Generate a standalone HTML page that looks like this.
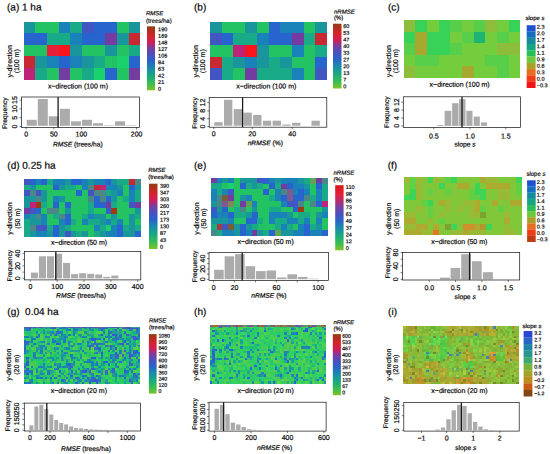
<!DOCTYPE html><html><head><meta charset="utf-8"><title>fig</title><style>html,body{margin:0;padding:0;background:#fff}svg{display:block}text{font-family:"Liberation Sans", sans-serif;fill:#000;text-rendering:geometricPrecision;stroke:#000;stroke-width:0.18px}</style></head><body>
<svg width="550" height="454" viewBox="0 0 550 454">
<rect width="550" height="454" fill="#fff"/>
<!-- panel a -->
<text x="7" y="10.4" font-size="10" text-anchor="start" transform="rotate(0.03 7 10.4)">(a) 1 ha</text>
<g shape-rendering="crispEdges">
<path fill="#19969b" d="M23.6 21.6h11.72v11.65h-11.72zM128.63 21.6h11.72v11.65h-11.72zM116.96 33.2h11.72v11.65h-11.72zM70.28 44.8h11.72v11.65h-11.72zM105.29 44.8h11.72v11.65h-11.72zM35.27 56.4h11.72v11.65h-11.72zM81.95 56.4h11.72v11.65h-11.72z"/>
<path fill="#23c364" d="M35.27 21.6h11.72v11.65h-11.72zM46.94 21.6h11.72v11.65h-11.72zM116.96 21.6h11.72v11.65h-11.72zM23.6 44.8h11.72v11.65h-11.72zM35.27 44.8h11.72v11.65h-11.72zM81.95 44.8h11.72v11.65h-11.72zM93.62 44.8h11.72v11.65h-11.72zM116.96 44.8h11.72v11.65h-11.72zM105.29 56.4h11.72v11.65h-11.72zM46.94 68h11.72v11.65h-11.72zM70.28 68h11.72v11.65h-11.72zM116.96 68h11.72v11.65h-11.72z"/>
<path fill="#1982b9" d="M58.61 21.6h11.72v11.65h-11.72zM70.28 33.2h11.72v11.65h-11.72zM46.94 56.4h11.72v11.65h-11.72zM70.28 56.4h11.72v11.65h-11.72z"/>
<path fill="#19aa87" d="M70.28 21.6h11.72v11.65h-11.72zM46.94 33.2h11.72v11.65h-11.72zM58.61 33.2h11.72v11.65h-11.72zM128.63 44.8h11.72v11.65h-11.72zM93.62 56.4h11.72v11.65h-11.72zM35.27 68h11.72v11.65h-11.72zM81.95 68h11.72v11.65h-11.72z"/>
<path fill="#4155c3" d="M81.95 21.6h11.72v11.65h-11.72z"/>
<path fill="#2864cd" d="M93.62 21.6h11.72v11.65h-11.72zM105.29 21.6h11.72v11.65h-11.72zM23.6 33.2h11.72v11.65h-11.72zM35.27 33.2h11.72v11.65h-11.72zM81.95 33.2h11.72v11.65h-11.72zM93.62 33.2h11.72v11.65h-11.72zM58.61 56.4h11.72v11.65h-11.72zM128.63 56.4h11.72v11.65h-11.72zM105.29 68h11.72v11.65h-11.72z"/>
<path fill="#733ca0" d="M105.29 33.2h11.72v11.65h-11.72zM58.61 68h11.72v11.65h-11.72zM128.63 68h11.72v11.65h-11.72z"/>
<path fill="#c82832" d="M128.63 33.2h11.72v11.65h-11.72zM23.6 56.4h11.72v11.65h-11.72z"/>
<path fill="#e61e37" d="M46.94 44.8h11.72v11.65h-11.72z"/>
<path fill="#fa141e" d="M58.61 44.8h11.72v11.65h-11.72z"/>
<path fill="#19d26e" d="M116.96 56.4h11.72v11.65h-11.72zM93.62 68h11.72v11.65h-11.72z"/>
<path fill="#be2378" d="M23.6 68h11.72v11.65h-11.72z"/>
</g>
<text x="77.95" y="88.52" font-size="7" text-anchor="middle" transform="rotate(0.03 77.95 88.52)">x−direction (100 m)</text>
<text x="11.9" y="61.3" font-size="7" text-anchor="middle" transform="rotate(-90 11.9 61.3)">y-direction</text>
<text x="19" y="61.3" font-size="7" text-anchor="middle" transform="rotate(-90 19 61.3)">(100 m)</text>
<defs><linearGradient id="ga" x1="0" y1="0" x2="0" y2="1"><stop offset="0" stop-color="#8c4114"/><stop offset="0.07" stop-color="#b42d1e"/><stop offset="0.16" stop-color="#d7232d"/><stop offset="0.26" stop-color="#cd1e5f"/><stop offset="0.34" stop-color="#7d3c9b"/><stop offset="0.44" stop-color="#4b50be"/><stop offset="0.55" stop-color="#2864c8"/><stop offset="0.66" stop-color="#198caa"/><stop offset="0.78" stop-color="#19aa7d"/><stop offset="0.9" stop-color="#3cbe50"/><stop offset="1" stop-color="#7dc328"/></linearGradient></defs>
<rect x="147" y="26.3" width="8" height="64" fill="url(#ga)"/>
<text x="158.1" y="31.18" font-size="5.5" text-anchor="start" transform="rotate(0.03 158.1 31.18)" stroke-width="0.08">190</text>
<text x="158.1" y="37.79" font-size="5.5" text-anchor="start" transform="rotate(0.03 158.1 37.79)" stroke-width="0.08">169</text>
<text x="158.1" y="44.4" font-size="5.5" text-anchor="start" transform="rotate(0.03 158.1 44.4)" stroke-width="0.08">148</text>
<text x="158.1" y="51.01" font-size="5.5" text-anchor="start" transform="rotate(0.03 158.1 51.01)" stroke-width="0.08">127</text>
<text x="158.1" y="57.62" font-size="5.5" text-anchor="start" transform="rotate(0.03 158.1 57.62)" stroke-width="0.08">106</text>
<text x="158.1" y="64.24" font-size="5.5" text-anchor="start" transform="rotate(0.03 158.1 64.24)" stroke-width="0.08">84</text>
<text x="158.1" y="70.85" font-size="5.5" text-anchor="start" transform="rotate(0.03 158.1 70.85)" stroke-width="0.08">63</text>
<text x="158.1" y="77.46" font-size="5.5" text-anchor="start" transform="rotate(0.03 158.1 77.46)" stroke-width="0.08">42</text>
<text x="158.1" y="84.07" font-size="5.5" text-anchor="start" transform="rotate(0.03 158.1 84.07)" stroke-width="0.08">21</text>
<text x="158.1" y="90.68" font-size="5.5" text-anchor="start" transform="rotate(0.03 158.1 90.68)" stroke-width="0.08">0</text>
<text x="146" y="15.36" font-size="6" text-anchor="start" transform="rotate(0.03 146 15.36)" stroke-width="0.08"><tspan font-style="italic">RMSE</tspan></text>
<text x="146" y="22.76" font-size="6" text-anchor="start" transform="rotate(0.03 146 22.76)" stroke-width="0.08">(trees/ha)</text>
<rect x="26.7" y="119.8" width="10.05" height="6" fill="#ababab"/>
<rect x="37.75" y="99" width="10.05" height="26.8" fill="#ababab"/>
<rect x="48.8" y="116.3" width="10.05" height="9.5" fill="#ababab"/>
<rect x="59.85" y="108.8" width="10.05" height="17" fill="#ababab"/>
<rect x="70.9" y="121.3" width="10.05" height="4.5" fill="#ababab"/>
<rect x="81.95" y="119.8" width="10.05" height="6" fill="#ababab"/>
<rect x="93" y="123.2" width="10.05" height="2.6" fill="#ababab"/>
<rect x="104.05" y="125.3" width="10.05" height="0.5" fill="#ababab"/>
<rect x="115.1" y="121.3" width="10.05" height="4.5" fill="#ababab"/>
<rect x="126.15" y="125.3" width="10.05" height="0.5" fill="#ababab"/>
<rect x="21.5" y="97" width="118.1" height="30.4" fill="none" stroke="#111" stroke-width="0.7"/>
<line x1="58.1" y1="97" x2="58.1" y2="127.4" stroke="#1a1a1a" stroke-width="1.3"/>
<line x1="26.2" y1="127.4" x2="26.2" y2="129.4" stroke="#222" stroke-width="0.6"/>
<text x="26.2" y="136.42" font-size="7" text-anchor="middle" transform="rotate(0.03 26.2 136.42)">0</text>
<line x1="53.8" y1="127.4" x2="53.8" y2="129.4" stroke="#222" stroke-width="0.6"/>
<text x="53.8" y="136.42" font-size="7" text-anchor="middle" transform="rotate(0.03 53.8 136.42)">50</text>
<line x1="81.4" y1="127.4" x2="81.4" y2="129.4" stroke="#222" stroke-width="0.6"/>
<text x="81.4" y="136.42" font-size="7" text-anchor="middle" transform="rotate(0.03 81.4 136.42)">100</text>
<line x1="136.6" y1="127.4" x2="136.6" y2="129.4" stroke="#222" stroke-width="0.6"/>
<text x="136.6" y="136.42" font-size="7" text-anchor="middle" transform="rotate(0.03 136.6 136.42)">200</text>
<line x1="19.5" y1="126.5" x2="21.5" y2="126.5" stroke="#222" stroke-width="0.6"/>
<text x="16.7" y="126.5" font-size="7" text-anchor="middle" transform="rotate(-90 16.7 126.5)">0</text>
<line x1="19.5" y1="117.7" x2="21.5" y2="117.7" stroke="#222" stroke-width="0.6"/>
<text x="16.7" y="117.7" font-size="7" text-anchor="middle" transform="rotate(-90 16.7 117.7)">5</text>
<line x1="19.5" y1="108.9" x2="21.5" y2="108.9" stroke="#222" stroke-width="0.6"/>
<text x="16.7" y="108.9" font-size="7" text-anchor="middle" transform="rotate(-90 16.7 108.9)">10</text>
<line x1="19.5" y1="100.1" x2="21.5" y2="100.1" stroke="#222" stroke-width="0.6"/>
<text x="16.7" y="100.1" font-size="7" text-anchor="middle" transform="rotate(-90 16.7 100.1)">15</text>
<text x="77.8" y="146.51" font-size="6.7" text-anchor="middle" transform="rotate(0.03 77.8 146.51)"><tspan font-style="italic">RMSE</tspan> (trees/ha)</text>
<text x="7.4" y="113.2" font-size="6.7" text-anchor="middle" transform="rotate(-90 7.4 113.2)">Frequency</text>
<!-- panel b -->
<text x="194" y="10.4" font-size="10" text-anchor="start" transform="rotate(0.03 194 10.4)">(b)</text>
<g shape-rendering="crispEdges">
<path fill="#19969b" d="M210 21.7h11.75v11.65h-11.75zM245.1 21.7h11.75v11.65h-11.75zM315.3 21.7h11.75v11.65h-11.75zM256.8 44.9h11.75v11.65h-11.75zM233.4 56.5h11.75v11.65h-11.75zM256.8 56.5h11.75v11.65h-11.75zM280.2 56.5h11.75v11.65h-11.75z"/>
<path fill="#23c364" d="M221.7 21.7h11.75v11.65h-11.75zM233.4 21.7h11.75v11.65h-11.75zM256.8 21.7h11.75v11.65h-11.75zM303.6 21.7h11.75v11.65h-11.75zM210 44.9h11.75v11.65h-11.75zM221.7 44.9h11.75v11.65h-11.75zM268.5 44.9h11.75v11.65h-11.75zM280.2 44.9h11.75v11.65h-11.75zM303.6 44.9h11.75v11.65h-11.75zM291.9 56.5h11.75v11.65h-11.75zM303.6 56.5h11.75v11.65h-11.75zM233.4 68.1h11.75v11.65h-11.75zM303.6 68.1h11.75v11.65h-11.75z"/>
<path fill="#2864cd" d="M268.5 21.7h11.75v11.65h-11.75zM221.7 33.3h11.75v11.65h-11.75zM268.5 33.3h11.75v11.65h-11.75zM280.2 33.3h11.75v11.65h-11.75zM315.3 56.5h11.75v11.65h-11.75z"/>
<path fill="#1982b9" d="M280.2 21.7h11.75v11.65h-11.75zM291.9 21.7h11.75v11.65h-11.75zM256.8 33.3h11.75v11.65h-11.75zM291.9 44.9h11.75v11.65h-11.75zM245.1 56.5h11.75v11.65h-11.75zM291.9 68.1h11.75v11.65h-11.75z"/>
<path fill="#4155c3" d="M210 33.3h11.75v11.65h-11.75zM210 68.1h11.75v11.65h-11.75zM315.3 68.1h11.75v11.65h-11.75z"/>
<path fill="#19aa87" d="M233.4 33.3h11.75v11.65h-11.75zM245.1 33.3h11.75v11.65h-11.75zM303.6 33.3h11.75v11.65h-11.75zM315.3 44.9h11.75v11.65h-11.75zM221.7 56.5h11.75v11.65h-11.75zM268.5 56.5h11.75v11.65h-11.75zM221.7 68.1h11.75v11.65h-11.75zM256.8 68.1h11.75v11.65h-11.75zM268.5 68.1h11.75v11.65h-11.75zM280.2 68.1h11.75v11.65h-11.75z"/>
<path fill="#733ca0" d="M291.9 33.3h11.75v11.65h-11.75zM245.1 68.1h11.75v11.65h-11.75z"/>
<path fill="#c82832" d="M315.3 33.3h11.75v11.65h-11.75zM210 56.5h11.75v11.65h-11.75z"/>
<path fill="#be2378" d="M233.4 44.9h11.75v11.65h-11.75z"/>
<path fill="#fa141e" d="M245.1 44.9h11.75v11.65h-11.75z"/>
</g>
<text x="266.3" y="88.52" font-size="7" text-anchor="middle" transform="rotate(0.03 266.3 88.52)">x−direction (100 m)</text>
<text x="198.3" y="61.3" font-size="7" text-anchor="middle" transform="rotate(-90 198.3 61.3)">y-direction</text>
<text x="205.4" y="61.3" font-size="7" text-anchor="middle" transform="rotate(-90 205.4 61.3)">(100 m)</text>
<defs><linearGradient id="gb" x1="0" y1="0" x2="0" y2="1"><stop offset="0" stop-color="#8c4114"/><stop offset="0.07" stop-color="#b42d1e"/><stop offset="0.16" stop-color="#d7232d"/><stop offset="0.26" stop-color="#cd1e5f"/><stop offset="0.34" stop-color="#7d3c9b"/><stop offset="0.44" stop-color="#4b50be"/><stop offset="0.55" stop-color="#2864c8"/><stop offset="0.66" stop-color="#198caa"/><stop offset="0.78" stop-color="#19aa7d"/><stop offset="0.9" stop-color="#3cbe50"/><stop offset="1" stop-color="#7dc328"/></linearGradient></defs>
<rect x="333" y="23.7" width="8.5" height="64.8" fill="url(#gb)"/>
<text x="343.3" y="27.98" font-size="5.5" text-anchor="start" transform="rotate(0.03 343.3 27.98)" stroke-width="0.08">60</text>
<text x="343.3" y="34.68" font-size="5.5" text-anchor="start" transform="rotate(0.03 343.3 34.68)" stroke-width="0.08">53</text>
<text x="343.3" y="41.38" font-size="5.5" text-anchor="start" transform="rotate(0.03 343.3 41.38)" stroke-width="0.08">47</text>
<text x="343.3" y="48.08" font-size="5.5" text-anchor="start" transform="rotate(0.03 343.3 48.08)" stroke-width="0.08">40</text>
<text x="343.3" y="54.78" font-size="5.5" text-anchor="start" transform="rotate(0.03 343.3 54.78)" stroke-width="0.08">33</text>
<text x="343.3" y="61.48" font-size="5.5" text-anchor="start" transform="rotate(0.03 343.3 61.48)" stroke-width="0.08">27</text>
<text x="343.3" y="68.18" font-size="5.5" text-anchor="start" transform="rotate(0.03 343.3 68.18)" stroke-width="0.08">20</text>
<text x="343.3" y="74.88" font-size="5.5" text-anchor="start" transform="rotate(0.03 343.3 74.88)" stroke-width="0.08">13</text>
<text x="343.3" y="81.58" font-size="5.5" text-anchor="start" transform="rotate(0.03 343.3 81.58)" stroke-width="0.08">7</text>
<text x="343.3" y="88.28" font-size="5.5" text-anchor="start" transform="rotate(0.03 343.3 88.28)" stroke-width="0.08">0</text>
<text x="334" y="13.66" font-size="6" text-anchor="start" transform="rotate(0.03 334 13.66)" stroke-width="0.08"><tspan font-style="italic">nRMSE</tspan></text>
<text x="334" y="19.66" font-size="6" text-anchor="start" transform="rotate(0.03 334 19.66)" stroke-width="0.08">(%)</text>
<rect x="214.3" y="122.2" width="8.32" height="3.5" fill="#ababab"/>
<rect x="224.02" y="99.8" width="8.32" height="25.9" fill="#ababab"/>
<rect x="233.74" y="109.1" width="8.32" height="16.6" fill="#ababab"/>
<rect x="243.46" y="112.6" width="8.32" height="13.1" fill="#ababab"/>
<rect x="253.18" y="114.9" width="8.32" height="10.8" fill="#ababab"/>
<rect x="262.9" y="120.7" width="8.32" height="5" fill="#ababab"/>
<rect x="272.62" y="120.7" width="8.32" height="5" fill="#ababab"/>
<rect x="282.34" y="124.5" width="8.32" height="1.2" fill="#ababab"/>
<rect x="292.06" y="122.8" width="8.32" height="2.9" fill="#ababab"/>
<rect x="311.5" y="120.7" width="8.32" height="5" fill="#ababab"/>
<rect x="209.2" y="97.4" width="117.6" height="29.8" fill="none" stroke="#111" stroke-width="0.7"/>
<line x1="242.6" y1="97.4" x2="242.6" y2="127.2" stroke="#1a1a1a" stroke-width="1.3"/>
<line x1="213.7" y1="127.2" x2="213.7" y2="129.2" stroke="#222" stroke-width="0.6"/>
<text x="213.7" y="136.32" font-size="7" text-anchor="middle" transform="rotate(0.03 213.7 136.32)">0</text>
<line x1="252.3" y1="127.2" x2="252.3" y2="129.2" stroke="#222" stroke-width="0.6"/>
<text x="252.3" y="136.32" font-size="7" text-anchor="middle" transform="rotate(0.03 252.3 136.32)">20</text>
<line x1="292.2" y1="127.2" x2="292.2" y2="129.2" stroke="#222" stroke-width="0.6"/>
<text x="292.2" y="136.32" font-size="7" text-anchor="middle" transform="rotate(0.03 292.2 136.32)">40</text>
<line x1="207.2" y1="126.6" x2="209.2" y2="126.6" stroke="#222" stroke-width="0.6"/>
<text x="204.9" y="126.6" font-size="7" text-anchor="middle" transform="rotate(-90 204.9 126.6)">0</text>
<line x1="207.2" y1="118.8" x2="209.2" y2="118.8" stroke="#222" stroke-width="0.6"/>
<text x="204.9" y="118.8" font-size="7" text-anchor="middle" transform="rotate(-90 204.9 118.8)">4</text>
<line x1="207.2" y1="110.9" x2="209.2" y2="110.9" stroke="#222" stroke-width="0.6"/>
<text x="204.9" y="110.9" font-size="7" text-anchor="middle" transform="rotate(-90 204.9 110.9)">8</text>
<line x1="207.2" y1="102.6" x2="209.2" y2="102.6" stroke="#222" stroke-width="0.6"/>
<text x="204.9" y="102.6" font-size="7" text-anchor="middle" transform="rotate(-90 204.9 102.6)">12</text>
<text x="265.3" y="145.21" font-size="6.7" text-anchor="middle" transform="rotate(0.03 265.3 145.21)"><tspan font-style="italic">nRMSE</tspan> (%)</text>
<text x="196.8" y="113" font-size="6.7" text-anchor="middle" transform="rotate(-90 196.8 113)">Frequency</text>
<!-- panel c -->
<text x="388" y="10.4" font-size="10" text-anchor="start" transform="rotate(0.03 388 10.4)">(c)</text>
<g shape-rendering="crispEdges">
<path fill="#8cbe3c" d="M403.6 20h11.72v11.65h-11.72zM485.29 20h11.72v11.65h-11.72zM496.96 43.2h11.72v11.65h-11.72zM508.63 43.2h11.72v11.65h-11.72zM403.6 66.4h11.72v11.65h-11.72z"/>
<path fill="#38d258" d="M415.27 20h11.72v11.65h-11.72zM438.61 20h11.72v11.65h-11.72zM508.63 20h11.72v11.65h-11.72zM403.6 31.6h11.72v11.65h-11.72zM426.94 31.6h11.72v11.65h-11.72zM438.61 31.6h11.72v11.65h-11.72zM426.94 43.2h11.72v11.65h-11.72zM438.61 43.2h11.72v11.65h-11.72z"/>
<path fill="#73cd3c" d="M426.94 20h11.72v11.65h-11.72zM461.95 20h11.72v11.65h-11.72zM496.96 20h11.72v11.65h-11.72zM450.28 31.6h11.72v11.65h-11.72zM485.29 31.6h11.72v11.65h-11.72zM508.63 31.6h11.72v11.65h-11.72zM461.95 43.2h11.72v11.65h-11.72zM473.62 43.2h11.72v11.65h-11.72zM485.29 43.2h11.72v11.65h-11.72zM403.6 54.8h11.72v11.65h-11.72zM438.61 54.8h11.72v11.65h-11.72zM450.28 54.8h11.72v11.65h-11.72zM461.95 54.8h11.72v11.65h-11.72zM473.62 54.8h11.72v11.65h-11.72zM508.63 54.8h11.72v11.65h-11.72zM415.27 66.4h11.72v11.65h-11.72zM426.94 66.4h11.72v11.65h-11.72zM438.61 66.4h11.72v11.65h-11.72zM450.28 66.4h11.72v11.65h-11.72zM473.62 66.4h11.72v11.65h-11.72zM485.29 66.4h11.72v11.65h-11.72zM508.63 66.4h11.72v11.65h-11.72z"/>
<path fill="#58cf4a" d="M450.28 20h11.72v11.65h-11.72zM473.62 20h11.72v11.65h-11.72zM461.95 31.6h11.72v11.65h-11.72zM496.96 31.6h11.72v11.65h-11.72zM403.6 43.2h11.72v11.65h-11.72zM450.28 43.2h11.72v11.65h-11.72zM415.27 54.8h11.72v11.65h-11.72zM426.94 54.8h11.72v11.65h-11.72zM485.29 54.8h11.72v11.65h-11.72zM496.96 54.8h11.72v11.65h-11.72zM496.96 66.4h11.72v11.65h-11.72z"/>
<path fill="#a6a830" d="M415.27 31.6h11.72v11.65h-11.72zM415.27 43.2h11.72v11.65h-11.72zM461.95 66.4h11.72v11.65h-11.72z"/>
<path fill="#1eb473" d="M473.62 31.6h11.72v11.65h-11.72z"/>
</g>
<text x="459.65" y="86.82" font-size="7" text-anchor="middle" transform="rotate(0.03 459.65 86.82)">x−direction (100 m)</text>
<text x="390.8" y="61.2" font-size="7" text-anchor="middle" transform="rotate(-90 390.8 61.2)">y-direction</text>
<text x="398.5" y="61.2" font-size="7" text-anchor="middle" transform="rotate(-90 398.5 61.2)">(100 m)</text>
<rect x="526.7" y="25.2" width="8.9" height="6.37" fill="#1e50d2"/>
<rect x="526.7" y="31.47" width="8.9" height="6.37" fill="#146ebe"/>
<rect x="526.7" y="37.74" width="8.9" height="6.37" fill="#148ca0"/>
<rect x="526.7" y="44.01" width="8.9" height="6.37" fill="#14a582"/>
<rect x="526.7" y="50.28" width="8.9" height="6.37" fill="#28be5a"/>
<rect x="526.7" y="56.55" width="8.9" height="6.37" fill="#6ec83c"/>
<rect x="526.7" y="62.82" width="8.9" height="6.37" fill="#aaa028"/>
<rect x="526.7" y="69.09" width="8.9" height="6.37" fill="#e66e1e"/>
<rect x="526.7" y="75.36" width="8.9" height="6.37" fill="#f03c14"/>
<rect x="526.7" y="81.63" width="8.9" height="6.37" fill="#f01414"/>
<text x="536.8" y="28.78" font-size="5.5" text-anchor="start" transform="rotate(0.03 536.8 28.78)" stroke-width="0.08">2.3</text>
<text x="536.8" y="35.28" font-size="5.5" text-anchor="start" transform="rotate(0.03 536.8 35.28)" stroke-width="0.08">2.0</text>
<text x="536.8" y="41.78" font-size="5.5" text-anchor="start" transform="rotate(0.03 536.8 41.78)" stroke-width="0.08">1.7</text>
<text x="536.8" y="48.28" font-size="5.5" text-anchor="start" transform="rotate(0.03 536.8 48.28)" stroke-width="0.08">1.4</text>
<text x="536.8" y="54.78" font-size="5.5" text-anchor="start" transform="rotate(0.03 536.8 54.78)" stroke-width="0.08">1.1</text>
<text x="536.8" y="61.28" font-size="5.5" text-anchor="start" transform="rotate(0.03 536.8 61.28)" stroke-width="0.08">0.9</text>
<text x="536.8" y="67.78" font-size="5.5" text-anchor="start" transform="rotate(0.03 536.8 67.78)" stroke-width="0.08">0.6</text>
<text x="536.8" y="74.28" font-size="5.5" text-anchor="start" transform="rotate(0.03 536.8 74.28)" stroke-width="0.08">0.3</text>
<text x="536.8" y="80.78" font-size="5.5" text-anchor="start" transform="rotate(0.03 536.8 80.78)" stroke-width="0.08">0.0</text>
<text x="536.8" y="87.28" font-size="5.5" text-anchor="start" transform="rotate(0.03 536.8 87.28)" stroke-width="0.08">−0.3</text>
<text x="525.5" y="20.06" font-size="6" text-anchor="start" transform="rotate(0.03 525.5 20.06)" stroke-width="0.08">slope <tspan font-style="italic">s</tspan></text>
<rect x="437.3" y="125" width="6.1" height="0.9" fill="#ababab"/>
<rect x="444.6" y="110.8" width="6.7" height="15.1" fill="#ababab"/>
<rect x="452.1" y="103.2" width="6.4" height="22.7" fill="#ababab"/>
<rect x="459.1" y="99.1" width="6.4" height="26.8" fill="#ababab"/>
<rect x="466.4" y="110.8" width="6.1" height="15.1" fill="#ababab"/>
<rect x="473.7" y="116.6" width="6.1" height="9.3" fill="#ababab"/>
<rect x="480.9" y="122.4" width="6.1" height="3.5" fill="#ababab"/>
<rect x="403.3" y="96.8" width="117.2" height="30.6" fill="none" stroke="#111" stroke-width="0.7"/>
<line x1="462" y1="96.8" x2="462" y2="127.4" stroke="#1a1a1a" stroke-width="1.3"/>
<line x1="433.8" y1="127.4" x2="433.8" y2="129.4" stroke="#222" stroke-width="0.6"/>
<text x="433.8" y="138.62" font-size="7" text-anchor="middle" transform="rotate(0.03 433.8 138.62)">0.5</text>
<line x1="470" y1="127.4" x2="470" y2="129.4" stroke="#222" stroke-width="0.6"/>
<text x="470" y="138.62" font-size="7" text-anchor="middle" transform="rotate(0.03 470 138.62)">1.0</text>
<line x1="505.8" y1="127.4" x2="505.8" y2="129.4" stroke="#222" stroke-width="0.6"/>
<text x="505.8" y="138.62" font-size="7" text-anchor="middle" transform="rotate(0.03 505.8 138.62)">1.5</text>
<line x1="401.3" y1="125.9" x2="403.3" y2="125.9" stroke="#222" stroke-width="0.6"/>
<text x="398.9" y="125.9" font-size="7" text-anchor="middle" transform="rotate(-90 398.9 125.9)">0</text>
<line x1="401.3" y1="118" x2="403.3" y2="118" stroke="#222" stroke-width="0.6"/>
<text x="398.9" y="118" font-size="7" text-anchor="middle" transform="rotate(-90 398.9 118)">4</text>
<line x1="401.3" y1="110.1" x2="403.3" y2="110.1" stroke="#222" stroke-width="0.6"/>
<text x="398.9" y="110.1" font-size="7" text-anchor="middle" transform="rotate(-90 398.9 110.1)">8</text>
<line x1="401.3" y1="102.2" x2="403.3" y2="102.2" stroke="#222" stroke-width="0.6"/>
<text x="398.9" y="102.2" font-size="7" text-anchor="middle" transform="rotate(-90 398.9 102.2)">12</text>
<text x="465" y="146.61" font-size="6.7" text-anchor="middle" transform="rotate(0.03 465 146.61)">slope <tspan font-style="italic">s</tspan></text>
<text x="388.6" y="112.1" font-size="6.7" text-anchor="middle" transform="rotate(-90 388.6 112.1)">Frequency</text>
<!-- panel d -->
<text x="7.3" y="168.7" font-size="10" text-anchor="start" transform="rotate(0.03 7.3 168.7)">(d) 0.25 ha</text>
<g shape-rendering="crispEdges">
<path fill="#4155c3" d="M23.9 178.9h5.88v5.82h-5.88zM23.9 190.44h5.88v5.82h-5.88zM35.56 190.44h5.88v5.82h-5.88zM88.03 190.44h5.88v5.82h-5.88zM128.84 201.98h5.88v5.82h-5.88zM29.73 207.75h5.88v5.82h-5.88zM35.56 225.06h5.88v5.82h-5.88zM41.39 225.06h5.88v5.82h-5.88zM64.71 230.83h5.88v5.82h-5.88z"/>
<path fill="#2864cd" d="M29.73 178.9h5.88v5.82h-5.88zM41.39 178.9h5.88v5.82h-5.88zM70.54 178.9h5.88v5.82h-5.88zM76.37 178.9h5.88v5.82h-5.88zM105.52 178.9h5.88v5.82h-5.88zM53.05 184.67h5.88v5.82h-5.88zM128.84 184.67h5.88v5.82h-5.88zM76.37 190.44h5.88v5.82h-5.88zM93.86 196.21h5.88v5.82h-5.88zM105.52 196.21h5.88v5.82h-5.88zM53.05 201.98h5.88v5.82h-5.88zM64.71 201.98h5.88v5.82h-5.88zM93.86 201.98h5.88v5.82h-5.88zM99.69 201.98h5.88v5.82h-5.88zM35.56 207.75h5.88v5.82h-5.88zM105.52 207.75h5.88v5.82h-5.88zM64.71 213.52h5.88v5.82h-5.88zM64.71 219.29h5.88v5.82h-5.88zM53.05 225.06h5.88v5.82h-5.88zM117.18 225.06h5.88v5.82h-5.88zM53.05 230.83h5.88v5.82h-5.88zM117.18 230.83h5.88v5.82h-5.88zM134.67 230.83h5.88v5.82h-5.88z"/>
<path fill="#1982b9" d="M35.56 178.9h5.88v5.82h-5.88zM53.05 178.9h5.88v5.82h-5.88zM58.88 178.9h5.88v5.82h-5.88zM82.2 178.9h5.88v5.82h-5.88zM93.86 178.9h5.88v5.82h-5.88zM99.69 178.9h5.88v5.82h-5.88zM82.2 184.67h5.88v5.82h-5.88zM105.52 184.67h5.88v5.82h-5.88zM111.35 184.67h5.88v5.82h-5.88zM117.18 190.44h5.88v5.82h-5.88zM128.84 190.44h5.88v5.82h-5.88zM53.05 196.21h5.88v5.82h-5.88zM128.84 196.21h5.88v5.82h-5.88zM23.9 213.52h5.88v5.82h-5.88zM41.39 213.52h5.88v5.82h-5.88zM88.03 213.52h5.88v5.82h-5.88zM41.39 219.29h5.88v5.82h-5.88zM58.88 219.29h5.88v5.82h-5.88zM82.2 219.29h5.88v5.82h-5.88zM105.52 219.29h5.88v5.82h-5.88zM117.18 219.29h5.88v5.82h-5.88zM93.86 225.06h5.88v5.82h-5.88zM111.35 225.06h5.88v5.82h-5.88zM35.56 230.83h5.88v5.82h-5.88zM41.39 230.83h5.88v5.82h-5.88zM105.52 230.83h5.88v5.82h-5.88zM111.35 230.83h5.88v5.82h-5.88z"/>
<path fill="#19aa87" d="M47.22 178.9h5.88v5.82h-5.88zM117.18 178.9h5.88v5.82h-5.88zM123.01 178.9h5.88v5.82h-5.88zM23.9 184.67h5.88v5.82h-5.88zM64.71 184.67h5.88v5.82h-5.88zM70.54 184.67h5.88v5.82h-5.88zM105.52 190.44h5.88v5.82h-5.88zM134.67 190.44h5.88v5.82h-5.88zM123.01 196.21h5.88v5.82h-5.88zM134.67 196.21h5.88v5.82h-5.88zM41.39 201.98h5.88v5.82h-5.88zM88.03 201.98h5.88v5.82h-5.88zM111.35 201.98h5.88v5.82h-5.88zM88.03 207.75h5.88v5.82h-5.88zM53.05 213.52h5.88v5.82h-5.88zM82.2 213.52h5.88v5.82h-5.88zM134.67 213.52h5.88v5.82h-5.88zM23.9 219.29h5.88v5.82h-5.88zM70.54 219.29h5.88v5.82h-5.88zM88.03 219.29h5.88v5.82h-5.88zM93.86 219.29h5.88v5.82h-5.88zM111.35 219.29h5.88v5.82h-5.88zM23.9 225.06h5.88v5.82h-5.88zM47.22 225.06h5.88v5.82h-5.88zM64.71 225.06h5.88v5.82h-5.88zM99.69 225.06h5.88v5.82h-5.88zM123.01 225.06h5.88v5.82h-5.88zM134.67 225.06h5.88v5.82h-5.88zM23.9 230.83h5.88v5.82h-5.88zM76.37 230.83h5.88v5.82h-5.88zM93.86 230.83h5.88v5.82h-5.88z"/>
<path fill="#19969b" d="M64.71 178.9h5.88v5.82h-5.88zM88.03 178.9h5.88v5.82h-5.88zM111.35 178.9h5.88v5.82h-5.88zM29.73 184.67h5.88v5.82h-5.88zM58.88 184.67h5.88v5.82h-5.88zM117.18 184.67h5.88v5.82h-5.88zM134.67 184.67h5.88v5.82h-5.88zM41.39 190.44h5.88v5.82h-5.88zM111.35 190.44h5.88v5.82h-5.88zM23.9 196.21h5.88v5.82h-5.88zM29.73 196.21h5.88v5.82h-5.88zM41.39 196.21h5.88v5.82h-5.88zM58.88 196.21h5.88v5.82h-5.88zM111.35 196.21h5.88v5.82h-5.88zM23.9 201.98h5.88v5.82h-5.88zM64.71 207.75h5.88v5.82h-5.88zM134.67 207.75h5.88v5.82h-5.88zM29.73 213.52h5.88v5.82h-5.88zM93.86 213.52h5.88v5.82h-5.88zM99.69 213.52h5.88v5.82h-5.88zM111.35 213.52h5.88v5.82h-5.88zM128.84 213.52h5.88v5.82h-5.88zM29.73 219.29h5.88v5.82h-5.88zM35.56 219.29h5.88v5.82h-5.88zM99.69 219.29h5.88v5.82h-5.88zM128.84 219.29h5.88v5.82h-5.88zM58.88 225.06h5.88v5.82h-5.88zM128.84 225.06h5.88v5.82h-5.88zM29.73 230.83h5.88v5.82h-5.88zM47.22 230.83h5.88v5.82h-5.88zM58.88 230.83h5.88v5.82h-5.88zM70.54 230.83h5.88v5.82h-5.88zM82.2 230.83h5.88v5.82h-5.88zM99.69 230.83h5.88v5.82h-5.88zM123.01 230.83h5.88v5.82h-5.88zM128.84 230.83h5.88v5.82h-5.88z"/>
<path fill="#c82832" d="M128.84 178.9h5.88v5.82h-5.88zM93.86 184.67h5.88v5.82h-5.88z"/>
<path fill="#4b8787" d="M134.67 178.9h5.88v5.82h-5.88zM88.03 184.67h5.88v5.82h-5.88zM29.73 190.44h5.88v5.82h-5.88zM93.86 190.44h5.88v5.82h-5.88zM99.69 190.44h5.88v5.82h-5.88zM35.56 196.21h5.88v5.82h-5.88zM88.03 196.21h5.88v5.82h-5.88zM99.69 196.21h5.88v5.82h-5.88zM47.22 207.75h5.88v5.82h-5.88zM53.05 207.75h5.88v5.82h-5.88zM35.56 213.52h5.88v5.82h-5.88zM58.88 213.52h5.88v5.82h-5.88zM29.73 225.06h5.88v5.82h-5.88z"/>
<path fill="#23c364" d="M35.56 184.67h5.88v5.82h-5.88zM41.39 184.67h5.88v5.82h-5.88zM47.22 184.67h5.88v5.82h-5.88zM76.37 184.67h5.88v5.82h-5.88zM123.01 184.67h5.88v5.82h-5.88zM47.22 190.44h5.88v5.82h-5.88zM53.05 190.44h5.88v5.82h-5.88zM58.88 190.44h5.88v5.82h-5.88zM64.71 190.44h5.88v5.82h-5.88zM70.54 190.44h5.88v5.82h-5.88zM82.2 190.44h5.88v5.82h-5.88zM123.01 190.44h5.88v5.82h-5.88zM47.22 196.21h5.88v5.82h-5.88zM64.71 196.21h5.88v5.82h-5.88zM70.54 196.21h5.88v5.82h-5.88zM76.37 196.21h5.88v5.82h-5.88zM82.2 196.21h5.88v5.82h-5.88zM117.18 196.21h5.88v5.82h-5.88zM47.22 201.98h5.88v5.82h-5.88zM58.88 201.98h5.88v5.82h-5.88zM70.54 201.98h5.88v5.82h-5.88zM76.37 201.98h5.88v5.82h-5.88zM82.2 201.98h5.88v5.82h-5.88zM117.18 201.98h5.88v5.82h-5.88zM123.01 201.98h5.88v5.82h-5.88zM41.39 207.75h5.88v5.82h-5.88zM58.88 207.75h5.88v5.82h-5.88zM70.54 207.75h5.88v5.82h-5.88zM76.37 207.75h5.88v5.82h-5.88zM82.2 207.75h5.88v5.82h-5.88zM93.86 207.75h5.88v5.82h-5.88zM99.69 207.75h5.88v5.82h-5.88zM117.18 207.75h5.88v5.82h-5.88zM123.01 207.75h5.88v5.82h-5.88zM128.84 207.75h5.88v5.82h-5.88zM47.22 213.52h5.88v5.82h-5.88zM70.54 213.52h5.88v5.82h-5.88zM76.37 213.52h5.88v5.82h-5.88zM105.52 213.52h5.88v5.82h-5.88zM117.18 213.52h5.88v5.82h-5.88zM123.01 213.52h5.88v5.82h-5.88zM47.22 219.29h5.88v5.82h-5.88zM53.05 219.29h5.88v5.82h-5.88zM76.37 219.29h5.88v5.82h-5.88zM123.01 219.29h5.88v5.82h-5.88zM134.67 219.29h5.88v5.82h-5.88zM70.54 225.06h5.88v5.82h-5.88zM76.37 225.06h5.88v5.82h-5.88zM82.2 225.06h5.88v5.82h-5.88zM88.03 225.06h5.88v5.82h-5.88zM88.03 230.83h5.88v5.82h-5.88z"/>
<path fill="#be2378" d="M99.69 184.67h5.88v5.82h-5.88zM29.73 201.98h5.88v5.82h-5.88z"/>
<path fill="#a03814" d="M35.56 201.98h5.88v5.82h-5.88zM111.35 207.75h5.88v5.82h-5.88z"/>
<path fill="#733ca0" d="M105.52 201.98h5.88v5.82h-5.88zM134.67 201.98h5.88v5.82h-5.88zM23.9 207.75h5.88v5.82h-5.88z"/>
<path fill="#19d26e" d="M105.52 225.06h5.88v5.82h-5.88z"/>
</g>
<text x="79" y="244.82" font-size="7" text-anchor="middle" transform="rotate(0.03 79 244.82)">x−direction (50 m)</text>
<text x="12.4" y="218.5" font-size="7" text-anchor="middle" transform="rotate(-90 12.4 218.5)">y-direction</text>
<text x="19.8" y="218.5" font-size="7" text-anchor="middle" transform="rotate(-90 19.8 218.5)">(50 m)</text>
<defs><linearGradient id="gd" x1="0" y1="0" x2="0" y2="1"><stop offset="0" stop-color="#8c4114"/><stop offset="0.07" stop-color="#b42d1e"/><stop offset="0.16" stop-color="#d7232d"/><stop offset="0.26" stop-color="#cd1e5f"/><stop offset="0.34" stop-color="#7d3c9b"/><stop offset="0.44" stop-color="#4b50be"/><stop offset="0.55" stop-color="#2864c8"/><stop offset="0.66" stop-color="#198caa"/><stop offset="0.78" stop-color="#19aa7d"/><stop offset="0.9" stop-color="#3cbe50"/><stop offset="1" stop-color="#7dc328"/></linearGradient></defs>
<rect x="149" y="183.7" width="8.5" height="65.3" fill="url(#gd)"/>
<text x="159.9" y="187.68" font-size="5.5" text-anchor="start" transform="rotate(0.03 159.9 187.68)" stroke-width="0.08">390</text>
<text x="159.9" y="194.46" font-size="5.5" text-anchor="start" transform="rotate(0.03 159.9 194.46)" stroke-width="0.08">347</text>
<text x="159.9" y="201.24" font-size="5.5" text-anchor="start" transform="rotate(0.03 159.9 201.24)" stroke-width="0.08">303</text>
<text x="159.9" y="208.01" font-size="5.5" text-anchor="start" transform="rotate(0.03 159.9 208.01)" stroke-width="0.08">260</text>
<text x="159.9" y="214.79" font-size="5.5" text-anchor="start" transform="rotate(0.03 159.9 214.79)" stroke-width="0.08">217</text>
<text x="159.9" y="221.57" font-size="5.5" text-anchor="start" transform="rotate(0.03 159.9 221.57)" stroke-width="0.08">173</text>
<text x="159.9" y="228.35" font-size="5.5" text-anchor="start" transform="rotate(0.03 159.9 228.35)" stroke-width="0.08">130</text>
<text x="159.9" y="235.12" font-size="5.5" text-anchor="start" transform="rotate(0.03 159.9 235.12)" stroke-width="0.08">87</text>
<text x="159.9" y="241.9" font-size="5.5" text-anchor="start" transform="rotate(0.03 159.9 241.9)" stroke-width="0.08">43</text>
<text x="159.9" y="248.68" font-size="5.5" text-anchor="start" transform="rotate(0.03 159.9 248.68)" stroke-width="0.08">0</text>
<text x="148.2" y="171.96" font-size="6" text-anchor="start" transform="rotate(0.03 148.2 171.96)" stroke-width="0.08"><tspan font-style="italic">RMSE</tspan></text>
<text x="148.2" y="178.96" font-size="6" text-anchor="start" transform="rotate(0.03 148.2 178.96)" stroke-width="0.08">(trees/ha)</text>
<rect x="30.9" y="272.6" width="7.04" height="5.8" fill="#ababab"/>
<rect x="38.94" y="256.3" width="7.04" height="22.1" fill="#ababab"/>
<rect x="46.98" y="256.3" width="7.04" height="22.1" fill="#ababab"/>
<rect x="55.02" y="253.7" width="7.04" height="24.7" fill="#ababab"/>
<rect x="63.06" y="262.9" width="7.04" height="15.5" fill="#ababab"/>
<rect x="71.1" y="274.1" width="7.04" height="4.3" fill="#ababab"/>
<rect x="79.14" y="273.2" width="7.04" height="5.2" fill="#ababab"/>
<rect x="87.18" y="273.8" width="7.04" height="4.6" fill="#ababab"/>
<rect x="95.22" y="274.5" width="7.04" height="3.9" fill="#ababab"/>
<rect x="103.26" y="276.9" width="7.04" height="1.5" fill="#ababab"/>
<rect x="111.3" y="275.6" width="7.04" height="2.8" fill="#ababab"/>
<rect x="24.5" y="251.4" width="116.3" height="28.5" fill="none" stroke="#111" stroke-width="0.7"/>
<line x1="55.8" y1="251.4" x2="55.8" y2="279.9" stroke="#1a1a1a" stroke-width="1.3"/>
<line x1="30.4" y1="279.9" x2="30.4" y2="281.9" stroke="#222" stroke-width="0.6"/>
<text x="30.4" y="289.12" font-size="7" text-anchor="middle" transform="rotate(0.03 30.4 289.12)">0</text>
<line x1="57.2" y1="279.9" x2="57.2" y2="281.9" stroke="#222" stroke-width="0.6"/>
<text x="57.2" y="289.12" font-size="7" text-anchor="middle" transform="rotate(0.03 57.2 289.12)">100</text>
<line x1="84" y1="279.9" x2="84" y2="281.9" stroke="#222" stroke-width="0.6"/>
<text x="84" y="289.12" font-size="7" text-anchor="middle" transform="rotate(0.03 84 289.12)">200</text>
<line x1="110.9" y1="279.9" x2="110.9" y2="281.9" stroke="#222" stroke-width="0.6"/>
<text x="110.9" y="289.12" font-size="7" text-anchor="middle" transform="rotate(0.03 110.9 289.12)">300</text>
<line x1="137.7" y1="279.9" x2="137.7" y2="281.9" stroke="#222" stroke-width="0.6"/>
<text x="137.7" y="289.12" font-size="7" text-anchor="middle" transform="rotate(0.03 137.7 289.12)">400</text>
<line x1="22.5" y1="278.3" x2="24.5" y2="278.3" stroke="#222" stroke-width="0.6"/>
<text x="20.4" y="278.3" font-size="7" text-anchor="middle" transform="rotate(-90 20.4 278.3)">0</text>
<line x1="22.5" y1="272.1" x2="24.5" y2="272.1" stroke="#222" stroke-width="0.6"/>
<line x1="22.5" y1="265.9" x2="24.5" y2="265.9" stroke="#222" stroke-width="0.6"/>
<text x="20.4" y="265.9" font-size="7" text-anchor="middle" transform="rotate(-90 20.4 265.9)">20</text>
<line x1="22.5" y1="259.7" x2="24.5" y2="259.7" stroke="#222" stroke-width="0.6"/>
<line x1="22.5" y1="253.5" x2="24.5" y2="253.5" stroke="#222" stroke-width="0.6"/>
<text x="20.4" y="253.5" font-size="7" text-anchor="middle" transform="rotate(-90 20.4 253.5)">40</text>
<text x="81" y="297.71" font-size="6.7" text-anchor="middle" transform="rotate(0.03 81 297.71)"><tspan font-style="italic">RMSE</tspan> (trees/ha)</text>
<text x="11.8" y="265.65" font-size="6.7" text-anchor="middle" transform="rotate(-90 11.8 265.65)">Frequency</text>
<!-- panel e -->
<text x="194" y="168.7" font-size="10" text-anchor="start" transform="rotate(0.03 194 168.7)">(e)</text>
<g shape-rendering="crispEdges">
<path fill="#733ca0" d="M210.7 177.7h5.9v5.84h-5.9zM315.91 177.7h5.9v5.84h-5.9zM280.84 183.49h5.9v5.84h-5.9zM228.23 195.07h5.9v5.84h-5.9zM239.93 200.86h5.9v5.84h-5.9zM251.62 229.81h5.9v5.84h-5.9z"/>
<path fill="#1982b9" d="M216.54 177.7h5.9v5.84h-5.9zM228.23 177.7h5.9v5.84h-5.9zM269.15 177.7h5.9v5.84h-5.9zM280.84 177.7h5.9v5.84h-5.9zM286.69 177.7h5.9v5.84h-5.9zM292.53 177.7h5.9v5.84h-5.9zM292.53 183.49h5.9v5.84h-5.9zM298.38 183.49h5.9v5.84h-5.9zM210.7 189.28h5.9v5.84h-5.9zM222.39 189.28h5.9v5.84h-5.9zM275 189.28h5.9v5.84h-5.9zM292.53 189.28h5.9v5.84h-5.9zM304.22 189.28h5.9v5.84h-5.9zM315.91 189.28h5.9v5.84h-5.9zM210.7 195.07h5.9v5.84h-5.9zM245.77 195.07h5.9v5.84h-5.9zM275 195.07h5.9v5.84h-5.9zM315.91 195.07h5.9v5.84h-5.9zM251.62 200.86h5.9v5.84h-5.9zM280.84 200.86h5.9v5.84h-5.9zM216.54 212.44h5.9v5.84h-5.9zM222.39 212.44h5.9v5.84h-5.9zM269.15 212.44h5.9v5.84h-5.9zM275 212.44h5.9v5.84h-5.9zM280.84 212.44h5.9v5.84h-5.9zM321.75 212.44h5.9v5.84h-5.9zM228.23 218.23h5.9v5.84h-5.9zM269.15 218.23h5.9v5.84h-5.9zM286.69 218.23h5.9v5.84h-5.9zM292.53 218.23h5.9v5.84h-5.9zM304.22 218.23h5.9v5.84h-5.9zM315.91 218.23h5.9v5.84h-5.9zM280.84 224.02h5.9v5.84h-5.9zM298.38 224.02h5.9v5.84h-5.9zM222.39 229.81h5.9v5.84h-5.9zM228.23 229.81h5.9v5.84h-5.9zM245.77 229.81h5.9v5.84h-5.9zM292.53 229.81h5.9v5.84h-5.9zM298.38 229.81h5.9v5.84h-5.9zM310.06 229.81h5.9v5.84h-5.9zM315.91 229.81h5.9v5.84h-5.9z"/>
<path fill="#19969b" d="M222.39 177.7h5.9v5.84h-5.9zM239.93 177.7h5.9v5.84h-5.9zM245.77 177.7h5.9v5.84h-5.9zM251.62 177.7h5.9v5.84h-5.9zM275 177.7h5.9v5.84h-5.9zM298.38 177.7h5.9v5.84h-5.9zM251.62 183.49h5.9v5.84h-5.9zM304.22 183.49h5.9v5.84h-5.9zM239.93 195.07h5.9v5.84h-5.9zM210.7 200.86h5.9v5.84h-5.9zM216.54 206.65h5.9v5.84h-5.9zM251.62 206.65h5.9v5.84h-5.9zM321.75 206.65h5.9v5.84h-5.9zM245.77 212.44h5.9v5.84h-5.9zM286.69 212.44h5.9v5.84h-5.9zM315.91 212.44h5.9v5.84h-5.9zM210.7 218.23h5.9v5.84h-5.9zM216.54 218.23h5.9v5.84h-5.9zM222.39 218.23h5.9v5.84h-5.9zM234.08 224.02h5.9v5.84h-5.9zM245.77 224.02h5.9v5.84h-5.9zM315.91 224.02h5.9v5.84h-5.9zM234.08 229.81h5.9v5.84h-5.9zM257.46 229.81h5.9v5.84h-5.9zM280.84 229.81h5.9v5.84h-5.9zM286.69 229.81h5.9v5.84h-5.9z"/>
<path fill="#23c364" d="M234.08 177.7h5.9v5.84h-5.9zM222.39 183.49h5.9v5.84h-5.9zM234.08 183.49h5.9v5.84h-5.9zM263.31 183.49h5.9v5.84h-5.9zM310.06 183.49h5.9v5.84h-5.9zM234.08 189.28h5.9v5.84h-5.9zM239.93 189.28h5.9v5.84h-5.9zM245.77 189.28h5.9v5.84h-5.9zM251.62 189.28h5.9v5.84h-5.9zM257.46 189.28h5.9v5.84h-5.9zM269.15 189.28h5.9v5.84h-5.9zM310.06 189.28h5.9v5.84h-5.9zM234.08 195.07h5.9v5.84h-5.9zM251.62 195.07h5.9v5.84h-5.9zM257.46 195.07h5.9v5.84h-5.9zM263.31 195.07h5.9v5.84h-5.9zM234.08 200.86h5.9v5.84h-5.9zM257.46 200.86h5.9v5.84h-5.9zM263.31 200.86h5.9v5.84h-5.9zM269.15 200.86h5.9v5.84h-5.9zM275 200.86h5.9v5.84h-5.9zM304.22 200.86h5.9v5.84h-5.9zM228.23 206.65h5.9v5.84h-5.9zM245.77 206.65h5.9v5.84h-5.9zM257.46 206.65h5.9v5.84h-5.9zM263.31 206.65h5.9v5.84h-5.9zM280.84 206.65h5.9v5.84h-5.9zM286.69 206.65h5.9v5.84h-5.9zM304.22 206.65h5.9v5.84h-5.9zM310.06 206.65h5.9v5.84h-5.9zM315.91 206.65h5.9v5.84h-5.9zM257.46 212.44h5.9v5.84h-5.9zM263.31 212.44h5.9v5.84h-5.9zM292.53 212.44h5.9v5.84h-5.9zM310.06 212.44h5.9v5.84h-5.9zM234.08 218.23h5.9v5.84h-5.9zM239.93 218.23h5.9v5.84h-5.9zM263.31 218.23h5.9v5.84h-5.9zM310.06 218.23h5.9v5.84h-5.9zM321.75 218.23h5.9v5.84h-5.9zM257.46 224.02h5.9v5.84h-5.9zM263.31 224.02h5.9v5.84h-5.9zM269.15 224.02h5.9v5.84h-5.9zM292.53 224.02h5.9v5.84h-5.9zM321.75 224.02h5.9v5.84h-5.9z"/>
<path fill="#4155c3" d="M257.46 177.7h5.9v5.84h-5.9zM228.23 189.28h5.9v5.84h-5.9zM286.69 200.86h5.9v5.84h-5.9zM292.53 200.86h5.9v5.84h-5.9zM210.7 206.65h5.9v5.84h-5.9zM222.39 224.02h5.9v5.84h-5.9z"/>
<path fill="#2864cd" d="M263.31 177.7h5.9v5.84h-5.9zM239.93 183.49h5.9v5.84h-5.9zM269.15 183.49h5.9v5.84h-5.9zM286.69 183.49h5.9v5.84h-5.9zM315.91 183.49h5.9v5.84h-5.9zM263.31 189.28h5.9v5.84h-5.9zM298.38 189.28h5.9v5.84h-5.9zM280.84 195.07h5.9v5.84h-5.9zM292.53 195.07h5.9v5.84h-5.9zM298.38 195.07h5.9v5.84h-5.9zM315.91 200.86h5.9v5.84h-5.9zM222.39 206.65h5.9v5.84h-5.9zM292.53 206.65h5.9v5.84h-5.9zM210.7 212.44h5.9v5.84h-5.9zM228.23 212.44h5.9v5.84h-5.9zM251.62 212.44h5.9v5.84h-5.9zM245.77 218.23h5.9v5.84h-5.9zM251.62 218.23h5.9v5.84h-5.9zM239.93 224.02h5.9v5.84h-5.9zM304.22 224.02h5.9v5.84h-5.9zM239.93 229.81h5.9v5.84h-5.9zM269.15 229.81h5.9v5.84h-5.9zM304.22 229.81h5.9v5.84h-5.9zM321.75 229.81h5.9v5.84h-5.9z"/>
<path fill="#19aa87" d="M304.22 177.7h5.9v5.84h-5.9zM210.7 183.49h5.9v5.84h-5.9zM216.54 183.49h5.9v5.84h-5.9zM245.77 183.49h5.9v5.84h-5.9zM257.46 183.49h5.9v5.84h-5.9zM275 183.49h5.9v5.84h-5.9zM321.75 183.49h5.9v5.84h-5.9zM216.54 189.28h5.9v5.84h-5.9zM321.75 189.28h5.9v5.84h-5.9zM269.15 195.07h5.9v5.84h-5.9zM310.06 195.07h5.9v5.84h-5.9zM321.75 195.07h5.9v5.84h-5.9zM234.08 206.65h5.9v5.84h-5.9zM269.15 206.65h5.9v5.84h-5.9zM275 206.65h5.9v5.84h-5.9zM234.08 212.44h5.9v5.84h-5.9zM239.93 212.44h5.9v5.84h-5.9zM298.38 212.44h5.9v5.84h-5.9zM304.22 212.44h5.9v5.84h-5.9zM257.46 218.23h5.9v5.84h-5.9zM275 218.23h5.9v5.84h-5.9zM280.84 218.23h5.9v5.84h-5.9zM298.38 218.23h5.9v5.84h-5.9zM210.7 224.02h5.9v5.84h-5.9zM251.62 224.02h5.9v5.84h-5.9zM275 224.02h5.9v5.84h-5.9zM286.69 224.02h5.9v5.84h-5.9zM310.06 224.02h5.9v5.84h-5.9zM216.54 229.81h5.9v5.84h-5.9zM263.31 229.81h5.9v5.84h-5.9z"/>
<path fill="#5fa555" d="M310.06 177.7h5.9v5.84h-5.9zM245.77 200.86h5.9v5.84h-5.9zM275 229.81h5.9v5.84h-5.9z"/>
<path fill="#4b8787" d="M321.75 177.7h5.9v5.84h-5.9zM280.84 189.28h5.9v5.84h-5.9zM216.54 195.07h5.9v5.84h-5.9zM304.22 195.07h5.9v5.84h-5.9zM216.54 200.86h5.9v5.84h-5.9zM298.38 200.86h5.9v5.84h-5.9zM310.06 200.86h5.9v5.84h-5.9zM239.93 206.65h5.9v5.84h-5.9zM210.7 229.81h5.9v5.84h-5.9z"/>
<path fill="#19d26e" d="M228.23 183.49h5.9v5.84h-5.9z"/>
<path fill="#7d5a91" d="M286.69 189.28h5.9v5.84h-5.9zM286.69 195.07h5.9v5.84h-5.9zM222.39 200.86h5.9v5.84h-5.9z"/>
<path fill="#785f37" d="M222.39 195.07h5.9v5.84h-5.9zM228.23 224.02h5.9v5.84h-5.9z"/>
<path fill="#7d875a" d="M228.23 200.86h5.9v5.84h-5.9z"/>
<path fill="#be2378" d="M321.75 200.86h5.9v5.84h-5.9z"/>
<path fill="#a03814" d="M298.38 206.65h5.9v5.84h-5.9z"/>
<path fill="#a53c41" d="M216.54 224.02h5.9v5.84h-5.9z"/>
</g>
<text x="265.65" y="243.92" font-size="7" text-anchor="middle" transform="rotate(0.03 265.65 243.92)">x−direction (50 m)</text>
<text x="198.6" y="218.5" font-size="7" text-anchor="middle" transform="rotate(-90 198.6 218.5)">y-direction</text>
<text x="206" y="218.5" font-size="7" text-anchor="middle" transform="rotate(-90 206 218.5)">(50 m)</text>
<defs><linearGradient id="ge" x1="0" y1="0" x2="0" y2="1"><stop offset="0" stop-color="#da1616"/><stop offset="0.14" stop-color="#e41e3c"/><stop offset="0.24" stop-color="#b42d6e"/><stop offset="0.34" stop-color="#7841a5"/><stop offset="0.44" stop-color="#4b50be"/><stop offset="0.55" stop-color="#2864c8"/><stop offset="0.66" stop-color="#198caa"/><stop offset="0.78" stop-color="#19aa7d"/><stop offset="0.9" stop-color="#3cbe50"/><stop offset="1" stop-color="#82c028"/></linearGradient></defs>
<rect x="335.2" y="185.2" width="8.4" height="65.1" fill="url(#ge)"/>
<text x="345.8" y="188.98" font-size="5.5" text-anchor="start" transform="rotate(0.03 345.8 188.98)" stroke-width="0.08">110</text>
<text x="345.8" y="195.76" font-size="5.5" text-anchor="start" transform="rotate(0.03 345.8 195.76)" stroke-width="0.08">98</text>
<text x="345.8" y="202.54" font-size="5.5" text-anchor="start" transform="rotate(0.03 345.8 202.54)" stroke-width="0.08">86</text>
<text x="345.8" y="209.31" font-size="5.5" text-anchor="start" transform="rotate(0.03 345.8 209.31)" stroke-width="0.08">73</text>
<text x="345.8" y="216.09" font-size="5.5" text-anchor="start" transform="rotate(0.03 345.8 216.09)" stroke-width="0.08">61</text>
<text x="345.8" y="222.87" font-size="5.5" text-anchor="start" transform="rotate(0.03 345.8 222.87)" stroke-width="0.08">49</text>
<text x="345.8" y="229.65" font-size="5.5" text-anchor="start" transform="rotate(0.03 345.8 229.65)" stroke-width="0.08">37</text>
<text x="345.8" y="236.42" font-size="5.5" text-anchor="start" transform="rotate(0.03 345.8 236.42)" stroke-width="0.08">24</text>
<text x="345.8" y="243.2" font-size="5.5" text-anchor="start" transform="rotate(0.03 345.8 243.2)" stroke-width="0.08">12</text>
<text x="345.8" y="249.98" font-size="5.5" text-anchor="start" transform="rotate(0.03 345.8 249.98)" stroke-width="0.08">0</text>
<text x="333.5" y="174.86" font-size="6" text-anchor="start" transform="rotate(0.03 333.5 174.86)" stroke-width="0.08"><tspan font-style="italic">nRMSE</tspan></text>
<text x="333.5" y="181.46" font-size="6" text-anchor="start" transform="rotate(0.03 333.5 181.46)" stroke-width="0.08">(%)</text>
<rect x="214.15" y="269.8" width="9.57" height="9.4" fill="#ababab"/>
<rect x="224.62" y="256.3" width="9.57" height="22.9" fill="#ababab"/>
<rect x="235.09" y="254.1" width="9.57" height="25.1" fill="#ababab"/>
<rect x="245.56" y="266.2" width="9.57" height="13" fill="#ababab"/>
<rect x="256.03" y="271.1" width="9.57" height="8.1" fill="#ababab"/>
<rect x="266.5" y="270.5" width="9.57" height="8.7" fill="#ababab"/>
<rect x="276.97" y="277.5" width="9.57" height="1.7" fill="#ababab"/>
<rect x="287.44" y="274.3" width="9.57" height="4.9" fill="#ababab"/>
<rect x="297.91" y="276.9" width="9.57" height="2.3" fill="#ababab"/>
<rect x="308.38" y="278.7" width="9.57" height="0.5" fill="#ababab"/>
<rect x="209" y="252.4" width="119.4" height="28" fill="none" stroke="#111" stroke-width="0.7"/>
<line x1="242.2" y1="252.4" x2="242.2" y2="280.4" stroke="#1a1a1a" stroke-width="1.3"/>
<line x1="213.6" y1="280.4" x2="213.6" y2="282.4" stroke="#222" stroke-width="0.6"/>
<text x="213.6" y="290.02" font-size="7" text-anchor="middle" transform="rotate(0.03 213.6 290.02)">0</text>
<line x1="234.6" y1="280.4" x2="234.6" y2="282.4" stroke="#222" stroke-width="0.6"/>
<text x="234.6" y="290.02" font-size="7" text-anchor="middle" transform="rotate(0.03 234.6 290.02)">20</text>
<line x1="255.5" y1="280.4" x2="255.5" y2="282.4" stroke="#222" stroke-width="0.6"/>
<line x1="276.4" y1="280.4" x2="276.4" y2="282.4" stroke="#222" stroke-width="0.6"/>
<text x="276.4" y="290.02" font-size="7" text-anchor="middle" transform="rotate(0.03 276.4 290.02)">60</text>
<line x1="297.3" y1="280.4" x2="297.3" y2="282.4" stroke="#222" stroke-width="0.6"/>
<line x1="318.2" y1="280.4" x2="318.2" y2="282.4" stroke="#222" stroke-width="0.6"/>
<text x="318.2" y="290.02" font-size="7" text-anchor="middle" transform="rotate(0.03 318.2 290.02)">100</text>
<line x1="207" y1="279.3" x2="209" y2="279.3" stroke="#222" stroke-width="0.6"/>
<text x="205.2" y="279.3" font-size="7" text-anchor="middle" transform="rotate(-90 205.2 279.3)">0</text>
<line x1="207" y1="274.1" x2="209" y2="274.1" stroke="#222" stroke-width="0.6"/>
<line x1="207" y1="268.9" x2="209" y2="268.9" stroke="#222" stroke-width="0.6"/>
<text x="205.2" y="268.9" font-size="7" text-anchor="middle" transform="rotate(-90 205.2 268.9)">20</text>
<line x1="207" y1="263.7" x2="209" y2="263.7" stroke="#222" stroke-width="0.6"/>
<line x1="207" y1="258.5" x2="209" y2="258.5" stroke="#222" stroke-width="0.6"/>
<text x="205.2" y="258.5" font-size="7" text-anchor="middle" transform="rotate(-90 205.2 258.5)">40</text>
<line x1="207" y1="253.3" x2="209" y2="253.3" stroke="#222" stroke-width="0.6"/>
<text x="268.9" y="297.81" font-size="6.7" text-anchor="middle" transform="rotate(0.03 268.9 297.81)"><tspan font-style="italic">nRMSE</tspan> (%)</text>
<text x="196.9" y="266.4" font-size="6.7" text-anchor="middle" transform="rotate(-90 196.9 266.4)">Frequency</text>
<!-- panel f -->
<text x="387.7" y="168.7" font-size="10" text-anchor="start" transform="rotate(0.03 387.7 168.7)">(f)</text>
<g shape-rendering="crispEdges">
<path fill="#98ba37" d="M404 177h5.92v5.89h-5.92zM415.75 177h5.92v5.89h-5.92zM433.38 177h5.92v5.89h-5.92zM486.25 177h5.92v5.89h-5.92zM492.12 177h5.92v5.89h-5.92zM415.75 182.84h5.92v5.89h-5.92zM415.75 188.68h5.92v5.89h-5.92zM498 188.68h5.92v5.89h-5.92zM503.88 188.68h5.92v5.89h-5.92zM415.75 194.52h5.92v5.89h-5.92zM498 194.52h5.92v5.89h-5.92zM503.88 194.52h5.92v5.89h-5.92zM445.12 200.36h5.92v5.89h-5.92zM462.75 200.36h5.92v5.89h-5.92zM468.62 200.36h5.92v5.89h-5.92zM415.75 206.2h5.92v5.89h-5.92zM445.12 206.2h5.92v5.89h-5.92zM456.88 206.2h5.92v5.89h-5.92zM468.62 206.2h5.92v5.89h-5.92zM404 212.04h5.92v5.89h-5.92zM409.88 212.04h5.92v5.89h-5.92zM439.25 212.04h5.92v5.89h-5.92zM468.62 212.04h5.92v5.89h-5.92zM474.5 212.04h5.92v5.89h-5.92zM503.88 212.04h5.92v5.89h-5.92zM427.5 217.88h5.92v5.89h-5.92zM404 223.72h5.92v5.89h-5.92zM409.88 223.72h5.92v5.89h-5.92zM503.88 223.72h5.92v5.89h-5.92zM421.62 229.56h5.92v5.89h-5.92zM427.5 229.56h5.92v5.89h-5.92zM451 229.56h5.92v5.89h-5.92zM456.88 229.56h5.92v5.89h-5.92zM468.62 229.56h5.92v5.89h-5.92zM474.5 229.56h5.92v5.89h-5.92zM480.38 229.56h5.92v5.89h-5.92zM503.88 229.56h5.92v5.89h-5.92zM509.75 229.56h5.92v5.89h-5.92z"/>
<path fill="#62d044" d="M409.88 177h5.92v5.89h-5.92zM445.12 177h5.92v5.89h-5.92zM409.88 182.84h5.92v5.89h-5.92zM515.62 182.84h5.92v5.89h-5.92zM427.5 188.68h5.92v5.89h-5.92zM445.12 188.68h5.92v5.89h-5.92zM468.62 188.68h5.92v5.89h-5.92zM515.62 188.68h5.92v5.89h-5.92zM468.62 194.52h5.92v5.89h-5.92zM474.5 194.52h5.92v5.89h-5.92zM421.62 200.36h5.92v5.89h-5.92zM427.5 206.2h5.92v5.89h-5.92zM480.38 206.2h5.92v5.89h-5.92zM498 206.2h5.92v5.89h-5.92zM427.5 212.04h5.92v5.89h-5.92zM439.25 217.88h5.92v5.89h-5.92z"/>
<path fill="#80c83a" d="M421.62 177h5.92v5.89h-5.92zM439.25 177h5.92v5.89h-5.92zM456.88 177h5.92v5.89h-5.92zM462.75 177h5.92v5.89h-5.92zM468.62 177h5.92v5.89h-5.92zM474.5 177h5.92v5.89h-5.92zM498 177h5.92v5.89h-5.92zM503.88 177h5.92v5.89h-5.92zM509.75 177h5.92v5.89h-5.92zM404 182.84h5.92v5.89h-5.92zM421.62 182.84h5.92v5.89h-5.92zM427.5 182.84h5.92v5.89h-5.92zM433.38 182.84h5.92v5.89h-5.92zM445.12 182.84h5.92v5.89h-5.92zM451 182.84h5.92v5.89h-5.92zM468.62 182.84h5.92v5.89h-5.92zM480.38 182.84h5.92v5.89h-5.92zM509.75 182.84h5.92v5.89h-5.92zM404 188.68h5.92v5.89h-5.92zM421.62 188.68h5.92v5.89h-5.92zM433.38 188.68h5.92v5.89h-5.92zM439.25 188.68h5.92v5.89h-5.92zM451 188.68h5.92v5.89h-5.92zM456.88 188.68h5.92v5.89h-5.92zM462.75 188.68h5.92v5.89h-5.92zM486.25 188.68h5.92v5.89h-5.92zM492.12 188.68h5.92v5.89h-5.92zM509.75 188.68h5.92v5.89h-5.92zM421.62 194.52h5.92v5.89h-5.92zM427.5 194.52h5.92v5.89h-5.92zM433.38 194.52h5.92v5.89h-5.92zM439.25 194.52h5.92v5.89h-5.92zM445.12 194.52h5.92v5.89h-5.92zM451 194.52h5.92v5.89h-5.92zM456.88 194.52h5.92v5.89h-5.92zM462.75 194.52h5.92v5.89h-5.92zM486.25 194.52h5.92v5.89h-5.92zM492.12 194.52h5.92v5.89h-5.92zM509.75 194.52h5.92v5.89h-5.92zM515.62 194.52h5.92v5.89h-5.92zM404 200.36h5.92v5.89h-5.92zM409.88 200.36h5.92v5.89h-5.92zM415.75 200.36h5.92v5.89h-5.92zM433.38 200.36h5.92v5.89h-5.92zM451 200.36h5.92v5.89h-5.92zM456.88 200.36h5.92v5.89h-5.92zM480.38 200.36h5.92v5.89h-5.92zM486.25 200.36h5.92v5.89h-5.92zM498 200.36h5.92v5.89h-5.92zM503.88 200.36h5.92v5.89h-5.92zM404 206.2h5.92v5.89h-5.92zM409.88 206.2h5.92v5.89h-5.92zM421.62 206.2h5.92v5.89h-5.92zM433.38 206.2h5.92v5.89h-5.92zM439.25 206.2h5.92v5.89h-5.92zM451 206.2h5.92v5.89h-5.92zM462.75 206.2h5.92v5.89h-5.92zM486.25 206.2h5.92v5.89h-5.92zM492.12 206.2h5.92v5.89h-5.92zM503.88 206.2h5.92v5.89h-5.92zM509.75 206.2h5.92v5.89h-5.92zM515.62 206.2h5.92v5.89h-5.92zM415.75 212.04h5.92v5.89h-5.92zM421.62 212.04h5.92v5.89h-5.92zM433.38 212.04h5.92v5.89h-5.92zM445.12 212.04h5.92v5.89h-5.92zM451 212.04h5.92v5.89h-5.92zM456.88 212.04h5.92v5.89h-5.92zM462.75 212.04h5.92v5.89h-5.92zM486.25 212.04h5.92v5.89h-5.92zM492.12 212.04h5.92v5.89h-5.92zM498 212.04h5.92v5.89h-5.92zM509.75 212.04h5.92v5.89h-5.92zM515.62 212.04h5.92v5.89h-5.92zM415.75 217.88h5.92v5.89h-5.92zM421.62 217.88h5.92v5.89h-5.92zM433.38 217.88h5.92v5.89h-5.92zM445.12 217.88h5.92v5.89h-5.92zM451 217.88h5.92v5.89h-5.92zM456.88 217.88h5.92v5.89h-5.92zM462.75 217.88h5.92v5.89h-5.92zM468.62 217.88h5.92v5.89h-5.92zM474.5 217.88h5.92v5.89h-5.92zM480.38 217.88h5.92v5.89h-5.92zM486.25 217.88h5.92v5.89h-5.92zM492.12 217.88h5.92v5.89h-5.92zM498 217.88h5.92v5.89h-5.92zM509.75 217.88h5.92v5.89h-5.92zM515.62 217.88h5.92v5.89h-5.92zM427.5 223.72h5.92v5.89h-5.92zM439.25 223.72h5.92v5.89h-5.92zM456.88 223.72h5.92v5.89h-5.92zM492.12 223.72h5.92v5.89h-5.92zM498 223.72h5.92v5.89h-5.92zM509.75 223.72h5.92v5.89h-5.92zM515.62 223.72h5.92v5.89h-5.92zM439.25 229.56h5.92v5.89h-5.92zM445.12 229.56h5.92v5.89h-5.92zM486.25 229.56h5.92v5.89h-5.92zM492.12 229.56h5.92v5.89h-5.92zM498 229.56h5.92v5.89h-5.92zM515.62 229.56h5.92v5.89h-5.92z"/>
<path fill="#3ed556" d="M427.5 177h5.92v5.89h-5.92zM451 177h5.92v5.89h-5.92zM515.62 177h5.92v5.89h-5.92zM439.25 182.84h5.92v5.89h-5.92zM474.5 182.84h5.92v5.89h-5.92zM409.88 188.68h5.92v5.89h-5.92zM474.5 188.68h5.92v5.89h-5.92zM480.38 188.68h5.92v5.89h-5.92zM404 194.52h5.92v5.89h-5.92zM409.88 194.52h5.92v5.89h-5.92zM480.38 194.52h5.92v5.89h-5.92zM427.5 200.36h5.92v5.89h-5.92zM451 223.72h5.92v5.89h-5.92zM486.25 223.72h5.92v5.89h-5.92z"/>
<path fill="#acab30" d="M480.38 177h5.92v5.89h-5.92zM456.88 182.84h5.92v5.89h-5.92zM462.75 182.84h5.92v5.89h-5.92zM486.25 182.84h5.92v5.89h-5.92zM492.12 182.84h5.92v5.89h-5.92zM498 182.84h5.92v5.89h-5.92zM503.88 182.84h5.92v5.89h-5.92zM439.25 200.36h5.92v5.89h-5.92zM474.5 200.36h5.92v5.89h-5.92zM492.12 200.36h5.92v5.89h-5.92zM509.75 200.36h5.92v5.89h-5.92zM515.62 200.36h5.92v5.89h-5.92zM474.5 206.2h5.92v5.89h-5.92zM404 217.88h5.92v5.89h-5.92zM409.88 217.88h5.92v5.89h-5.92zM503.88 217.88h5.92v5.89h-5.92zM415.75 223.72h5.92v5.89h-5.92zM421.62 223.72h5.92v5.89h-5.92zM433.38 223.72h5.92v5.89h-5.92zM474.5 223.72h5.92v5.89h-5.92zM404 229.56h5.92v5.89h-5.92zM409.88 229.56h5.92v5.89h-5.92zM415.75 229.56h5.92v5.89h-5.92zM462.75 229.56h5.92v5.89h-5.92z"/>
<path fill="#7ea22e" d="M480.38 212.04h5.92v5.89h-5.92zM445.12 223.72h5.92v5.89h-5.92z"/>
<path fill="#ce922a" d="M462.75 223.72h5.92v5.89h-5.92zM468.62 223.72h5.92v5.89h-5.92z"/>
<path fill="#b4982c" d="M480.38 223.72h5.92v5.89h-5.92z"/>
<path fill="#e47620" d="M433.38 229.56h5.92v5.89h-5.92z"/>
</g>
<text x="459.25" y="243.92" font-size="7" text-anchor="middle" transform="rotate(0.03 459.25 243.92)">x−direction (50 m)</text>
<text x="391.2" y="218.8" font-size="7" text-anchor="middle" transform="rotate(-90 391.2 218.8)">y-direction</text>
<text x="398.8" y="218.8" font-size="7" text-anchor="middle" transform="rotate(-90 398.8 218.8)">(50 m)</text>
<rect x="527.1" y="180.3" width="8.6" height="6.26" fill="#1e50d2"/>
<rect x="527.1" y="186.46" width="8.6" height="6.26" fill="#146ebe"/>
<rect x="527.1" y="192.62" width="8.6" height="6.26" fill="#148ca0"/>
<rect x="527.1" y="198.78" width="8.6" height="6.26" fill="#14a582"/>
<rect x="527.1" y="204.94" width="8.6" height="6.26" fill="#28be5a"/>
<rect x="527.1" y="211.1" width="8.6" height="6.26" fill="#6ec83c"/>
<rect x="527.1" y="217.26" width="8.6" height="6.26" fill="#aaa028"/>
<rect x="527.1" y="223.42" width="8.6" height="6.26" fill="#e66e1e"/>
<rect x="527.1" y="229.58" width="8.6" height="6.26" fill="#f03c14"/>
<rect x="527.1" y="235.74" width="8.6" height="6.26" fill="#be3c14"/>
<text x="536.8" y="183.98" font-size="5.5" text-anchor="start" transform="rotate(0.03 536.8 183.98)" stroke-width="0.08">2.3</text>
<text x="536.8" y="190.35" font-size="5.5" text-anchor="start" transform="rotate(0.03 536.8 190.35)" stroke-width="0.08">2.0</text>
<text x="536.8" y="196.71" font-size="5.5" text-anchor="start" transform="rotate(0.03 536.8 196.71)" stroke-width="0.08">1.7</text>
<text x="536.8" y="203.08" font-size="5.5" text-anchor="start" transform="rotate(0.03 536.8 203.08)" stroke-width="0.08">1.4</text>
<text x="536.8" y="209.45" font-size="5.5" text-anchor="start" transform="rotate(0.03 536.8 209.45)" stroke-width="0.08">1.1</text>
<text x="536.8" y="215.81" font-size="5.5" text-anchor="start" transform="rotate(0.03 536.8 215.81)" stroke-width="0.08">0.9</text>
<text x="536.8" y="222.18" font-size="5.5" text-anchor="start" transform="rotate(0.03 536.8 222.18)" stroke-width="0.08">0.6</text>
<text x="536.8" y="228.55" font-size="5.5" text-anchor="start" transform="rotate(0.03 536.8 228.55)" stroke-width="0.08">0.3</text>
<text x="536.8" y="234.91" font-size="5.5" text-anchor="start" transform="rotate(0.03 536.8 234.91)" stroke-width="0.08">0.0</text>
<text x="536.8" y="241.28" font-size="5.5" text-anchor="start" transform="rotate(0.03 536.8 241.28)" stroke-width="0.08">−0.3</text>
<text x="526.4" y="175.86" font-size="6" text-anchor="start" transform="rotate(0.03 526.4 175.86)" stroke-width="0.08">slope <tspan font-style="italic">s</tspan></text>
<rect x="440" y="277.6" width="9.8" height="1.7" fill="#ababab"/>
<rect x="450.6" y="267.9" width="9.6" height="11.4" fill="#ababab"/>
<rect x="461.2" y="254.2" width="9.7" height="25.1" fill="#ababab"/>
<rect x="471.9" y="261.2" width="9.8" height="18.1" fill="#ababab"/>
<rect x="482.9" y="272.2" width="10" height="7.1" fill="#ababab"/>
<rect x="402.6" y="252.4" width="117.1" height="27.6" fill="none" stroke="#111" stroke-width="0.7"/>
<line x1="469.6" y1="252.4" x2="469.6" y2="280" stroke="#1a1a1a" stroke-width="1.3"/>
<line x1="429.3" y1="280" x2="429.3" y2="282" stroke="#222" stroke-width="0.6"/>
<text x="429.3" y="290.32" font-size="7" text-anchor="middle" transform="rotate(0.03 429.3 290.32)">0.0</text>
<line x1="455.6" y1="280" x2="455.6" y2="282" stroke="#222" stroke-width="0.6"/>
<text x="455.6" y="290.32" font-size="7" text-anchor="middle" transform="rotate(0.03 455.6 290.32)">0.5</text>
<line x1="481.9" y1="280" x2="481.9" y2="282" stroke="#222" stroke-width="0.6"/>
<text x="481.9" y="290.32" font-size="7" text-anchor="middle" transform="rotate(0.03 481.9 290.32)">1.0</text>
<line x1="508.3" y1="280" x2="508.3" y2="282" stroke="#222" stroke-width="0.6"/>
<text x="508.3" y="290.32" font-size="7" text-anchor="middle" transform="rotate(0.03 508.3 290.32)">1.5</text>
<line x1="400.6" y1="279.3" x2="402.6" y2="279.3" stroke="#222" stroke-width="0.6"/>
<text x="398" y="279.3" font-size="7" text-anchor="middle" transform="rotate(-90 398 279.3)">0</text>
<line x1="400.6" y1="272.6" x2="402.6" y2="272.6" stroke="#222" stroke-width="0.6"/>
<line x1="400.6" y1="265.9" x2="402.6" y2="265.9" stroke="#222" stroke-width="0.6"/>
<text x="398" y="265.9" font-size="7" text-anchor="middle" transform="rotate(-90 398 265.9)">40</text>
<line x1="400.6" y1="259.2" x2="402.6" y2="259.2" stroke="#222" stroke-width="0.6"/>
<line x1="400.6" y1="252.6" x2="402.6" y2="252.6" stroke="#222" stroke-width="0.6"/>
<text x="398" y="252.6" font-size="7" text-anchor="middle" transform="rotate(-90 398 252.6)">80</text>
<text x="465.2" y="299.11" font-size="6.7" text-anchor="middle" transform="rotate(0.03 465.2 299.11)">slope <tspan font-style="italic">s</tspan></text>
<text x="389.5" y="262.5" font-size="6.7" text-anchor="middle" transform="rotate(-90 389.5 262.5)">Frequency</text>
<!-- panel g -->
<text x="7.3" y="314.9" font-size="10" text-anchor="start" transform="rotate(0.03 7.3 314.9)">(g)  0.04 ha</text>
<g shape-rendering="crispEdges">
<path fill="#2084b8" d="M23.9 326.7h2.38v2.34h-2.38zM44.85 326.7h2.38v2.34h-2.38zM58.82 326.7h2.38v2.34h-2.38zM98.4 326.7h2.38v2.34h-2.38zM56.49 328.99h2.38v2.34h-2.38zM72.79 328.99h2.38v2.34h-2.38zM91.41 328.99h2.38v2.34h-2.38zM135.64 331.28h2.38v2.34h-2.38zM49.51 333.58h2.38v2.34h-2.38zM44.85 335.87h2.38v2.34h-2.38zM65.8 335.87h2.38v2.34h-2.38zM82.1 335.87h2.38v2.34h-2.38zM84.43 335.87h2.38v2.34h-2.38zM107.71 335.87h2.38v2.34h-2.38zM63.48 338.16h2.38v2.34h-2.38zM89.08 338.16h2.38v2.34h-2.38zM47.18 342.74h2.38v2.34h-2.38zM79.77 342.74h2.38v2.34h-2.38zM91.41 342.74h2.38v2.34h-2.38zM103.05 342.74h2.38v2.34h-2.38zM70.46 345.04h2.38v2.34h-2.38zM137.97 345.04h2.38v2.34h-2.38zM44.85 347.33h2.38v2.34h-2.38zM56.49 347.33h2.38v2.34h-2.38zM89.08 347.33h2.38v2.34h-2.38zM35.54 349.62h2.38v2.34h-2.38zM33.21 351.91h2.38v2.34h-2.38zM126.33 351.91h2.38v2.34h-2.38zM110.04 354.2h2.38v2.34h-2.38zM33.21 356.5h2.38v2.34h-2.38zM61.15 356.5h2.38v2.34h-2.38zM70.46 356.5h2.38v2.34h-2.38zM79.77 356.5h2.38v2.34h-2.38zM86.76 358.79h2.38v2.34h-2.38zM130.99 358.79h2.38v2.34h-2.38zM96.07 361.08h2.38v2.34h-2.38zM54.16 363.37h2.38v2.34h-2.38zM30.88 365.66h2.38v2.34h-2.38zM56.49 365.66h2.38v2.34h-2.38zM58.82 365.66h2.38v2.34h-2.38zM65.8 365.66h2.38v2.34h-2.38zM68.13 365.66h2.38v2.34h-2.38zM82.1 365.66h2.38v2.34h-2.38zM98.4 365.66h2.38v2.34h-2.38zM54.16 367.96h2.38v2.34h-2.38zM133.32 367.96h2.38v2.34h-2.38zM35.54 370.25h2.38v2.34h-2.38zM98.4 370.25h2.38v2.34h-2.38zM40.2 372.54h2.38v2.34h-2.38zM68.13 372.54h2.38v2.34h-2.38zM35.54 374.83h2.38v2.34h-2.38zM58.82 374.83h2.38v2.34h-2.38zM114.69 374.83h2.38v2.34h-2.38zM37.87 377.12h2.38v2.34h-2.38zM77.44 377.12h2.38v2.34h-2.38zM82.1 377.12h2.38v2.34h-2.38zM133.32 377.12h2.38v2.34h-2.38zM63.48 379.42h2.38v2.34h-2.38zM79.77 379.42h2.38v2.34h-2.38zM130.99 379.42h2.38v2.34h-2.38zM51.84 381.71h2.38v2.34h-2.38z"/>
<path fill="#4060c4" d="M26.23 326.7h2.38v2.34h-2.38zM100.72 326.7h2.38v2.34h-2.38zM126.33 326.7h2.38v2.34h-2.38zM130.99 326.7h2.38v2.34h-2.38zM124 331.28h2.38v2.34h-2.38zM126.33 333.58h2.38v2.34h-2.38zM114.69 338.16h2.38v2.34h-2.38zM93.74 342.74h2.38v2.34h-2.38zM119.35 342.74h2.38v2.34h-2.38zM110.04 345.04h2.38v2.34h-2.38zM124 349.62h2.38v2.34h-2.38zM130.99 354.2h2.38v2.34h-2.38zM114.69 356.5h2.38v2.34h-2.38zM130.99 363.37h2.38v2.34h-2.38zM70.46 365.66h2.38v2.34h-2.38zM26.23 367.96h2.38v2.34h-2.38zM105.38 370.25h2.38v2.34h-2.38zM91.41 379.42h2.38v2.34h-2.38zM28.56 381.71h2.38v2.34h-2.38zM130.99 381.71h2.38v2.34h-2.38z"/>
<path fill="#3c58cc" d="M28.56 326.7h2.38v2.34h-2.38zM103.05 326.7h2.38v2.34h-2.38zM124 326.7h2.38v2.34h-2.38zM133.32 326.7h2.38v2.34h-2.38zM112.36 333.58h2.38v2.34h-2.38zM93.74 338.16h2.38v2.34h-2.38zM133.32 338.16h2.38v2.34h-2.38zM121.68 342.74h2.38v2.34h-2.38zM98.4 347.33h2.38v2.34h-2.38zM114.69 347.33h2.38v2.34h-2.38zM133.32 351.91h2.38v2.34h-2.38zM128.66 354.2h2.38v2.34h-2.38zM96.07 379.42h2.38v2.34h-2.38zM96.07 381.71h2.38v2.34h-2.38z"/>
<path fill="#24c474" d="M30.88 326.7h2.38v2.34h-2.38zM112.36 326.7h2.38v2.34h-2.38zM40.2 328.99h2.38v2.34h-2.38zM124 333.58h2.38v2.34h-2.38zM72.79 338.16h2.38v2.34h-2.38zM100.72 345.04h2.38v2.34h-2.38zM96.07 349.62h2.38v2.34h-2.38zM112.36 351.91h2.38v2.34h-2.38zM93.74 358.79h2.38v2.34h-2.38zM126.33 363.37h2.38v2.34h-2.38zM77.44 365.66h2.38v2.34h-2.38zM103.05 365.66h2.38v2.34h-2.38zM61.15 370.25h2.38v2.34h-2.38zM54.16 372.54h2.38v2.34h-2.38zM119.35 372.54h2.38v2.34h-2.38zM103.05 379.42h2.38v2.34h-2.38zM68.13 381.71h2.38v2.34h-2.38zM126.33 381.71h2.38v2.34h-2.38z"/>
<path fill="#20a494" d="M33.21 326.7h2.38v2.34h-2.38zM77.44 326.7h2.38v2.34h-2.38zM77.44 328.99h2.38v2.34h-2.38zM112.36 328.99h2.38v2.34h-2.38zM133.32 331.28h2.38v2.34h-2.38zM110.04 340.45h2.38v2.34h-2.38zM133.32 340.45h2.38v2.34h-2.38zM130.99 342.74h2.38v2.34h-2.38zM26.23 351.91h2.38v2.34h-2.38zM30.88 358.79h2.38v2.34h-2.38zM135.64 363.37h2.38v2.34h-2.38zM103.05 367.96h2.38v2.34h-2.38zM72.79 372.54h2.38v2.34h-2.38zM89.08 372.54h2.38v2.34h-2.38zM135.64 372.54h2.38v2.34h-2.38zM105.38 379.42h2.38v2.34h-2.38zM114.69 379.42h2.38v2.34h-2.38zM133.32 379.42h2.38v2.34h-2.38zM30.88 381.71h2.38v2.34h-2.38z"/>
<path fill="#24c868" d="M35.54 326.7h2.38v2.34h-2.38zM70.46 326.7h2.38v2.34h-2.38zM33.21 328.99h2.38v2.34h-2.38zM58.82 328.99h2.38v2.34h-2.38zM82.1 328.99h2.38v2.34h-2.38zM86.76 328.99h2.38v2.34h-2.38zM30.88 331.28h2.38v2.34h-2.38zM70.46 331.28h2.38v2.34h-2.38zM105.38 333.58h2.38v2.34h-2.38zM100.72 340.45h2.38v2.34h-2.38zM37.87 342.74h2.38v2.34h-2.38zM75.12 342.74h2.38v2.34h-2.38zM82.1 342.74h2.38v2.34h-2.38zM89.08 342.74h2.38v2.34h-2.38zM26.23 345.04h2.38v2.34h-2.38zM33.21 345.04h2.38v2.34h-2.38zM49.51 345.04h2.38v2.34h-2.38zM77.44 345.04h2.38v2.34h-2.38zM82.1 345.04h2.38v2.34h-2.38zM126.33 347.33h2.38v2.34h-2.38zM93.74 349.62h2.38v2.34h-2.38zM86.76 351.91h2.38v2.34h-2.38zM117.02 351.91h2.38v2.34h-2.38zM58.82 354.2h2.38v2.34h-2.38zM103.05 354.2h2.38v2.34h-2.38zM89.08 356.5h2.38v2.34h-2.38zM121.68 356.5h2.38v2.34h-2.38zM35.54 358.79h2.38v2.34h-2.38zM40.2 358.79h2.38v2.34h-2.38zM44.85 358.79h2.38v2.34h-2.38zM56.49 358.79h2.38v2.34h-2.38zM133.32 358.79h2.38v2.34h-2.38zM23.9 361.08h2.38v2.34h-2.38zM133.32 361.08h2.38v2.34h-2.38zM37.87 363.37h2.38v2.34h-2.38zM63.48 363.37h2.38v2.34h-2.38zM89.08 363.37h2.38v2.34h-2.38zM100.72 365.66h2.38v2.34h-2.38zM89.08 367.96h2.38v2.34h-2.38zM126.33 367.96h2.38v2.34h-2.38zM128.66 370.25h2.38v2.34h-2.38zM82.1 372.54h2.38v2.34h-2.38zM130.99 372.54h2.38v2.34h-2.38zM40.2 374.83h2.38v2.34h-2.38zM58.82 377.12h2.38v2.34h-2.38zM68.13 377.12h2.38v2.34h-2.38zM84.43 377.12h2.38v2.34h-2.38zM103.05 377.12h2.38v2.34h-2.38zM121.68 379.42h2.38v2.34h-2.38zM33.21 381.71h2.38v2.34h-2.38zM128.66 381.71h2.38v2.34h-2.38z"/>
<path fill="#20bc7c" d="M37.87 326.7h2.38v2.34h-2.38zM61.15 328.99h2.38v2.34h-2.38zM126.33 328.99h2.38v2.34h-2.38zM40.2 331.28h2.38v2.34h-2.38zM54.16 331.28h2.38v2.34h-2.38zM28.56 333.58h2.38v2.34h-2.38zM75.12 335.87h2.38v2.34h-2.38zM42.52 347.33h2.38v2.34h-2.38zM119.35 347.33h2.38v2.34h-2.38zM126.33 354.2h2.38v2.34h-2.38zM23.9 356.5h2.38v2.34h-2.38zM23.9 358.79h2.38v2.34h-2.38zM42.52 361.08h2.38v2.34h-2.38zM54.16 361.08h2.38v2.34h-2.38zM126.33 361.08h2.38v2.34h-2.38zM98.4 367.96h2.38v2.34h-2.38zM119.35 367.96h2.38v2.34h-2.38zM135.64 367.96h2.38v2.34h-2.38zM26.23 374.83h2.38v2.34h-2.38z"/>
<path fill="#24a890" d="M40.2 326.7h2.38v2.34h-2.38zM119.35 331.28h2.38v2.34h-2.38zM91.41 333.58h2.38v2.34h-2.38zM37.87 340.45h2.38v2.34h-2.38zM72.79 345.04h2.38v2.34h-2.38zM112.36 347.33h2.38v2.34h-2.38zM86.76 370.25h2.38v2.34h-2.38zM56.49 374.83h2.38v2.34h-2.38zM89.08 377.12h2.38v2.34h-2.38zM100.72 377.12h2.38v2.34h-2.38zM117.02 381.71h2.38v2.34h-2.38z"/>
<path fill="#20bc78" d="M42.52 326.7h2.38v2.34h-2.38zM91.41 326.7h2.38v2.34h-2.38zM37.87 328.99h2.38v2.34h-2.38zM51.84 328.99h2.38v2.34h-2.38zM26.23 331.28h2.38v2.34h-2.38zM28.56 331.28h2.38v2.34h-2.38zM65.8 331.28h2.38v2.34h-2.38zM133.32 333.58h2.38v2.34h-2.38zM112.36 335.87h2.38v2.34h-2.38zM54.16 338.16h2.38v2.34h-2.38zM47.18 340.45h2.38v2.34h-2.38zM77.44 347.33h2.38v2.34h-2.38zM107.71 356.5h2.38v2.34h-2.38zM91.41 358.79h2.38v2.34h-2.38zM100.72 358.79h2.38v2.34h-2.38zM44.85 365.66h2.38v2.34h-2.38zM70.46 367.96h2.38v2.34h-2.38zM28.56 372.54h2.38v2.34h-2.38zM65.8 372.54h2.38v2.34h-2.38zM93.74 374.83h2.38v2.34h-2.38zM47.18 377.12h2.38v2.34h-2.38zM119.35 377.12h2.38v2.34h-2.38zM42.52 379.42h2.38v2.34h-2.38z"/>
<path fill="#1cb87c" d="M47.18 326.7h2.38v2.34h-2.38zM86.76 331.28h2.38v2.34h-2.38zM130.99 333.58h2.38v2.34h-2.38zM28.56 335.87h2.38v2.34h-2.38zM128.66 335.87h2.38v2.34h-2.38zM51.84 342.74h2.38v2.34h-2.38zM128.66 342.74h2.38v2.34h-2.38zM100.72 349.62h2.38v2.34h-2.38zM130.99 349.62h2.38v2.34h-2.38zM28.56 356.5h2.38v2.34h-2.38zM49.51 361.08h2.38v2.34h-2.38zM82.1 367.96h2.38v2.34h-2.38zM110.04 367.96h2.38v2.34h-2.38zM130.99 367.96h2.38v2.34h-2.38zM96.07 370.25h2.38v2.34h-2.38zM37.87 372.54h2.38v2.34h-2.38zM33.21 374.83h2.38v2.34h-2.38zM79.77 374.83h2.38v2.34h-2.38zM117.02 374.83h2.38v2.34h-2.38zM126.33 374.83h2.38v2.34h-2.38zM42.52 377.12h2.38v2.34h-2.38zM56.49 379.42h2.38v2.34h-2.38z"/>
<path fill="#1c80bc" d="M49.51 326.7h2.38v2.34h-2.38zM137.97 326.7h2.38v2.34h-2.38zM26.23 328.99h2.38v2.34h-2.38zM128.66 328.99h2.38v2.34h-2.38zM51.84 331.28h2.38v2.34h-2.38zM61.15 331.28h2.38v2.34h-2.38zM103.05 331.28h2.38v2.34h-2.38zM61.15 333.58h2.38v2.34h-2.38zM121.68 338.16h2.38v2.34h-2.38zM30.88 340.45h2.38v2.34h-2.38zM54.16 340.45h2.38v2.34h-2.38zM128.66 340.45h2.38v2.34h-2.38zM77.44 342.74h2.38v2.34h-2.38zM100.72 342.74h2.38v2.34h-2.38zM86.76 345.04h2.38v2.34h-2.38zM96.07 347.33h2.38v2.34h-2.38zM119.35 349.62h2.38v2.34h-2.38zM40.2 351.91h2.38v2.34h-2.38zM100.72 354.2h2.38v2.34h-2.38zM112.36 358.79h2.38v2.34h-2.38zM58.82 363.37h2.38v2.34h-2.38zM91.41 363.37h2.38v2.34h-2.38zM40.2 365.66h2.38v2.34h-2.38zM135.64 365.66h2.38v2.34h-2.38zM77.44 367.96h2.38v2.34h-2.38zM107.71 367.96h2.38v2.34h-2.38zM26.23 370.25h2.38v2.34h-2.38zM28.56 370.25h2.38v2.34h-2.38zM30.88 372.54h2.38v2.34h-2.38zM137.97 372.54h2.38v2.34h-2.38zM98.4 377.12h2.38v2.34h-2.38zM135.64 377.12h2.38v2.34h-2.38zM65.8 381.71h2.38v2.34h-2.38z"/>
<path fill="#3c54cc" d="M51.84 326.7h2.38v2.34h-2.38zM135.64 326.7h2.38v2.34h-2.38zM26.23 372.54h2.38v2.34h-2.38z"/>
<path fill="#405cc8" d="M54.16 326.7h2.38v2.34h-2.38zM89.08 326.7h2.38v2.34h-2.38zM137.97 333.58h2.38v2.34h-2.38zM133.32 335.87h2.38v2.34h-2.38zM117.02 338.16h2.38v2.34h-2.38zM26.23 340.45h2.38v2.34h-2.38zM117.02 354.2h2.38v2.34h-2.38zM128.66 356.5h2.38v2.34h-2.38zM23.9 365.66h2.38v2.34h-2.38zM91.41 367.96h2.38v2.34h-2.38zM70.46 370.25h2.38v2.34h-2.38zM89.08 370.25h2.38v2.34h-2.38zM133.32 372.54h2.38v2.34h-2.38zM75.12 377.12h2.38v2.34h-2.38zM124 377.12h2.38v2.34h-2.38zM128.66 379.42h2.38v2.34h-2.38z"/>
<path fill="#24cc64" d="M56.49 326.7h2.38v2.34h-2.38zM35.54 328.99h2.38v2.34h-2.38zM84.43 328.99h2.38v2.34h-2.38zM23.9 331.28h2.38v2.34h-2.38zM121.68 331.28h2.38v2.34h-2.38zM128.66 331.28h2.38v2.34h-2.38zM70.46 333.58h2.38v2.34h-2.38zM103.05 333.58h2.38v2.34h-2.38zM89.08 335.87h2.38v2.34h-2.38zM65.8 338.16h2.38v2.34h-2.38zM107.71 340.45h2.38v2.34h-2.38zM117.02 340.45h2.38v2.34h-2.38zM126.33 340.45h2.38v2.34h-2.38zM61.15 342.74h2.38v2.34h-2.38zM63.48 342.74h2.38v2.34h-2.38zM112.36 342.74h2.38v2.34h-2.38zM98.4 345.04h2.38v2.34h-2.38zM49.51 347.33h2.38v2.34h-2.38zM28.56 351.91h2.38v2.34h-2.38zM35.54 351.91h2.38v2.34h-2.38zM110.04 351.91h2.38v2.34h-2.38zM23.9 354.2h2.38v2.34h-2.38zM30.88 354.2h2.38v2.34h-2.38zM86.76 354.2h2.38v2.34h-2.38zM91.41 354.2h2.38v2.34h-2.38zM54.16 356.5h2.38v2.34h-2.38zM33.21 358.79h2.38v2.34h-2.38zM63.48 358.79h2.38v2.34h-2.38zM75.12 358.79h2.38v2.34h-2.38zM117.02 358.79h2.38v2.34h-2.38zM44.85 361.08h2.38v2.34h-2.38zM68.13 361.08h2.38v2.34h-2.38zM107.71 361.08h2.38v2.34h-2.38zM110.04 363.37h2.38v2.34h-2.38zM26.23 365.66h2.38v2.34h-2.38zM75.12 365.66h2.38v2.34h-2.38zM110.04 365.66h2.38v2.34h-2.38zM133.32 365.66h2.38v2.34h-2.38zM28.56 367.96h2.38v2.34h-2.38zM33.21 367.96h2.38v2.34h-2.38zM40.2 367.96h2.38v2.34h-2.38zM54.16 370.25h2.38v2.34h-2.38zM121.68 370.25h2.38v2.34h-2.38zM58.82 372.54h2.38v2.34h-2.38zM117.02 372.54h2.38v2.34h-2.38zM42.52 374.83h2.38v2.34h-2.38zM44.85 374.83h2.38v2.34h-2.38zM47.18 374.83h2.38v2.34h-2.38zM61.15 377.12h2.38v2.34h-2.38zM107.71 377.12h2.38v2.34h-2.38zM110.04 377.12h2.38v2.34h-2.38zM58.82 379.42h2.38v2.34h-2.38zM112.36 379.42h2.38v2.34h-2.38zM47.18 381.71h2.38v2.34h-2.38zM100.72 381.71h2.38v2.34h-2.38zM114.69 381.71h2.38v2.34h-2.38z"/>
<path fill="#2c6cc8" d="M61.15 326.7h2.38v2.34h-2.38zM130.99 335.87h2.38v2.34h-2.38zM128.66 351.91h2.38v2.34h-2.38zM112.36 370.25h2.38v2.34h-2.38z"/>
<path fill="#2088b4" d="M63.48 326.7h2.38v2.34h-2.38zM84.43 326.7h2.38v2.34h-2.38zM65.8 328.99h2.38v2.34h-2.38zM119.35 328.99h2.38v2.34h-2.38zM61.15 338.16h2.38v2.34h-2.38zM40.2 340.45h2.38v2.34h-2.38zM42.52 340.45h2.38v2.34h-2.38zM114.69 340.45h2.38v2.34h-2.38zM86.76 342.74h2.38v2.34h-2.38zM40.2 347.33h2.38v2.34h-2.38zM79.77 347.33h2.38v2.34h-2.38zM65.8 351.91h2.38v2.34h-2.38zM61.15 354.2h2.38v2.34h-2.38zM112.36 354.2h2.38v2.34h-2.38zM133.32 354.2h2.38v2.34h-2.38zM35.54 356.5h2.38v2.34h-2.38zM51.84 358.79h2.38v2.34h-2.38zM89.08 358.79h2.38v2.34h-2.38zM137.97 361.08h2.38v2.34h-2.38zM42.52 363.37h2.38v2.34h-2.38zM42.52 365.66h2.38v2.34h-2.38zM35.54 367.96h2.38v2.34h-2.38zM79.77 370.25h2.38v2.34h-2.38zM124 372.54h2.38v2.34h-2.38zM23.9 377.12h2.38v2.34h-2.38zM105.38 381.71h2.38v2.34h-2.38z"/>
<path fill="#1c7cbc" d="M65.8 326.7h2.38v2.34h-2.38zM75.12 328.99h2.38v2.34h-2.38zM130.99 328.99h2.38v2.34h-2.38zM107.71 331.28h2.38v2.34h-2.38zM110.04 331.28h2.38v2.34h-2.38zM63.48 335.87h2.38v2.34h-2.38zM105.38 335.87h2.38v2.34h-2.38zM110.04 335.87h2.38v2.34h-2.38zM137.97 335.87h2.38v2.34h-2.38zM30.88 338.16h2.38v2.34h-2.38zM96.07 338.16h2.38v2.34h-2.38zM98.4 338.16h2.38v2.34h-2.38zM68.13 340.45h2.38v2.34h-2.38zM23.9 342.74h2.38v2.34h-2.38zM33.21 342.74h2.38v2.34h-2.38zM68.13 342.74h2.38v2.34h-2.38zM42.52 345.04h2.38v2.34h-2.38zM40.2 349.62h2.38v2.34h-2.38zM61.15 349.62h2.38v2.34h-2.38zM63.48 351.91h2.38v2.34h-2.38zM128.66 361.08h2.38v2.34h-2.38zM114.69 363.37h2.38v2.34h-2.38zM49.51 365.66h2.38v2.34h-2.38zM68.13 367.96h2.38v2.34h-2.38zM130.99 370.25h2.38v2.34h-2.38zM105.38 372.54h2.38v2.34h-2.38zM84.43 374.83h2.38v2.34h-2.38zM121.68 374.83h2.38v2.34h-2.38zM89.08 379.42h2.38v2.34h-2.38zM56.49 381.71h2.38v2.34h-2.38z"/>
<path fill="#28d060" d="M68.13 326.7h2.38v2.34h-2.38zM70.46 328.99h2.38v2.34h-2.38zM93.74 328.99h2.38v2.34h-2.38zM35.54 333.58h2.38v2.34h-2.38zM58.82 333.58h2.38v2.34h-2.38zM84.43 333.58h2.38v2.34h-2.38zM93.74 335.87h2.38v2.34h-2.38zM61.15 340.45h2.38v2.34h-2.38zM54.16 342.74h2.38v2.34h-2.38zM124 345.04h2.38v2.34h-2.38zM68.13 349.62h2.38v2.34h-2.38zM86.76 349.62h2.38v2.34h-2.38zM30.88 351.91h2.38v2.34h-2.38zM105.38 351.91h2.38v2.34h-2.38zM26.23 354.2h2.38v2.34h-2.38zM96.07 354.2h2.38v2.34h-2.38zM77.44 356.5h2.38v2.34h-2.38zM47.18 358.79h2.38v2.34h-2.38zM58.82 358.79h2.38v2.34h-2.38zM35.54 361.08h2.38v2.34h-2.38zM37.87 361.08h2.38v2.34h-2.38zM40.2 361.08h2.38v2.34h-2.38zM124 363.37h2.38v2.34h-2.38zM35.54 365.66h2.38v2.34h-2.38zM96.07 365.66h2.38v2.34h-2.38zM107.71 365.66h2.38v2.34h-2.38zM61.15 367.96h2.38v2.34h-2.38zM79.77 367.96h2.38v2.34h-2.38zM117.02 367.96h2.38v2.34h-2.38zM42.52 370.25h2.38v2.34h-2.38zM93.74 370.25h2.38v2.34h-2.38zM86.76 372.54h2.38v2.34h-2.38zM72.79 377.12h2.38v2.34h-2.38zM23.9 379.42h2.38v2.34h-2.38zM51.84 379.42h2.38v2.34h-2.38zM119.35 381.71h2.38v2.34h-2.38z"/>
<path fill="#2868cc" d="M72.79 326.7h2.38v2.34h-2.38zM56.49 331.28h2.38v2.34h-2.38zM51.84 340.45h2.38v2.34h-2.38zM89.08 345.04h2.38v2.34h-2.38zM91.41 356.5h2.38v2.34h-2.38zM135.64 374.83h2.38v2.34h-2.38zM49.51 377.12h2.38v2.34h-2.38z"/>
<path fill="#1894a0" d="M75.12 326.7h2.38v2.34h-2.38zM42.52 331.28h2.38v2.34h-2.38zM63.48 333.58h2.38v2.34h-2.38zM137.97 338.16h2.38v2.34h-2.38zM68.13 347.33h2.38v2.34h-2.38zM49.51 351.91h2.38v2.34h-2.38zM49.51 356.5h2.38v2.34h-2.38zM100.72 356.5h2.38v2.34h-2.38zM70.46 363.37h2.38v2.34h-2.38zM42.52 381.71h2.38v2.34h-2.38z"/>
<path fill="#2490b0" d="M79.77 326.7h2.38v2.34h-2.38z"/>
<path fill="#50c850" d="M82.1 326.7h2.38v2.34h-2.38zM30.88 328.99h2.38v2.34h-2.38zM93.74 333.58h2.38v2.34h-2.38zM49.51 338.16h2.38v2.34h-2.38zM82.1 338.16h2.38v2.34h-2.38zM30.88 347.33h2.38v2.34h-2.38zM33.21 347.33h2.38v2.34h-2.38zM121.68 349.62h2.38v2.34h-2.38zM47.18 351.91h2.38v2.34h-2.38zM124 351.91h2.38v2.34h-2.38zM68.13 356.5h2.38v2.34h-2.38zM119.35 356.5h2.38v2.34h-2.38zM33.21 361.08h2.38v2.34h-2.38zM98.4 361.08h2.38v2.34h-2.38zM28.56 363.37h2.38v2.34h-2.38zM33.21 363.37h2.38v2.34h-2.38zM91.41 370.25h2.38v2.34h-2.38zM98.4 372.54h2.38v2.34h-2.38zM56.49 377.12h2.38v2.34h-2.38zM84.43 381.71h2.38v2.34h-2.38z"/>
<path fill="#1cb880" d="M86.76 326.7h2.38v2.34h-2.38zM35.54 342.74h2.38v2.34h-2.38zM126.33 356.5h2.38v2.34h-2.38zM124 379.42h2.38v2.34h-2.38z"/>
<path fill="#20a094" d="M93.74 326.7h2.38v2.34h-2.38zM42.52 328.99h2.38v2.34h-2.38zM79.77 328.99h2.38v2.34h-2.38zM114.69 331.28h2.38v2.34h-2.38zM58.82 335.87h2.38v2.34h-2.38zM117.02 342.74h2.38v2.34h-2.38zM124 347.33h2.38v2.34h-2.38zM54.16 349.62h2.38v2.34h-2.38zM84.43 351.91h2.38v2.34h-2.38zM75.12 356.5h2.38v2.34h-2.38zM42.52 358.79h2.38v2.34h-2.38zM70.46 358.79h2.38v2.34h-2.38zM100.72 363.37h2.38v2.34h-2.38zM137.97 363.37h2.38v2.34h-2.38zM114.69 365.66h2.38v2.34h-2.38zM49.51 370.25h2.38v2.34h-2.38zM100.72 370.25h2.38v2.34h-2.38zM112.36 372.54h2.38v2.34h-2.38zM37.87 374.83h2.38v2.34h-2.38zM63.48 374.83h2.38v2.34h-2.38zM68.13 379.42h2.38v2.34h-2.38zM77.44 381.71h2.38v2.34h-2.38zM107.71 381.71h2.38v2.34h-2.38z"/>
<path fill="#20a098" d="M96.07 326.7h2.38v2.34h-2.38zM103.05 328.99h2.38v2.34h-2.38zM47.18 331.28h2.38v2.34h-2.38zM112.36 331.28h2.38v2.34h-2.38zM86.76 333.58h2.38v2.34h-2.38zM89.08 333.58h2.38v2.34h-2.38zM79.77 335.87h2.38v2.34h-2.38zM28.56 340.45h2.38v2.34h-2.38zM89.08 340.45h2.38v2.34h-2.38zM61.15 345.04h2.38v2.34h-2.38zM107.71 345.04h2.38v2.34h-2.38zM63.48 347.33h2.38v2.34h-2.38zM72.79 349.62h2.38v2.34h-2.38zM44.85 351.91h2.38v2.34h-2.38zM63.48 354.2h2.38v2.34h-2.38zM137.97 354.2h2.38v2.34h-2.38zM105.38 356.5h2.38v2.34h-2.38zM107.71 358.79h2.38v2.34h-2.38zM128.66 358.79h2.38v2.34h-2.38zM117.02 361.08h2.38v2.34h-2.38zM56.49 363.37h2.38v2.34h-2.38zM40.2 370.25h2.38v2.34h-2.38zM26.23 377.12h2.38v2.34h-2.38zM70.46 377.12h2.38v2.34h-2.38zM130.99 377.12h2.38v2.34h-2.38zM49.51 379.42h2.38v2.34h-2.38zM49.51 381.71h2.38v2.34h-2.38zM124 381.71h2.38v2.34h-2.38zM137.97 381.71h2.38v2.34h-2.38z"/>
<path fill="#1c7cc0" d="M105.38 326.7h2.38v2.34h-2.38zM68.13 328.99h2.38v2.34h-2.38zM72.79 356.5h2.38v2.34h-2.38z"/>
<path fill="#28d460" d="M107.71 326.7h2.38v2.34h-2.38zM105.38 328.99h2.38v2.34h-2.38zM82.1 347.33h2.38v2.34h-2.38zM58.82 349.62h2.38v2.34h-2.38zM82.1 351.91h2.38v2.34h-2.38zM37.87 354.2h2.38v2.34h-2.38zM51.84 354.2h2.38v2.34h-2.38zM96.07 358.79h2.38v2.34h-2.38zM105.38 358.79h2.38v2.34h-2.38zM61.15 363.37h2.38v2.34h-2.38zM82.1 363.37h2.38v2.34h-2.38zM117.02 363.37h2.38v2.34h-2.38zM119.35 379.42h2.38v2.34h-2.38z"/>
<path fill="#20b87c" d="M110.04 326.7h2.38v2.34h-2.38zM98.4 335.87h2.38v2.34h-2.38zM112.36 340.45h2.38v2.34h-2.38zM79.77 345.04h2.38v2.34h-2.38zM28.56 349.62h2.38v2.34h-2.38zM47.18 349.62h2.38v2.34h-2.38zM98.4 351.91h2.38v2.34h-2.38zM54.16 354.2h2.38v2.34h-2.38zM133.32 363.37h2.38v2.34h-2.38zM63.48 370.25h2.38v2.34h-2.38zM98.4 381.71h2.38v2.34h-2.38z"/>
<path fill="#28d064" d="M114.69 326.7h2.38v2.34h-2.38zM33.21 331.28h2.38v2.34h-2.38zM93.74 331.28h2.38v2.34h-2.38zM126.33 331.28h2.38v2.34h-2.38zM42.52 335.87h2.38v2.34h-2.38zM103.05 335.87h2.38v2.34h-2.38zM23.9 338.16h2.38v2.34h-2.38zM68.13 338.16h2.38v2.34h-2.38zM100.72 338.16h2.38v2.34h-2.38zM105.38 347.33h2.38v2.34h-2.38zM107.71 351.91h2.38v2.34h-2.38zM65.8 354.2h2.38v2.34h-2.38zM72.79 354.2h2.38v2.34h-2.38zM30.88 356.5h2.38v2.34h-2.38zM103.05 356.5h2.38v2.34h-2.38zM98.4 358.79h2.38v2.34h-2.38zM110.04 358.79h2.38v2.34h-2.38zM51.84 365.66h2.38v2.34h-2.38zM84.43 365.66h2.38v2.34h-2.38zM124 365.66h2.38v2.34h-2.38zM58.82 367.96h2.38v2.34h-2.38zM35.54 372.54h2.38v2.34h-2.38zM51.84 372.54h2.38v2.34h-2.38zM105.38 374.83h2.38v2.34h-2.38zM137.97 374.83h2.38v2.34h-2.38zM51.84 377.12h2.38v2.34h-2.38zM79.77 377.12h2.38v2.34h-2.38zM96.07 377.12h2.38v2.34h-2.38zM33.21 379.42h2.38v2.34h-2.38zM35.54 379.42h2.38v2.34h-2.38zM121.68 381.71h2.38v2.34h-2.38z"/>
<path fill="#3854d0" d="M117.02 326.7h2.38v2.34h-2.38zM100.72 333.58h2.38v2.34h-2.38zM135.64 338.16h2.38v2.34h-2.38zM93.74 379.42h2.38v2.34h-2.38z"/>
<path fill="#44e04c" d="M119.35 326.7h2.38v2.34h-2.38z"/>
<path fill="#4064c4" d="M121.68 326.7h2.38v2.34h-2.38zM135.64 328.99h2.38v2.34h-2.38zM121.68 354.2h2.38v2.34h-2.38zM135.64 356.5h2.38v2.34h-2.38z"/>
<path fill="#3c58c8" d="M128.66 326.7h2.38v2.34h-2.38zM103.05 338.16h2.38v2.34h-2.38zM23.9 347.33h2.38v2.34h-2.38zM26.23 361.08h2.38v2.34h-2.38zM124 370.25h2.38v2.34h-2.38z"/>
<path fill="#1c9c98" d="M23.9 328.99h2.38v2.34h-2.38zM107.71 328.99h2.38v2.34h-2.38zM61.15 335.87h2.38v2.34h-2.38zM91.41 335.87h2.38v2.34h-2.38zM117.02 335.87h2.38v2.34h-2.38zM135.64 335.87h2.38v2.34h-2.38zM107.71 338.16h2.38v2.34h-2.38zM119.35 338.16h2.38v2.34h-2.38zM56.49 340.45h2.38v2.34h-2.38zM58.82 340.45h2.38v2.34h-2.38zM82.1 340.45h2.38v2.34h-2.38zM121.68 340.45h2.38v2.34h-2.38zM35.54 347.33h2.38v2.34h-2.38zM37.87 347.33h2.38v2.34h-2.38zM26.23 349.62h2.38v2.34h-2.38zM70.46 349.62h2.38v2.34h-2.38zM75.12 349.62h2.38v2.34h-2.38zM77.44 349.62h2.38v2.34h-2.38zM112.36 349.62h2.38v2.34h-2.38zM93.74 351.91h2.38v2.34h-2.38zM42.52 354.2h2.38v2.34h-2.38zM56.49 356.5h2.38v2.34h-2.38zM112.36 356.5h2.38v2.34h-2.38zM77.44 358.79h2.38v2.34h-2.38zM114.69 358.79h2.38v2.34h-2.38zM79.77 363.37h2.38v2.34h-2.38zM44.85 367.96h2.38v2.34h-2.38zM96.07 367.96h2.38v2.34h-2.38zM75.12 370.25h2.38v2.34h-2.38zM126.33 372.54h2.38v2.34h-2.38zM98.4 374.83h2.38v2.34h-2.38zM112.36 374.83h2.38v2.34h-2.38zM114.69 377.12h2.38v2.34h-2.38zM28.56 379.42h2.38v2.34h-2.38zM72.79 379.42h2.38v2.34h-2.38zM35.54 381.71h2.38v2.34h-2.38z"/>
<path fill="#2c70c8" d="M28.56 328.99h2.38v2.34h-2.38zM58.82 331.28h2.38v2.34h-2.38zM119.35 335.87h2.38v2.34h-2.38zM98.4 342.74h2.38v2.34h-2.38zM91.41 345.04h2.38v2.34h-2.38zM105.38 345.04h2.38v2.34h-2.38zM119.35 351.91h2.38v2.34h-2.38zM56.49 367.96h2.38v2.34h-2.38zM47.18 372.54h2.38v2.34h-2.38zM65.8 377.12h2.38v2.34h-2.38z"/>
<path fill="#38cc5c" d="M44.85 328.99h2.38v2.34h-2.38zM110.04 328.99h2.38v2.34h-2.38zM63.48 331.28h2.38v2.34h-2.38zM110.04 333.58h2.38v2.34h-2.38zM33.21 335.87h2.38v2.34h-2.38zM86.76 335.87h2.38v2.34h-2.38zM96.07 335.87h2.38v2.34h-2.38zM35.54 340.45h2.38v2.34h-2.38zM42.52 342.74h2.38v2.34h-2.38zM44.85 342.74h2.38v2.34h-2.38zM119.35 345.04h2.38v2.34h-2.38zM126.33 345.04h2.38v2.34h-2.38zM56.49 349.62h2.38v2.34h-2.38zM63.48 349.62h2.38v2.34h-2.38zM89.08 349.62h2.38v2.34h-2.38zM103.05 349.62h2.38v2.34h-2.38zM105.38 349.62h2.38v2.34h-2.38zM110.04 349.62h2.38v2.34h-2.38zM58.82 351.91h2.38v2.34h-2.38zM40.2 354.2h2.38v2.34h-2.38zM28.56 361.08h2.38v2.34h-2.38zM35.54 363.37h2.38v2.34h-2.38zM33.21 365.66h2.38v2.34h-2.38zM54.16 365.66h2.38v2.34h-2.38zM47.18 367.96h2.38v2.34h-2.38zM75.12 367.96h2.38v2.34h-2.38zM44.85 370.25h2.38v2.34h-2.38zM137.97 370.25h2.38v2.34h-2.38zM107.71 372.54h2.38v2.34h-2.38zM23.9 374.83h2.38v2.34h-2.38zM72.79 374.83h2.38v2.34h-2.38zM100.72 374.83h2.38v2.34h-2.38zM107.71 374.83h2.38v2.34h-2.38zM117.02 377.12h2.38v2.34h-2.38zM44.85 379.42h2.38v2.34h-2.38zM75.12 379.42h2.38v2.34h-2.38zM82.1 379.42h2.38v2.34h-2.38zM103.05 381.71h2.38v2.34h-2.38z"/>
<path fill="#20c46c" d="M47.18 328.99h2.38v2.34h-2.38zM91.41 331.28h2.38v2.34h-2.38zM130.99 331.28h2.38v2.34h-2.38zM121.68 333.58h2.38v2.34h-2.38zM75.12 338.16h2.38v2.34h-2.38zM75.12 340.45h2.38v2.34h-2.38zM130.99 340.45h2.38v2.34h-2.38zM130.99 345.04h2.38v2.34h-2.38zM68.13 354.2h2.38v2.34h-2.38zM107.71 354.2h2.38v2.34h-2.38zM44.85 356.5h2.38v2.34h-2.38zM98.4 363.37h2.38v2.34h-2.38zM112.36 363.37h2.38v2.34h-2.38zM68.13 374.83h2.38v2.34h-2.38zM37.87 381.71h2.38v2.34h-2.38zM70.46 381.71h2.38v2.34h-2.38zM91.41 381.71h2.38v2.34h-2.38z"/>
<path fill="#54cc4c" d="M49.51 328.99h2.38v2.34h-2.38zM77.44 331.28h2.38v2.34h-2.38zM79.77 331.28h2.38v2.34h-2.38zM33.21 333.58h2.38v2.34h-2.38zM40.2 333.58h2.38v2.34h-2.38zM77.44 338.16h2.38v2.34h-2.38zM91.41 340.45h2.38v2.34h-2.38zM98.4 340.45h2.38v2.34h-2.38zM65.8 342.74h2.38v2.34h-2.38zM28.56 345.04h2.38v2.34h-2.38zM35.54 345.04h2.38v2.34h-2.38zM135.64 345.04h2.38v2.34h-2.38zM86.76 347.33h2.38v2.34h-2.38zM121.68 347.33h2.38v2.34h-2.38zM133.32 347.33h2.38v2.34h-2.38zM135.64 347.33h2.38v2.34h-2.38zM51.84 351.91h2.38v2.34h-2.38zM72.79 351.91h2.38v2.34h-2.38zM121.68 351.91h2.38v2.34h-2.38zM35.54 354.2h2.38v2.34h-2.38zM65.8 356.5h2.38v2.34h-2.38zM82.1 356.5h2.38v2.34h-2.38zM86.76 356.5h2.38v2.34h-2.38zM130.99 356.5h2.38v2.34h-2.38zM47.18 361.08h2.38v2.34h-2.38zM124 361.08h2.38v2.34h-2.38zM51.84 363.37h2.38v2.34h-2.38zM119.35 365.66h2.38v2.34h-2.38zM49.51 367.96h2.38v2.34h-2.38zM65.8 367.96h2.38v2.34h-2.38zM105.38 367.96h2.38v2.34h-2.38zM114.69 367.96h2.38v2.34h-2.38zM33.21 370.25h2.38v2.34h-2.38zM56.49 370.25h2.38v2.34h-2.38zM133.32 370.25h2.38v2.34h-2.38zM63.48 372.54h2.38v2.34h-2.38zM110.04 374.83h2.38v2.34h-2.38zM65.8 379.42h2.38v2.34h-2.38z"/>
<path fill="#58d048" d="M54.16 328.99h2.38v2.34h-2.38zM121.68 328.99h2.38v2.34h-2.38zM68.13 331.28h2.38v2.34h-2.38zM82.1 331.28h2.38v2.34h-2.38zM40.2 335.87h2.38v2.34h-2.38zM40.2 338.16h2.38v2.34h-2.38zM77.44 340.45h2.38v2.34h-2.38zM70.46 342.74h2.38v2.34h-2.38zM105.38 342.74h2.38v2.34h-2.38zM51.84 345.04h2.38v2.34h-2.38zM65.8 345.04h2.38v2.34h-2.38zM91.41 347.33h2.38v2.34h-2.38zM137.97 356.5h2.38v2.34h-2.38zM96.07 372.54h2.38v2.34h-2.38zM26.23 379.42h2.38v2.34h-2.38zM37.87 379.42h2.38v2.34h-2.38zM58.82 381.71h2.38v2.34h-2.38zM133.32 381.71h2.38v2.34h-2.38z"/>
<path fill="#20c078" d="M63.48 328.99h2.38v2.34h-2.38zM42.52 338.16h2.38v2.34h-2.38zM47.18 338.16h2.38v2.34h-2.38zM124 338.16h2.38v2.34h-2.38zM137.97 340.45h2.38v2.34h-2.38zM51.84 347.33h2.38v2.34h-2.38zM103.05 347.33h2.38v2.34h-2.38zM130.99 351.91h2.38v2.34h-2.38zM124 354.2h2.38v2.34h-2.38zM37.87 358.79h2.38v2.34h-2.38zM82.1 361.08h2.38v2.34h-2.38zM40.2 363.37h2.38v2.34h-2.38zM23.9 367.96h2.38v2.34h-2.38zM68.13 370.25h2.38v2.34h-2.38zM114.69 370.25h2.38v2.34h-2.38zM128.66 374.83h2.38v2.34h-2.38z"/>
<path fill="#1c9c9c" d="M89.08 328.99h2.38v2.34h-2.38zM98.4 333.58h2.38v2.34h-2.38zM30.88 335.87h2.38v2.34h-2.38zM128.66 338.16h2.38v2.34h-2.38zM72.79 342.74h2.38v2.34h-2.38zM133.32 342.74h2.38v2.34h-2.38zM56.49 351.91h2.38v2.34h-2.38zM37.87 356.5h2.38v2.34h-2.38zM124 358.79h2.38v2.34h-2.38zM91.41 365.66h2.38v2.34h-2.38zM42.52 372.54h2.38v2.34h-2.38zM137.97 377.12h2.38v2.34h-2.38z"/>
<path fill="#1cc070" d="M96.07 328.99h2.38v2.34h-2.38zM65.8 333.58h2.38v2.34h-2.38z"/>
<path fill="#1c989c" d="M98.4 328.99h2.38v2.34h-2.38zM49.51 331.28h2.38v2.34h-2.38zM77.44 333.58h2.38v2.34h-2.38zM79.77 333.58h2.38v2.34h-2.38zM128.66 333.58h2.38v2.34h-2.38zM58.82 338.16h2.38v2.34h-2.38zM126.33 338.16h2.38v2.34h-2.38zM121.68 345.04h2.38v2.34h-2.38zM54.16 347.33h2.38v2.34h-2.38zM79.77 354.2h2.38v2.34h-2.38zM65.8 358.79h2.38v2.34h-2.38zM110.04 361.08h2.38v2.34h-2.38zM135.64 361.08h2.38v2.34h-2.38zM23.9 363.37h2.38v2.34h-2.38zM93.74 363.37h2.38v2.34h-2.38zM47.18 365.66h2.38v2.34h-2.38zM61.15 365.66h2.38v2.34h-2.38zM84.43 367.96h2.38v2.34h-2.38zM100.72 367.96h2.38v2.34h-2.38zM61.15 372.54h2.38v2.34h-2.38zM75.12 372.54h2.38v2.34h-2.38zM51.84 374.83h2.38v2.34h-2.38zM91.41 374.83h2.38v2.34h-2.38zM124 374.83h2.38v2.34h-2.38zM63.48 381.71h2.38v2.34h-2.38z"/>
<path fill="#2460d4" d="M100.72 328.99h2.38v2.34h-2.38zM91.41 338.16h2.38v2.34h-2.38zM56.49 342.74h2.38v2.34h-2.38zM135.64 349.62h2.38v2.34h-2.38zM100.72 351.91h2.38v2.34h-2.38zM105.38 361.08h2.38v2.34h-2.38z"/>
<path fill="#3c5cc8" d="M114.69 328.99h2.38v2.34h-2.38zM114.69 333.58h2.38v2.34h-2.38zM26.23 356.5h2.38v2.34h-2.38zM82.1 370.25h2.38v2.34h-2.38zM91.41 377.12h2.38v2.34h-2.38z"/>
<path fill="#2cd85c" d="M117.02 328.99h2.38v2.34h-2.38zM37.87 331.28h2.38v2.34h-2.38zM49.51 335.87h2.38v2.34h-2.38zM58.82 356.5h2.38v2.34h-2.38zM84.43 358.79h2.38v2.34h-2.38zM70.46 361.08h2.38v2.34h-2.38zM33.21 377.12h2.38v2.34h-2.38z"/>
<path fill="#40d854" d="M124 328.99h2.38v2.34h-2.38zM98.4 354.2h2.38v2.34h-2.38z"/>
<path fill="#50c450" d="M133.32 328.99h2.38v2.34h-2.38zM44.85 349.62h2.38v2.34h-2.38zM119.35 354.2h2.38v2.34h-2.38zM84.43 372.54h2.38v2.34h-2.38zM110.04 372.54h2.38v2.34h-2.38z"/>
<path fill="#1c80b8" d="M137.97 328.99h2.38v2.34h-2.38zM72.79 331.28h2.38v2.34h-2.38zM68.13 333.58h2.38v2.34h-2.38zM107.71 333.58h2.38v2.34h-2.38zM119.35 333.58h2.38v2.34h-2.38zM23.9 335.87h2.38v2.34h-2.38zM26.23 335.87h2.38v2.34h-2.38zM51.84 338.16h2.38v2.34h-2.38zM112.36 338.16h2.38v2.34h-2.38zM93.74 340.45h2.38v2.34h-2.38zM58.82 342.74h2.38v2.34h-2.38zM96.07 342.74h2.38v2.34h-2.38zM112.36 345.04h2.38v2.34h-2.38zM128.66 345.04h2.38v2.34h-2.38zM65.8 347.33h2.38v2.34h-2.38zM23.9 351.91h2.38v2.34h-2.38zM33.21 354.2h2.38v2.34h-2.38zM117.02 356.5h2.38v2.34h-2.38zM121.68 358.79h2.38v2.34h-2.38zM84.43 361.08h2.38v2.34h-2.38zM86.76 361.08h2.38v2.34h-2.38zM89.08 361.08h2.38v2.34h-2.38zM91.41 361.08h2.38v2.34h-2.38zM63.48 365.66h2.38v2.34h-2.38zM47.18 370.25h2.38v2.34h-2.38zM91.41 372.54h2.38v2.34h-2.38zM114.69 372.54h2.38v2.34h-2.38zM119.35 374.83h2.38v2.34h-2.38zM133.32 374.83h2.38v2.34h-2.38zM44.85 377.12h2.38v2.34h-2.38zM93.74 377.12h2.38v2.34h-2.38zM135.64 379.42h2.38v2.34h-2.38z"/>
<path fill="#2084b4" d="M35.54 331.28h2.38v2.34h-2.38zM128.66 347.33h2.38v2.34h-2.38zM93.74 367.96h2.38v2.34h-2.38z"/>
<path fill="#24c078" d="M44.85 331.28h2.38v2.34h-2.38zM44.85 333.58h2.38v2.34h-2.38zM100.72 335.87h2.38v2.34h-2.38zM130.99 338.16h2.38v2.34h-2.38zM135.64 342.74h2.38v2.34h-2.38zM44.85 345.04h2.38v2.34h-2.38zM61.15 347.33h2.38v2.34h-2.38zM77.44 351.91h2.38v2.34h-2.38zM89.08 351.91h2.38v2.34h-2.38zM63.48 356.5h2.38v2.34h-2.38zM121.68 372.54h2.38v2.34h-2.38zM72.79 381.71h2.38v2.34h-2.38z"/>
<path fill="#1cb480" d="M75.12 331.28h2.38v2.34h-2.38zM126.33 335.87h2.38v2.34h-2.38zM114.69 342.74h2.38v2.34h-2.38zM117.02 345.04h2.38v2.34h-2.38zM130.99 347.33h2.38v2.34h-2.38zM37.87 351.91h2.38v2.34h-2.38zM135.64 354.2h2.38v2.34h-2.38zM54.16 358.79h2.38v2.34h-2.38zM100.72 361.08h2.38v2.34h-2.38zM49.51 372.54h2.38v2.34h-2.38zM77.44 372.54h2.38v2.34h-2.38zM130.99 374.83h2.38v2.34h-2.38zM30.88 377.12h2.38v2.34h-2.38zM61.15 381.71h2.38v2.34h-2.38z"/>
<path fill="#248cb0" d="M84.43 331.28h2.38v2.34h-2.38zM37.87 335.87h2.38v2.34h-2.38zM30.88 345.04h2.38v2.34h-2.38zM72.79 363.37h2.38v2.34h-2.38zM126.33 365.66h2.38v2.34h-2.38zM42.52 367.96h2.38v2.34h-2.38zM124 367.96h2.38v2.34h-2.38zM110.04 370.25h2.38v2.34h-2.38zM79.77 372.54h2.38v2.34h-2.38zM100.72 372.54h2.38v2.34h-2.38zM84.43 379.42h2.38v2.34h-2.38zM86.76 379.42h2.38v2.34h-2.38z"/>
<path fill="#50c454" d="M89.08 331.28h2.38v2.34h-2.38zM105.38 331.28h2.38v2.34h-2.38zM44.85 338.16h2.38v2.34h-2.38zM96.07 340.45h2.38v2.34h-2.38zM47.18 345.04h2.38v2.34h-2.38zM75.12 347.33h2.38v2.34h-2.38zM68.13 351.91h2.38v2.34h-2.38zM91.41 351.91h2.38v2.34h-2.38zM103.05 372.54h2.38v2.34h-2.38zM54.16 379.42h2.38v2.34h-2.38z"/>
<path fill="#40d454" d="M96.07 331.28h2.38v2.34h-2.38zM47.18 333.58h2.38v2.34h-2.38zM105.38 354.2h2.38v2.34h-2.38zM30.88 363.37h2.38v2.34h-2.38zM40.2 381.71h2.38v2.34h-2.38z"/>
<path fill="#58d448" d="M98.4 331.28h2.38v2.34h-2.38zM56.49 345.04h2.38v2.34h-2.38zM70.46 351.91h2.38v2.34h-2.38zM84.43 356.5h2.38v2.34h-2.38zM79.77 361.08h2.38v2.34h-2.38zM137.97 379.42h2.38v2.34h-2.38z"/>
<path fill="#3cd058" d="M100.72 331.28h2.38v2.34h-2.38zM82.1 333.58h2.38v2.34h-2.38zM70.46 335.87h2.38v2.34h-2.38zM35.54 338.16h2.38v2.34h-2.38zM79.77 338.16h2.38v2.34h-2.38zM49.51 340.45h2.38v2.34h-2.38zM72.79 340.45h2.38v2.34h-2.38zM119.35 340.45h2.38v2.34h-2.38zM63.48 345.04h2.38v2.34h-2.38zM75.12 345.04h2.38v2.34h-2.38zM33.21 349.62h2.38v2.34h-2.38zM37.87 349.62h2.38v2.34h-2.38zM84.43 349.62h2.38v2.34h-2.38zM114.69 349.62h2.38v2.34h-2.38zM44.85 354.2h2.38v2.34h-2.38zM77.44 354.2h2.38v2.34h-2.38zM49.51 358.79h2.38v2.34h-2.38zM51.84 361.08h2.38v2.34h-2.38zM56.49 361.08h2.38v2.34h-2.38zM61.15 361.08h2.38v2.34h-2.38zM75.12 361.08h2.38v2.34h-2.38zM77.44 361.08h2.38v2.34h-2.38zM75.12 363.37h2.38v2.34h-2.38zM77.44 363.37h2.38v2.34h-2.38zM84.43 363.37h2.38v2.34h-2.38zM119.35 363.37h2.38v2.34h-2.38zM105.38 365.66h2.38v2.34h-2.38zM130.99 365.66h2.38v2.34h-2.38zM37.87 367.96h2.38v2.34h-2.38zM77.44 370.25h2.38v2.34h-2.38zM135.64 370.25h2.38v2.34h-2.38zM28.56 374.83h2.38v2.34h-2.38zM65.8 374.83h2.38v2.34h-2.38zM75.12 374.83h2.38v2.34h-2.38zM105.38 377.12h2.38v2.34h-2.38zM121.68 377.12h2.38v2.34h-2.38zM70.46 379.42h2.38v2.34h-2.38zM107.71 379.42h2.38v2.34h-2.38zM117.02 379.42h2.38v2.34h-2.38zM54.16 381.71h2.38v2.34h-2.38z"/>
<path fill="#24a494" d="M117.02 331.28h2.38v2.34h-2.38zM56.49 333.58h2.38v2.34h-2.38zM117.02 333.58h2.38v2.34h-2.38zM70.46 340.45h2.38v2.34h-2.38zM68.13 345.04h2.38v2.34h-2.38zM61.15 351.91h2.38v2.34h-2.38zM98.4 356.5h2.38v2.34h-2.38zM51.84 370.25h2.38v2.34h-2.38zM70.46 372.54h2.38v2.34h-2.38z"/>
<path fill="#2488b4" d="M137.97 331.28h2.38v2.34h-2.38zM47.18 335.87h2.38v2.34h-2.38zM98.4 349.62h2.38v2.34h-2.38zM40.2 356.5h2.38v2.34h-2.38zM65.8 361.08h2.38v2.34h-2.38zM72.79 361.08h2.38v2.34h-2.38zM112.36 361.08h2.38v2.34h-2.38z"/>
<path fill="#40d850" d="M23.9 333.58h2.38v2.34h-2.38zM47.18 354.2h2.38v2.34h-2.38zM65.8 370.25h2.38v2.34h-2.38zM110.04 379.42h2.38v2.34h-2.38z"/>
<path fill="#34c860" d="M26.23 333.58h2.38v2.34h-2.38zM72.79 335.87h2.38v2.34h-2.38zM79.77 358.79h2.38v2.34h-2.38z"/>
<path fill="#24cc68" d="M30.88 333.58h2.38v2.34h-2.38zM42.52 333.58h2.38v2.34h-2.38zM124 335.87h2.38v2.34h-2.38zM84.43 338.16h2.38v2.34h-2.38zM84.43 345.04h2.38v2.34h-2.38zM70.46 347.33h2.38v2.34h-2.38zM100.72 347.33h2.38v2.34h-2.38zM30.88 349.62h2.38v2.34h-2.38zM135.64 358.79h2.38v2.34h-2.38zM44.85 363.37h2.38v2.34h-2.38zM47.18 363.37h2.38v2.34h-2.38zM112.36 365.66h2.38v2.34h-2.38zM121.68 365.66h2.38v2.34h-2.38zM128.66 365.66h2.38v2.34h-2.38zM119.35 370.25h2.38v2.34h-2.38zM77.44 374.83h2.38v2.34h-2.38zM44.85 381.71h2.38v2.34h-2.38zM112.36 381.71h2.38v2.34h-2.38zM135.64 381.71h2.38v2.34h-2.38z"/>
<path fill="#286ccc" d="M37.87 333.58h2.38v2.34h-2.38zM114.69 335.87h2.38v2.34h-2.38zM105.38 340.45h2.38v2.34h-2.38zM126.33 342.74h2.38v2.34h-2.38zM96.07 345.04h2.38v2.34h-2.38zM133.32 349.62h2.38v2.34h-2.38zM137.97 351.91h2.38v2.34h-2.38zM110.04 356.5h2.38v2.34h-2.38zM86.76 367.96h2.38v2.34h-2.38zM128.66 367.96h2.38v2.34h-2.38zM40.2 377.12h2.38v2.34h-2.38zM75.12 381.71h2.38v2.34h-2.38z"/>
<path fill="#54c850" d="M51.84 333.58h2.38v2.34h-2.38zM96.07 333.58h2.38v2.34h-2.38zM51.84 335.87h2.38v2.34h-2.38zM44.85 340.45h2.38v2.34h-2.38zM79.77 340.45h2.38v2.34h-2.38zM93.74 345.04h2.38v2.34h-2.38zM28.56 358.79h2.38v2.34h-2.38zM51.84 367.96h2.38v2.34h-2.38zM93.74 372.54h2.38v2.34h-2.38zM28.56 377.12h2.38v2.34h-2.38zM86.76 381.71h2.38v2.34h-2.38z"/>
<path fill="#2c6ccc" d="M54.16 333.58h2.38v2.34h-2.38zM86.76 340.45h2.38v2.34h-2.38zM107.71 349.62h2.38v2.34h-2.38z"/>
<path fill="#1878c0" d="M72.79 333.58h2.38v2.34h-2.38zM33.21 338.16h2.38v2.34h-2.38zM63.48 340.45h2.38v2.34h-2.38zM110.04 347.33h2.38v2.34h-2.38zM23.9 349.62h2.38v2.34h-2.38zM82.1 349.62h2.38v2.34h-2.38zM70.46 354.2h2.38v2.34h-2.38zM65.8 363.37h2.38v2.34h-2.38zM96.07 363.37h2.38v2.34h-2.38zM117.02 365.66h2.38v2.34h-2.38zM30.88 370.25h2.38v2.34h-2.38zM58.82 370.25h2.38v2.34h-2.38zM126.33 370.25h2.38v2.34h-2.38zM82.1 374.83h2.38v2.34h-2.38zM35.54 377.12h2.38v2.34h-2.38zM30.88 379.42h2.38v2.34h-2.38zM23.9 381.71h2.38v2.34h-2.38z"/>
<path fill="#3cd454" d="M75.12 333.58h2.38v2.34h-2.38zM110.04 342.74h2.38v2.34h-2.38zM26.23 347.33h2.38v2.34h-2.38zM82.1 354.2h2.38v2.34h-2.38zM133.32 356.5h2.38v2.34h-2.38zM114.69 361.08h2.38v2.34h-2.38zM86.76 365.66h2.38v2.34h-2.38zM40.2 379.42h2.38v2.34h-2.38z"/>
<path fill="#38c85c" d="M135.64 333.58h2.38v2.34h-2.38zM121.68 335.87h2.38v2.34h-2.38zM65.8 340.45h2.38v2.34h-2.38zM51.84 349.62h2.38v2.34h-2.38zM65.8 349.62h2.38v2.34h-2.38zM117.02 349.62h2.38v2.34h-2.38zM54.16 351.91h2.38v2.34h-2.38zM84.43 354.2h2.38v2.34h-2.38zM93.74 354.2h2.38v2.34h-2.38zM72.79 365.66h2.38v2.34h-2.38zM79.77 365.66h2.38v2.34h-2.38zM103.05 370.25h2.38v2.34h-2.38zM117.02 370.25h2.38v2.34h-2.38zM49.51 374.83h2.38v2.34h-2.38zM63.48 377.12h2.38v2.34h-2.38z"/>
<path fill="#2868d0" d="M35.54 335.87h2.38v2.34h-2.38zM135.64 351.91h2.38v2.34h-2.38zM103.05 361.08h2.38v2.34h-2.38zM119.35 361.08h2.38v2.34h-2.38zM26.23 363.37h2.38v2.34h-2.38zM112.36 367.96h2.38v2.34h-2.38zM70.46 374.83h2.38v2.34h-2.38z"/>
<path fill="#28cc64" d="M54.16 335.87h2.38v2.34h-2.38zM28.56 342.74h2.38v2.34h-2.38zM58.82 347.33h2.38v2.34h-2.38zM49.51 349.62h2.38v2.34h-2.38zM126.33 349.62h2.38v2.34h-2.38zM56.49 354.2h2.38v2.34h-2.38zM75.12 354.2h2.38v2.34h-2.38zM42.52 356.5h2.38v2.34h-2.38zM103.05 358.79h2.38v2.34h-2.38zM119.35 358.79h2.38v2.34h-2.38zM93.74 361.08h2.38v2.34h-2.38zM130.99 361.08h2.38v2.34h-2.38zM105.38 363.37h2.38v2.34h-2.38zM72.79 367.96h2.38v2.34h-2.38zM121.68 367.96h2.38v2.34h-2.38zM110.04 381.71h2.38v2.34h-2.38z"/>
<path fill="#54d048" d="M56.49 335.87h2.38v2.34h-2.38zM68.13 335.87h2.38v2.34h-2.38zM107.71 342.74h2.38v2.34h-2.38zM72.79 347.33h2.38v2.34h-2.38zM117.02 347.33h2.38v2.34h-2.38zM137.97 367.96h2.38v2.34h-2.38zM47.18 379.42h2.38v2.34h-2.38z"/>
<path fill="#34c460" d="M77.44 335.87h2.38v2.34h-2.38zM30.88 342.74h2.38v2.34h-2.38zM30.88 367.96h2.38v2.34h-2.38zM37.87 370.25h2.38v2.34h-2.38zM126.33 377.12h2.38v2.34h-2.38z"/>
<path fill="#2cd460" d="M26.23 338.16h2.38v2.34h-2.38zM114.69 345.04h2.38v2.34h-2.38zM137.97 349.62h2.38v2.34h-2.38zM30.88 361.08h2.38v2.34h-2.38zM121.68 363.37h2.38v2.34h-2.38zM63.48 367.96h2.38v2.34h-2.38zM72.79 370.25h2.38v2.34h-2.38zM112.36 377.12h2.38v2.34h-2.38z"/>
<path fill="#4cc054" d="M28.56 338.16h2.38v2.34h-2.38zM86.76 363.37h2.38v2.34h-2.38zM100.72 379.42h2.38v2.34h-2.38z"/>
<path fill="#2cd45c" d="M37.87 338.16h2.38v2.34h-2.38zM33.21 340.45h2.38v2.34h-2.38zM58.82 361.08h2.38v2.34h-2.38zM128.66 372.54h2.38v2.34h-2.38z"/>
<path fill="#18b084" d="M56.49 338.16h2.38v2.34h-2.38zM137.97 365.66h2.38v2.34h-2.38z"/>
<path fill="#24c074" d="M70.46 338.16h2.38v2.34h-2.38zM121.68 361.08h2.38v2.34h-2.38zM30.88 374.83h2.38v2.34h-2.38zM126.33 379.42h2.38v2.34h-2.38z"/>
<path fill="#34c464" d="M86.76 338.16h2.38v2.34h-2.38zM86.76 374.83h2.38v2.34h-2.38z"/>
<path fill="#54d04c" d="M105.38 338.16h2.38v2.34h-2.38zM47.18 347.33h2.38v2.34h-2.38zM107.71 370.25h2.38v2.34h-2.38zM56.49 372.54h2.38v2.34h-2.38z"/>
<path fill="#28c870" d="M110.04 338.16h2.38v2.34h-2.38z"/>
<path fill="#2464d0" d="M23.9 340.45h2.38v2.34h-2.38zM124 340.45h2.38v2.34h-2.38zM114.69 351.91h2.38v2.34h-2.38zM124 356.5h2.38v2.34h-2.38zM137.97 358.79h2.38v2.34h-2.38zM68.13 363.37h2.38v2.34h-2.38zM96.07 374.83h2.38v2.34h-2.38zM86.76 377.12h2.38v2.34h-2.38zM89.08 381.71h2.38v2.34h-2.38z"/>
<path fill="#38c860" d="M84.43 340.45h2.38v2.34h-2.38zM40.2 342.74h2.38v2.34h-2.38zM49.51 342.74h2.38v2.34h-2.38zM58.82 345.04h2.38v2.34h-2.38zM103.05 345.04h2.38v2.34h-2.38zM79.77 349.62h2.38v2.34h-2.38zM75.12 351.91h2.38v2.34h-2.38zM79.77 351.91h2.38v2.34h-2.38zM103.05 351.91h2.38v2.34h-2.38zM28.56 354.2h2.38v2.34h-2.38zM96.07 356.5h2.38v2.34h-2.38zM49.51 363.37h2.38v2.34h-2.38zM89.08 365.66h2.38v2.34h-2.38zM79.77 381.71h2.38v2.34h-2.38z"/>
<path fill="#28ac8c" d="M103.05 340.45h2.38v2.34h-2.38z"/>
<path fill="#30dc58" d="M135.64 340.45h2.38v2.34h-2.38z"/>
<path fill="#4464c0" d="M26.23 342.74h2.38v2.34h-2.38zM128.66 363.37h2.38v2.34h-2.38z"/>
<path fill="#3ccc58" d="M84.43 342.74h2.38v2.34h-2.38zM54.16 345.04h2.38v2.34h-2.38zM137.97 347.33h2.38v2.34h-2.38zM42.52 349.62h2.38v2.34h-2.38zM42.52 351.91h2.38v2.34h-2.38zM63.48 361.08h2.38v2.34h-2.38zM93.74 365.66h2.38v2.34h-2.38zM61.15 374.83h2.38v2.34h-2.38zM89.08 374.83h2.38v2.34h-2.38zM103.05 374.83h2.38v2.34h-2.38z"/>
<path fill="#54c84c" d="M124 342.74h2.38v2.34h-2.38zM137.97 342.74h2.38v2.34h-2.38zM44.85 372.54h2.38v2.34h-2.38z"/>
<path fill="#187cc0" d="M23.9 345.04h2.38v2.34h-2.38zM128.66 349.62h2.38v2.34h-2.38zM54.16 377.12h2.38v2.34h-2.38zM98.4 379.42h2.38v2.34h-2.38zM26.23 381.71h2.38v2.34h-2.38z"/>
<path fill="#2890ac" d="M37.87 345.04h2.38v2.34h-2.38zM61.15 358.79h2.38v2.34h-2.38z"/>
<path fill="#1890a4" d="M40.2 345.04h2.38v2.34h-2.38z"/>
<path fill="#1898a0" d="M133.32 345.04h2.38v2.34h-2.38zM103.05 363.37h2.38v2.34h-2.38zM23.9 372.54h2.38v2.34h-2.38z"/>
<path fill="#20c468" d="M28.56 347.33h2.38v2.34h-2.38zM89.08 354.2h2.38v2.34h-2.38z"/>
<path fill="#4cbc58" d="M84.43 347.33h2.38v2.34h-2.38zM68.13 358.79h2.38v2.34h-2.38z"/>
<path fill="#4464c4" d="M93.74 347.33h2.38v2.34h-2.38zM96.07 351.91h2.38v2.34h-2.38z"/>
<path fill="#4cc058" d="M107.71 347.33h2.38v2.34h-2.38zM93.74 381.71h2.38v2.34h-2.38z"/>
<path fill="#58d444" d="M91.41 349.62h2.38v2.34h-2.38zM33.21 372.54h2.38v2.34h-2.38zM54.16 374.83h2.38v2.34h-2.38z"/>
<path fill="#20c06c" d="M49.51 354.2h2.38v2.34h-2.38zM72.79 358.79h2.38v2.34h-2.38zM82.1 358.79h2.38v2.34h-2.38zM126.33 358.79h2.38v2.34h-2.38z"/>
<path fill="#4060c8" d="M114.69 354.2h2.38v2.34h-2.38z"/>
<path fill="#18989c" d="M47.18 356.5h2.38v2.34h-2.38zM26.23 358.79h2.38v2.34h-2.38z"/>
<path fill="#1490a4" d="M51.84 356.5h2.38v2.34h-2.38z"/>
<path fill="#205cd8" d="M93.74 356.5h2.38v2.34h-2.38z"/>
<path fill="#2464d4" d="M107.71 363.37h2.38v2.34h-2.38z"/>
<path fill="#5cd844" d="M28.56 365.66h2.38v2.34h-2.38z"/>
<path fill="#3074c4" d="M37.87 365.66h2.38v2.34h-2.38z"/>
<path fill="#4468c0" d="M23.9 370.25h2.38v2.34h-2.38z"/>
<path fill="#2864d0" d="M84.43 370.25h2.38v2.34h-2.38z"/>
<path fill="#24a490" d="M128.66 377.12h2.38v2.34h-2.38z"/>
<path fill="#2c70c4" d="M61.15 379.42h2.38v2.34h-2.38z"/>
<path fill="#248cb4" d="M77.44 379.42h2.38v2.34h-2.38z"/>
<path fill="#1474c4" d="M82.1 381.71h2.38v2.34h-2.38z"/>
</g>
<g shape-rendering="crispEdges">
<rect x="23.9" y="326.7" width="2.38" height="1" fill="#5f55aa"/>
<rect x="26.23" y="326.7" width="2.38" height="1" fill="#3278be"/>
<rect x="28.56" y="326.7" width="2.38" height="1" fill="#465abe"/>
<rect x="30.88" y="326.7" width="2.38" height="1" fill="#735f96"/>
<rect x="33.21" y="326.7" width="2.38" height="1" fill="#465abe"/>
<rect x="35.54" y="326.7" width="2.38" height="1" fill="#3c9696"/>
<rect x="37.87" y="326.7" width="2.38" height="1" fill="#5f55aa"/>
<rect x="40.2" y="326.7" width="2.38" height="1" fill="#5f55aa"/>
<rect x="42.52" y="326.7" width="2.38" height="1" fill="#3c9696"/>
<rect x="44.85" y="326.7" width="2.38" height="1" fill="#3c9696"/>
<rect x="47.18" y="326.7" width="2.38" height="1" fill="#3c9696"/>
<rect x="49.51" y="326.7" width="2.38" height="1" fill="#3278be"/>
<rect x="51.84" y="326.7" width="2.38" height="1" fill="#5f55aa"/>
<rect x="54.16" y="326.7" width="2.38" height="1" fill="#5f55aa"/>
<rect x="56.49" y="326.7" width="2.38" height="1" fill="#3c9696"/>
<rect x="58.82" y="326.7" width="2.38" height="1" fill="#3c9696"/>
<rect x="61.15" y="326.7" width="2.38" height="1" fill="#3278be"/>
<rect x="63.48" y="326.7" width="2.38" height="1" fill="#5f55aa"/>
<rect x="65.8" y="326.7" width="2.38" height="1" fill="#3c9696"/>
<rect x="68.13" y="326.7" width="2.38" height="1" fill="#3278be"/>
<rect x="70.46" y="326.7" width="2.38" height="1" fill="#5f55aa"/>
<rect x="72.79" y="326.7" width="2.38" height="1" fill="#3278be"/>
<rect x="75.12" y="326.7" width="2.38" height="1" fill="#735f96"/>
<rect x="77.44" y="326.7" width="2.38" height="1" fill="#5f55aa"/>
<rect x="79.77" y="326.7" width="2.38" height="1" fill="#735f96"/>
<rect x="82.1" y="326.7" width="2.38" height="1" fill="#465abe"/>
<rect x="84.43" y="326.7" width="2.38" height="1" fill="#465abe"/>
<rect x="86.76" y="326.7" width="2.38" height="1" fill="#3c9696"/>
<rect x="89.08" y="326.7" width="2.38" height="1" fill="#465abe"/>
<rect x="91.41" y="326.7" width="2.38" height="1" fill="#5f55aa"/>
<rect x="93.74" y="326.7" width="2.38" height="1" fill="#5f55aa"/>
<rect x="96.07" y="326.7" width="2.38" height="1" fill="#5f55aa"/>
<rect x="98.4" y="326.7" width="2.38" height="1" fill="#735f96"/>
<rect x="100.72" y="326.7" width="2.38" height="1" fill="#735f96"/>
<rect x="103.05" y="326.7" width="2.38" height="1" fill="#735f96"/>
<rect x="105.38" y="326.7" width="2.38" height="1" fill="#3278be"/>
<rect x="107.71" y="326.7" width="2.38" height="1" fill="#5f55aa"/>
<rect x="110.04" y="326.7" width="2.38" height="1" fill="#3278be"/>
<rect x="112.36" y="326.7" width="2.38" height="1" fill="#465abe"/>
<rect x="114.69" y="326.7" width="2.38" height="1" fill="#5f55aa"/>
<rect x="117.02" y="326.7" width="2.38" height="1" fill="#5f55aa"/>
<rect x="119.35" y="326.7" width="2.38" height="1" fill="#3c9696"/>
<rect x="121.68" y="326.7" width="2.38" height="1" fill="#3c9696"/>
<rect x="124" y="326.7" width="2.38" height="1" fill="#5f55aa"/>
<rect x="126.33" y="326.7" width="2.38" height="1" fill="#5f55aa"/>
<rect x="128.66" y="326.7" width="2.38" height="1" fill="#465abe"/>
<rect x="130.99" y="326.7" width="2.38" height="1" fill="#3c9696"/>
<rect x="133.32" y="326.7" width="2.38" height="1" fill="#3c9696"/>
<rect x="135.64" y="326.7" width="2.38" height="1" fill="#3c9696"/>
<rect x="137.97" y="326.7" width="2.38" height="1" fill="#3c9696"/>
</g>
<text x="78.9" y="392.92" font-size="7" text-anchor="middle" transform="rotate(0.03 78.9 392.92)">x−direction (20 m)</text>
<text x="11.3" y="364.7" font-size="7" text-anchor="middle" transform="rotate(-90 11.3 364.7)">y-direction</text>
<text x="18.7" y="364.7" font-size="7" text-anchor="middle" transform="rotate(-90 18.7 364.7)">(20 m)</text>
<defs><linearGradient id="gg" x1="0" y1="0" x2="0" y2="1"><stop offset="0" stop-color="#8c4114"/><stop offset="0.07" stop-color="#b42d1e"/><stop offset="0.16" stop-color="#d7232d"/><stop offset="0.26" stop-color="#cd1e5f"/><stop offset="0.34" stop-color="#7d3c9b"/><stop offset="0.44" stop-color="#4b50be"/><stop offset="0.55" stop-color="#2864c8"/><stop offset="0.66" stop-color="#198caa"/><stop offset="0.78" stop-color="#19aa7d"/><stop offset="0.9" stop-color="#3cbe50"/><stop offset="1" stop-color="#7dc328"/></linearGradient></defs>
<rect x="148.9" y="334.1" width="7.7" height="59.5" fill="url(#gg)"/>
<text x="158.4" y="337.57" font-size="5.2" text-anchor="start" transform="rotate(0.03 158.4 337.57)" stroke-width="0.08">1080</text>
<text x="158.4" y="343.72" font-size="5.2" text-anchor="start" transform="rotate(0.03 158.4 343.72)" stroke-width="0.08">960</text>
<text x="158.4" y="349.86" font-size="5.2" text-anchor="start" transform="rotate(0.03 158.4 349.86)" stroke-width="0.08">840</text>
<text x="158.4" y="356.01" font-size="5.2" text-anchor="start" transform="rotate(0.03 158.4 356.01)" stroke-width="0.08">720</text>
<text x="158.4" y="362.15" font-size="5.2" text-anchor="start" transform="rotate(0.03 158.4 362.15)" stroke-width="0.08">600</text>
<text x="158.4" y="368.29" font-size="5.2" text-anchor="start" transform="rotate(0.03 158.4 368.29)" stroke-width="0.08">480</text>
<text x="158.4" y="374.44" font-size="5.2" text-anchor="start" transform="rotate(0.03 158.4 374.44)" stroke-width="0.08">360</text>
<text x="158.4" y="380.58" font-size="5.2" text-anchor="start" transform="rotate(0.03 158.4 380.58)" stroke-width="0.08">240</text>
<text x="158.4" y="386.73" font-size="5.2" text-anchor="start" transform="rotate(0.03 158.4 386.73)" stroke-width="0.08">120</text>
<text x="158.4" y="392.87" font-size="5.2" text-anchor="start" transform="rotate(0.03 158.4 392.87)" stroke-width="0.08">0</text>
<text x="148.9" y="322.46" font-size="6" text-anchor="start" transform="rotate(0.03 148.9 322.46)" stroke-width="0.08"><tspan font-style="italic">RMSE</tspan></text>
<text x="148.9" y="329.26" font-size="6" text-anchor="start" transform="rotate(0.03 148.9 329.26)" stroke-width="0.08">(trees/ha)</text>
<rect x="29.4" y="425.3" width="3.97" height="4.8" fill="#ababab"/>
<rect x="34.37" y="406.5" width="3.97" height="23.6" fill="#ababab"/>
<rect x="39.34" y="404.8" width="3.97" height="25.3" fill="#ababab"/>
<rect x="44.31" y="409" width="3.97" height="21.1" fill="#ababab"/>
<rect x="49.28" y="414.5" width="3.97" height="15.6" fill="#ababab"/>
<rect x="54.25" y="420" width="3.97" height="10.1" fill="#ababab"/>
<rect x="59.22" y="423" width="3.97" height="7.1" fill="#ababab"/>
<rect x="64.19" y="424.4" width="3.97" height="5.7" fill="#ababab"/>
<rect x="69.16" y="426.4" width="3.97" height="3.7" fill="#ababab"/>
<rect x="74.13" y="428" width="3.97" height="2.1" fill="#ababab"/>
<rect x="79.1" y="428.4" width="3.97" height="1.7" fill="#ababab"/>
<rect x="84.07" y="429" width="3.97" height="1.1" fill="#ababab"/>
<rect x="89.04" y="429.4" width="3.97" height="0.7" fill="#ababab"/>
<rect x="94.01" y="429.7" width="3.97" height="0.4" fill="#ababab"/>
<rect x="98.98" y="429.8" width="3.97" height="0.3" fill="#ababab"/>
<rect x="103.95" y="429.9" width="3.97" height="0.2" fill="#ababab"/>
<rect x="24.3" y="403.1" width="116.1" height="27.9" fill="none" stroke="#111" stroke-width="0.7"/>
<line x1="46.8" y1="403.1" x2="46.8" y2="431" stroke="#1a1a1a" stroke-width="1.3"/>
<line x1="30" y1="431" x2="30" y2="433" stroke="#222" stroke-width="0.6"/>
<text x="30" y="439.92" font-size="7" text-anchor="middle" transform="rotate(0.03 30 439.92)">0</text>
<line x1="50" y1="431" x2="50" y2="433" stroke="#222" stroke-width="0.6"/>
<text x="50" y="439.92" font-size="7" text-anchor="middle" transform="rotate(0.03 50 439.92)">200</text>
<line x1="69.3" y1="431" x2="69.3" y2="433" stroke="#222" stroke-width="0.6"/>
<line x1="88.6" y1="431" x2="88.6" y2="433" stroke="#222" stroke-width="0.6"/>
<text x="88.6" y="439.92" font-size="7" text-anchor="middle" transform="rotate(0.03 88.6 439.92)">600</text>
<line x1="107.9" y1="431" x2="107.9" y2="433" stroke="#222" stroke-width="0.6"/>
<line x1="127.3" y1="431" x2="127.3" y2="433" stroke="#222" stroke-width="0.6"/>
<text x="127.3" y="439.92" font-size="7" text-anchor="middle" transform="rotate(0.03 127.3 439.92)">1000</text>
<line x1="22.3" y1="430.2" x2="24.3" y2="430.2" stroke="#222" stroke-width="0.6"/>
<text x="19" y="430.2" font-size="7" text-anchor="middle" transform="rotate(-90 19 430.2)">0</text>
<line x1="22.3" y1="424.8" x2="24.3" y2="424.8" stroke="#222" stroke-width="0.6"/>
<line x1="22.3" y1="419.4" x2="24.3" y2="419.4" stroke="#222" stroke-width="0.6"/>
<line x1="22.3" y1="414" x2="24.3" y2="414" stroke="#222" stroke-width="0.6"/>
<line x1="22.3" y1="408.6" x2="24.3" y2="408.6" stroke="#222" stroke-width="0.6"/>
<line x1="22.3" y1="403.4" x2="24.3" y2="403.4" stroke="#222" stroke-width="0.6"/>
<text x="19" y="419.4" font-size="7" text-anchor="middle" transform="rotate(-90 19 419.4)">150</text>
<text x="19" y="408.5" font-size="7" text-anchor="middle" transform="rotate(-90 19 408.5)">250</text>
<text x="86" y="451.01" font-size="6.7" text-anchor="middle" transform="rotate(0.03 86 451.01)"><tspan font-style="italic">RMSE</tspan> (trees/ha)</text>
<text x="10.4" y="415.5" font-size="6.7" text-anchor="middle" transform="rotate(-90 10.4 415.5)">Frequency</text>
<!-- panel h -->
<text x="194.1" y="314.9" font-size="10" text-anchor="start" transform="rotate(0.03 194.1 314.9)">(h)</text>
<g shape-rendering="crispEdges">
<path fill="#3ccc5c" d="M210.1 325.4h2.37v2.38h-2.37zM224.03 325.4h2.37v2.38h-2.37zM226.35 325.4h2.37v2.38h-2.37zM233.32 325.4h2.37v2.38h-2.37zM237.96 325.4h2.37v2.38h-2.37zM258.86 325.4h2.37v2.38h-2.37zM261.18 325.4h2.37v2.38h-2.37zM319.23 325.4h2.37v2.38h-2.37zM298.34 327.73h2.37v2.38h-2.37zM319.23 327.73h2.37v2.38h-2.37zM251.9 330.06h2.37v2.38h-2.37zM268.15 330.06h2.37v2.38h-2.37zM298.34 330.06h2.37v2.38h-2.37zM300.66 330.06h2.37v2.38h-2.37zM258.86 332.4h2.37v2.38h-2.37zM302.98 332.4h2.37v2.38h-2.37zM296.01 334.73h2.37v2.38h-2.37zM258.86 337.06h2.37v2.38h-2.37zM277.44 337.06h2.37v2.38h-2.37zM302.98 337.06h2.37v2.38h-2.37zM307.62 337.06h2.37v2.38h-2.37zM316.91 337.06h2.37v2.38h-2.37zM321.56 337.06h2.37v2.38h-2.37zM237.96 339.39h2.37v2.38h-2.37zM268.15 339.39h2.37v2.38h-2.37zM302.98 339.39h2.37v2.38h-2.37zM307.62 339.39h2.37v2.38h-2.37zM256.54 341.72h2.37v2.38h-2.37zM261.18 341.72h2.37v2.38h-2.37zM270.47 341.72h2.37v2.38h-2.37zM277.44 341.72h2.37v2.38h-2.37zM233.32 344.06h2.37v2.38h-2.37zM298.34 344.06h2.37v2.38h-2.37zM316.91 346.39h2.37v2.38h-2.37zM235.64 348.72h2.37v2.38h-2.37zM282.08 348.72h2.37v2.38h-2.37zM307.62 348.72h2.37v2.38h-2.37zM319.23 348.72h2.37v2.38h-2.37zM249.57 351.05h2.37v2.38h-2.37zM268.15 351.05h2.37v2.38h-2.37zM261.18 353.38h2.37v2.38h-2.37zM237.96 355.72h2.37v2.38h-2.37zM254.22 355.72h2.37v2.38h-2.37zM277.44 355.72h2.37v2.38h-2.37zM319.23 355.72h2.37v2.38h-2.37zM251.9 358.05h2.37v2.38h-2.37zM286.73 358.05h2.37v2.38h-2.37zM312.27 360.38h2.37v2.38h-2.37zM249.57 362.71h2.37v2.38h-2.37zM265.83 362.71h2.37v2.38h-2.37zM244.93 365.04h2.37v2.38h-2.37zM323.88 365.04h2.37v2.38h-2.37zM286.73 367.38h2.37v2.38h-2.37zM321.56 367.38h2.37v2.38h-2.37zM263.51 369.71h2.37v2.38h-2.37zM293.69 369.71h2.37v2.38h-2.37zM221.71 372.04h2.37v2.38h-2.37zM233.32 372.04h2.37v2.38h-2.37zM254.22 372.04h2.37v2.38h-2.37zM270.47 372.04h2.37v2.38h-2.37zM272.79 372.04h2.37v2.38h-2.37zM275.12 372.04h2.37v2.38h-2.37zM302.98 372.04h2.37v2.38h-2.37zM314.59 374.37h2.37v2.38h-2.37zM321.56 374.37h2.37v2.38h-2.37zM237.96 376.7h2.37v2.38h-2.37zM270.47 376.7h2.37v2.38h-2.37zM302.98 376.7h2.37v2.38h-2.37zM235.64 379.04h2.37v2.38h-2.37zM247.25 379.04h2.37v2.38h-2.37zM263.51 379.04h2.37v2.38h-2.37zM323.88 379.04h2.37v2.38h-2.37zM214.74 381.37h2.37v2.38h-2.37zM237.96 381.37h2.37v2.38h-2.37zM240.29 381.37h2.37v2.38h-2.37zM265.83 381.37h2.37v2.38h-2.37zM270.47 381.37h2.37v2.38h-2.37zM321.56 381.37h2.37v2.38h-2.37z"/>
<path fill="#20bc78" d="M212.42 325.4h2.37v2.38h-2.37zM314.59 327.73h2.37v2.38h-2.37zM307.62 334.73h2.37v2.38h-2.37zM210.1 337.06h2.37v2.38h-2.37zM212.42 339.39h2.37v2.38h-2.37zM268.15 346.39h2.37v2.38h-2.37zM275.12 346.39h2.37v2.38h-2.37zM316.91 348.72h2.37v2.38h-2.37zM242.61 351.05h2.37v2.38h-2.37zM321.56 351.05h2.37v2.38h-2.37zM224.03 369.71h2.37v2.38h-2.37zM309.95 376.7h2.37v2.38h-2.37zM291.37 381.37h2.37v2.38h-2.37z"/>
<path fill="#58d04c" d="M214.74 325.4h2.37v2.38h-2.37zM242.61 325.4h2.37v2.38h-2.37zM244.93 325.4h2.37v2.38h-2.37zM251.9 325.4h2.37v2.38h-2.37zM300.66 325.4h2.37v2.38h-2.37zM316.91 325.4h2.37v2.38h-2.37zM212.42 327.73h2.37v2.38h-2.37zM237.96 327.73h2.37v2.38h-2.37zM240.29 327.73h2.37v2.38h-2.37zM261.18 327.73h2.37v2.38h-2.37zM279.76 327.73h2.37v2.38h-2.37zM286.73 327.73h2.37v2.38h-2.37zM296.01 327.73h2.37v2.38h-2.37zM263.51 332.4h2.37v2.38h-2.37zM300.66 332.4h2.37v2.38h-2.37zM217.07 334.73h2.37v2.38h-2.37zM224.03 334.73h2.37v2.38h-2.37zM228.68 334.73h2.37v2.38h-2.37zM237.96 334.73h2.37v2.38h-2.37zM261.18 334.73h2.37v2.38h-2.37zM272.79 337.06h2.37v2.38h-2.37zM272.79 339.39h2.37v2.38h-2.37zM237.96 341.72h2.37v2.38h-2.37zM244.93 341.72h2.37v2.38h-2.37zM309.95 341.72h2.37v2.38h-2.37zM314.59 341.72h2.37v2.38h-2.37zM217.07 344.06h2.37v2.38h-2.37zM323.88 344.06h2.37v2.38h-2.37zM312.27 346.39h2.37v2.38h-2.37zM284.4 348.72h2.37v2.38h-2.37zM291.37 348.72h2.37v2.38h-2.37zM224.03 351.05h2.37v2.38h-2.37zM279.76 351.05h2.37v2.38h-2.37zM309.95 351.05h2.37v2.38h-2.37zM214.74 353.38h2.37v2.38h-2.37zM244.93 355.72h2.37v2.38h-2.37zM270.47 355.72h2.37v2.38h-2.37zM272.79 355.72h2.37v2.38h-2.37zM270.47 358.05h2.37v2.38h-2.37zM263.51 360.38h2.37v2.38h-2.37zM272.79 360.38h2.37v2.38h-2.37zM302.98 360.38h2.37v2.38h-2.37zM323.88 360.38h2.37v2.38h-2.37zM219.39 365.04h2.37v2.38h-2.37zM228.68 365.04h2.37v2.38h-2.37zM219.39 367.38h2.37v2.38h-2.37zM221.71 367.38h2.37v2.38h-2.37zM237.96 367.38h2.37v2.38h-2.37zM265.83 367.38h2.37v2.38h-2.37zM314.59 367.38h2.37v2.38h-2.37zM261.18 369.71h2.37v2.38h-2.37zM272.79 369.71h2.37v2.38h-2.37zM319.23 369.71h2.37v2.38h-2.37zM212.42 372.04h2.37v2.38h-2.37zM249.57 372.04h2.37v2.38h-2.37zM256.54 372.04h2.37v2.38h-2.37zM309.95 374.37h2.37v2.38h-2.37zM272.79 376.7h2.37v2.38h-2.37zM284.4 376.7h2.37v2.38h-2.37zM289.05 376.7h2.37v2.38h-2.37zM224.03 379.04h2.37v2.38h-2.37zM226.35 379.04h2.37v2.38h-2.37zM224.03 381.37h2.37v2.38h-2.37zM254.22 381.37h2.37v2.38h-2.37zM298.34 381.37h2.37v2.38h-2.37zM305.3 381.37h2.37v2.38h-2.37z"/>
<path fill="#2cd064" d="M217.07 325.4h2.37v2.38h-2.37zM221.71 325.4h2.37v2.38h-2.37zM231 325.4h2.37v2.38h-2.37zM254.22 325.4h2.37v2.38h-2.37zM293.69 325.4h2.37v2.38h-2.37zM214.74 327.73h2.37v2.38h-2.37zM226.35 327.73h2.37v2.38h-2.37zM249.57 327.73h2.37v2.38h-2.37zM277.44 327.73h2.37v2.38h-2.37zM228.68 330.06h2.37v2.38h-2.37zM247.25 330.06h2.37v2.38h-2.37zM291.37 330.06h2.37v2.38h-2.37zM309.95 330.06h2.37v2.38h-2.37zM314.59 330.06h2.37v2.38h-2.37zM210.1 332.4h2.37v2.38h-2.37zM224.03 332.4h2.37v2.38h-2.37zM237.96 332.4h2.37v2.38h-2.37zM254.22 332.4h2.37v2.38h-2.37zM261.18 332.4h2.37v2.38h-2.37zM272.79 332.4h2.37v2.38h-2.37zM275.12 332.4h2.37v2.38h-2.37zM279.76 332.4h2.37v2.38h-2.37zM286.73 332.4h2.37v2.38h-2.37zM214.74 334.73h2.37v2.38h-2.37zM231 334.73h2.37v2.38h-2.37zM244.93 334.73h2.37v2.38h-2.37zM251.9 334.73h2.37v2.38h-2.37zM258.86 334.73h2.37v2.38h-2.37zM265.83 334.73h2.37v2.38h-2.37zM268.15 334.73h2.37v2.38h-2.37zM272.79 334.73h2.37v2.38h-2.37zM284.4 334.73h2.37v2.38h-2.37zM291.37 334.73h2.37v2.38h-2.37zM298.34 334.73h2.37v2.38h-2.37zM302.98 334.73h2.37v2.38h-2.37zM309.95 334.73h2.37v2.38h-2.37zM221.71 337.06h2.37v2.38h-2.37zM224.03 337.06h2.37v2.38h-2.37zM242.61 337.06h2.37v2.38h-2.37zM263.51 337.06h2.37v2.38h-2.37zM309.95 337.06h2.37v2.38h-2.37zM314.59 337.06h2.37v2.38h-2.37zM214.74 339.39h2.37v2.38h-2.37zM226.35 339.39h2.37v2.38h-2.37zM247.25 339.39h2.37v2.38h-2.37zM258.86 339.39h2.37v2.38h-2.37zM263.51 339.39h2.37v2.38h-2.37zM214.74 341.72h2.37v2.38h-2.37zM217.07 341.72h2.37v2.38h-2.37zM219.39 341.72h2.37v2.38h-2.37zM233.32 341.72h2.37v2.38h-2.37zM242.61 341.72h2.37v2.38h-2.37zM247.25 341.72h2.37v2.38h-2.37zM265.83 341.72h2.37v2.38h-2.37zM214.74 344.06h2.37v2.38h-2.37zM231 344.06h2.37v2.38h-2.37zM240.29 344.06h2.37v2.38h-2.37zM275.12 344.06h2.37v2.38h-2.37zM277.44 344.06h2.37v2.38h-2.37zM279.76 344.06h2.37v2.38h-2.37zM256.54 346.39h2.37v2.38h-2.37zM258.86 346.39h2.37v2.38h-2.37zM282.08 346.39h2.37v2.38h-2.37zM296.01 346.39h2.37v2.38h-2.37zM319.23 346.39h2.37v2.38h-2.37zM323.88 346.39h2.37v2.38h-2.37zM237.96 348.72h2.37v2.38h-2.37zM247.25 348.72h2.37v2.38h-2.37zM305.3 348.72h2.37v2.38h-2.37zM309.95 348.72h2.37v2.38h-2.37zM314.59 348.72h2.37v2.38h-2.37zM240.29 351.05h2.37v2.38h-2.37zM289.05 351.05h2.37v2.38h-2.37zM291.37 351.05h2.37v2.38h-2.37zM217.07 353.38h2.37v2.38h-2.37zM254.22 353.38h2.37v2.38h-2.37zM291.37 353.38h2.37v2.38h-2.37zM300.66 353.38h2.37v2.38h-2.37zM319.23 353.38h2.37v2.38h-2.37zM286.73 355.72h2.37v2.38h-2.37zM307.62 355.72h2.37v2.38h-2.37zM231 358.05h2.37v2.38h-2.37zM261.18 358.05h2.37v2.38h-2.37zM277.44 358.05h2.37v2.38h-2.37zM298.34 358.05h2.37v2.38h-2.37zM312.27 358.05h2.37v2.38h-2.37zM217.07 360.38h2.37v2.38h-2.37zM235.64 360.38h2.37v2.38h-2.37zM249.57 360.38h2.37v2.38h-2.37zM251.9 360.38h2.37v2.38h-2.37zM254.22 360.38h2.37v2.38h-2.37zM296.01 360.38h2.37v2.38h-2.37zM319.23 360.38h2.37v2.38h-2.37zM233.32 362.71h2.37v2.38h-2.37zM256.54 362.71h2.37v2.38h-2.37zM261.18 362.71h2.37v2.38h-2.37zM309.95 362.71h2.37v2.38h-2.37zM237.96 365.04h2.37v2.38h-2.37zM249.57 365.04h2.37v2.38h-2.37zM256.54 365.04h2.37v2.38h-2.37zM258.86 365.04h2.37v2.38h-2.37zM277.44 365.04h2.37v2.38h-2.37zM282.08 365.04h2.37v2.38h-2.37zM319.23 365.04h2.37v2.38h-2.37zM321.56 365.04h2.37v2.38h-2.37zM210.1 367.38h2.37v2.38h-2.37zM224.03 367.38h2.37v2.38h-2.37zM247.25 367.38h2.37v2.38h-2.37zM251.9 367.38h2.37v2.38h-2.37zM296.01 367.38h2.37v2.38h-2.37zM302.98 367.38h2.37v2.38h-2.37zM226.35 369.71h2.37v2.38h-2.37zM244.93 369.71h2.37v2.38h-2.37zM300.66 369.71h2.37v2.38h-2.37zM226.35 372.04h2.37v2.38h-2.37zM263.51 372.04h2.37v2.38h-2.37zM265.83 372.04h2.37v2.38h-2.37zM224.03 374.37h2.37v2.38h-2.37zM231 374.37h2.37v2.38h-2.37zM251.9 374.37h2.37v2.38h-2.37zM284.4 374.37h2.37v2.38h-2.37zM307.62 374.37h2.37v2.38h-2.37zM312.27 374.37h2.37v2.38h-2.37zM319.23 374.37h2.37v2.38h-2.37zM210.1 376.7h2.37v2.38h-2.37zM217.07 376.7h2.37v2.38h-2.37zM249.57 376.7h2.37v2.38h-2.37zM261.18 376.7h2.37v2.38h-2.37zM263.51 376.7h2.37v2.38h-2.37zM265.83 376.7h2.37v2.38h-2.37zM291.37 376.7h2.37v2.38h-2.37zM316.91 376.7h2.37v2.38h-2.37zM261.18 379.04h2.37v2.38h-2.37zM275.12 379.04h2.37v2.38h-2.37zM298.34 379.04h2.37v2.38h-2.37zM307.62 379.04h2.37v2.38h-2.37zM212.42 381.37h2.37v2.38h-2.37zM231 381.37h2.37v2.38h-2.37zM235.64 381.37h2.37v2.38h-2.37zM282.08 381.37h2.37v2.38h-2.37zM296.01 381.37h2.37v2.38h-2.37z"/>
<path fill="#2c68cc" d="M219.39 325.4h2.37v2.38h-2.37zM302.98 330.06h2.37v2.38h-2.37zM286.73 339.39h2.37v2.38h-2.37zM214.74 348.72h2.37v2.38h-2.37zM244.93 358.05h2.37v2.38h-2.37zM286.73 360.38h2.37v2.38h-2.37zM228.68 362.71h2.37v2.38h-2.37zM286.73 372.04h2.37v2.38h-2.37zM212.42 374.37h2.37v2.38h-2.37zM279.76 374.37h2.37v2.38h-2.37zM293.69 381.37h2.37v2.38h-2.37z"/>
<path fill="#20a894" d="M228.68 325.4h2.37v2.38h-2.37zM242.61 327.73h2.37v2.38h-2.37zM284.4 360.38h2.37v2.38h-2.37zM309.95 360.38h2.37v2.38h-2.37zM212.42 369.71h2.37v2.38h-2.37zM228.68 369.71h2.37v2.38h-2.37zM312.27 369.71h2.37v2.38h-2.37z"/>
<path fill="#1c9c98" d="M235.64 325.4h2.37v2.38h-2.37zM256.54 334.73h2.37v2.38h-2.37zM291.37 341.72h2.37v2.38h-2.37zM226.35 344.06h2.37v2.38h-2.37zM282.08 344.06h2.37v2.38h-2.37zM272.79 346.39h2.37v2.38h-2.37zM224.03 355.72h2.37v2.38h-2.37zM240.29 355.72h2.37v2.38h-2.37zM296.01 362.71h2.37v2.38h-2.37zM289.05 365.04h2.37v2.38h-2.37zM233.32 369.71h2.37v2.38h-2.37zM261.18 381.37h2.37v2.38h-2.37z"/>
<path fill="#3cd05c" d="M240.29 325.4h2.37v2.38h-2.37zM305.3 325.4h2.37v2.38h-2.37zM282.08 327.73h2.37v2.38h-2.37zM282.08 330.06h2.37v2.38h-2.37zM307.62 330.06h2.37v2.38h-2.37zM289.05 332.4h2.37v2.38h-2.37zM309.95 339.39h2.37v2.38h-2.37zM321.56 339.39h2.37v2.38h-2.37zM293.69 341.72h2.37v2.38h-2.37zM305.3 341.72h2.37v2.38h-2.37zM321.56 341.72h2.37v2.38h-2.37zM237.96 346.39h2.37v2.38h-2.37zM221.71 348.72h2.37v2.38h-2.37zM256.54 351.05h2.37v2.38h-2.37zM300.66 351.05h2.37v2.38h-2.37zM307.62 351.05h2.37v2.38h-2.37zM296.01 353.38h2.37v2.38h-2.37zM314.59 353.38h2.37v2.38h-2.37zM258.86 355.72h2.37v2.38h-2.37zM282.08 362.71h2.37v2.38h-2.37zM272.79 365.04h2.37v2.38h-2.37zM316.91 365.04h2.37v2.38h-2.37zM275.12 369.71h2.37v2.38h-2.37zM228.68 374.37h2.37v2.38h-2.37zM233.32 379.04h2.37v2.38h-2.37z"/>
<path fill="#30d064" d="M247.25 325.4h2.37v2.38h-2.37zM233.32 327.73h2.37v2.38h-2.37zM272.79 327.73h2.37v2.38h-2.37zM284.4 327.73h2.37v2.38h-2.37zM275.12 330.06h2.37v2.38h-2.37zM249.57 332.4h2.37v2.38h-2.37zM219.39 334.73h2.37v2.38h-2.37zM221.71 334.73h2.37v2.38h-2.37zM291.37 337.06h2.37v2.38h-2.37zM212.42 341.72h2.37v2.38h-2.37zM261.18 344.06h2.37v2.38h-2.37zM228.68 346.39h2.37v2.38h-2.37zM270.47 348.72h2.37v2.38h-2.37zM217.07 351.05h2.37v2.38h-2.37zM233.32 351.05h2.37v2.38h-2.37zM226.35 353.38h2.37v2.38h-2.37zM265.83 353.38h2.37v2.38h-2.37zM279.76 353.38h2.37v2.38h-2.37zM307.62 353.38h2.37v2.38h-2.37zM219.39 355.72h2.37v2.38h-2.37zM221.71 360.38h2.37v2.38h-2.37zM279.76 360.38h2.37v2.38h-2.37zM307.62 360.38h2.37v2.38h-2.37zM226.35 362.71h2.37v2.38h-2.37zM221.71 365.04h2.37v2.38h-2.37zM279.76 369.71h2.37v2.38h-2.37zM242.61 372.04h2.37v2.38h-2.37zM254.22 376.7h2.37v2.38h-2.37zM247.25 381.37h2.37v2.38h-2.37z"/>
<path fill="#54c850" d="M249.57 325.4h2.37v2.38h-2.37zM323.88 325.4h2.37v2.38h-2.37zM221.71 327.73h2.37v2.38h-2.37zM258.86 330.06h2.37v2.38h-2.37zM323.88 334.73h2.37v2.38h-2.37zM323.88 337.06h2.37v2.38h-2.37zM210.1 339.39h2.37v2.38h-2.37zM256.54 339.39h2.37v2.38h-2.37zM289.05 339.39h2.37v2.38h-2.37zM293.69 344.06h2.37v2.38h-2.37zM321.56 344.06h2.37v2.38h-2.37zM291.37 346.39h2.37v2.38h-2.37zM321.56 346.39h2.37v2.38h-2.37zM265.83 348.72h2.37v2.38h-2.37zM261.18 351.05h2.37v2.38h-2.37zM265.83 351.05h2.37v2.38h-2.37zM256.54 353.38h2.37v2.38h-2.37zM226.35 355.72h2.37v2.38h-2.37zM316.91 355.72h2.37v2.38h-2.37zM242.61 360.38h2.37v2.38h-2.37zM231 362.71h2.37v2.38h-2.37zM240.29 362.71h2.37v2.38h-2.37zM293.69 362.71h2.37v2.38h-2.37zM251.9 365.04h2.37v2.38h-2.37zM289.05 374.37h2.37v2.38h-2.37zM212.42 376.7h2.37v2.38h-2.37zM305.3 376.7h2.37v2.38h-2.37zM277.44 379.04h2.37v2.38h-2.37zM249.57 381.37h2.37v2.38h-2.37zM312.27 381.37h2.37v2.38h-2.37zM314.59 381.37h2.37v2.38h-2.37z"/>
<path fill="#30d460" d="M256.54 325.4h2.37v2.38h-2.37zM296.01 325.4h2.37v2.38h-2.37zM275.12 327.73h2.37v2.38h-2.37zM226.35 330.06h2.37v2.38h-2.37zM256.54 330.06h2.37v2.38h-2.37zM212.42 332.4h2.37v2.38h-2.37zM282.08 332.4h2.37v2.38h-2.37zM298.34 332.4h2.37v2.38h-2.37zM210.1 334.73h2.37v2.38h-2.37zM226.35 334.73h2.37v2.38h-2.37zM293.69 334.73h2.37v2.38h-2.37zM305.3 334.73h2.37v2.38h-2.37zM226.35 337.06h2.37v2.38h-2.37zM237.96 337.06h2.37v2.38h-2.37zM244.93 337.06h2.37v2.38h-2.37zM279.76 337.06h2.37v2.38h-2.37zM282.08 337.06h2.37v2.38h-2.37zM286.73 337.06h2.37v2.38h-2.37zM305.3 337.06h2.37v2.38h-2.37zM242.61 339.39h2.37v2.38h-2.37zM244.93 339.39h2.37v2.38h-2.37zM265.83 339.39h2.37v2.38h-2.37zM226.35 341.72h2.37v2.38h-2.37zM272.79 341.72h2.37v2.38h-2.37zM300.66 341.72h2.37v2.38h-2.37zM224.03 344.06h2.37v2.38h-2.37zM263.51 344.06h2.37v2.38h-2.37zM300.66 344.06h2.37v2.38h-2.37zM309.95 344.06h2.37v2.38h-2.37zM210.1 346.39h2.37v2.38h-2.37zM214.74 346.39h2.37v2.38h-2.37zM231 346.39h2.37v2.38h-2.37zM263.51 346.39h2.37v2.38h-2.37zM217.07 348.72h2.37v2.38h-2.37zM240.29 348.72h2.37v2.38h-2.37zM244.93 348.72h2.37v2.38h-2.37zM210.1 353.38h2.37v2.38h-2.37zM228.68 353.38h2.37v2.38h-2.37zM240.29 353.38h2.37v2.38h-2.37zM251.9 353.38h2.37v2.38h-2.37zM282.08 353.38h2.37v2.38h-2.37zM289.05 353.38h2.37v2.38h-2.37zM302.98 353.38h2.37v2.38h-2.37zM321.56 353.38h2.37v2.38h-2.37zM221.71 355.72h2.37v2.38h-2.37zM261.18 355.72h2.37v2.38h-2.37zM265.83 355.72h2.37v2.38h-2.37zM300.66 355.72h2.37v2.38h-2.37zM233.32 358.05h2.37v2.38h-2.37zM242.61 358.05h2.37v2.38h-2.37zM219.39 362.71h2.37v2.38h-2.37zM242.61 362.71h2.37v2.38h-2.37zM244.93 362.71h2.37v2.38h-2.37zM291.37 362.71h2.37v2.38h-2.37zM319.23 362.71h2.37v2.38h-2.37zM293.69 365.04h2.37v2.38h-2.37zM217.07 367.38h2.37v2.38h-2.37zM226.35 367.38h2.37v2.38h-2.37zM235.64 367.38h2.37v2.38h-2.37zM268.15 367.38h2.37v2.38h-2.37zM272.79 367.38h2.37v2.38h-2.37zM221.71 369.71h2.37v2.38h-2.37zM323.88 369.71h2.37v2.38h-2.37zM214.74 372.04h2.37v2.38h-2.37zM244.93 372.04h2.37v2.38h-2.37zM282.08 372.04h2.37v2.38h-2.37zM298.34 372.04h2.37v2.38h-2.37zM314.59 372.04h2.37v2.38h-2.37zM321.56 372.04h2.37v2.38h-2.37zM210.1 374.37h2.37v2.38h-2.37zM214.74 374.37h2.37v2.38h-2.37zM240.29 374.37h2.37v2.38h-2.37zM270.47 374.37h2.37v2.38h-2.37zM286.73 374.37h2.37v2.38h-2.37zM316.91 374.37h2.37v2.38h-2.37zM221.71 376.7h2.37v2.38h-2.37zM270.47 379.04h2.37v2.38h-2.37zM319.23 379.04h2.37v2.38h-2.37zM263.51 381.37h2.37v2.38h-2.37zM279.76 381.37h2.37v2.38h-2.37zM302.98 381.37h2.37v2.38h-2.37zM307.62 381.37h2.37v2.38h-2.37z"/>
<path fill="#20bc7c" d="M263.51 325.4h2.37v2.38h-2.37zM247.25 327.73h2.37v2.38h-2.37zM300.66 327.73h2.37v2.38h-2.37zM231 330.06h2.37v2.38h-2.37zM286.73 330.06h2.37v2.38h-2.37zM312.27 339.39h2.37v2.38h-2.37zM263.51 341.72h2.37v2.38h-2.37zM221.71 344.06h2.37v2.38h-2.37zM254.22 344.06h2.37v2.38h-2.37zM312.27 344.06h2.37v2.38h-2.37zM244.93 346.39h2.37v2.38h-2.37zM231 351.05h2.37v2.38h-2.37zM251.9 355.72h2.37v2.38h-2.37zM275.12 355.72h2.37v2.38h-2.37zM293.69 358.05h2.37v2.38h-2.37zM323.88 358.05h2.37v2.38h-2.37zM312.27 365.04h2.37v2.38h-2.37zM244.93 367.38h2.37v2.38h-2.37zM307.62 367.38h2.37v2.38h-2.37zM314.59 369.71h2.37v2.38h-2.37zM219.39 372.04h2.37v2.38h-2.37zM224.03 376.7h2.37v2.38h-2.37z"/>
<path fill="#5cd448" d="M265.83 325.4h2.37v2.38h-2.37zM316.91 330.06h2.37v2.38h-2.37zM240.29 337.06h2.37v2.38h-2.37zM221.71 341.72h2.37v2.38h-2.37zM212.42 344.06h2.37v2.38h-2.37zM237.96 344.06h2.37v2.38h-2.37zM244.93 344.06h2.37v2.38h-2.37zM307.62 344.06h2.37v2.38h-2.37zM298.34 346.39h2.37v2.38h-2.37zM296.01 348.72h2.37v2.38h-2.37zM300.66 348.72h2.37v2.38h-2.37zM302.98 348.72h2.37v2.38h-2.37zM305.3 353.38h2.37v2.38h-2.37zM291.37 355.72h2.37v2.38h-2.37zM302.98 358.05h2.37v2.38h-2.37zM258.86 360.38h2.37v2.38h-2.37zM275.12 360.38h2.37v2.38h-2.37zM237.96 362.71h2.37v2.38h-2.37zM284.4 362.71h2.37v2.38h-2.37zM286.73 365.04h2.37v2.38h-2.37zM296.01 365.04h2.37v2.38h-2.37zM307.62 365.04h2.37v2.38h-2.37zM210.1 369.71h2.37v2.38h-2.37zM212.42 379.04h2.37v2.38h-2.37zM282.08 379.04h2.37v2.38h-2.37zM286.73 379.04h2.37v2.38h-2.37zM319.23 381.37h2.37v2.38h-2.37z"/>
<path fill="#24c078" d="M268.15 325.4h2.37v2.38h-2.37zM270.47 327.73h2.37v2.38h-2.37zM307.62 327.73h2.37v2.38h-2.37zM221.71 332.4h2.37v2.38h-2.37zM228.68 332.4h2.37v2.38h-2.37zM319.23 334.73h2.37v2.38h-2.37zM214.74 337.06h2.37v2.38h-2.37zM224.03 339.39h2.37v2.38h-2.37zM251.9 339.39h2.37v2.38h-2.37zM275.12 339.39h2.37v2.38h-2.37zM323.88 339.39h2.37v2.38h-2.37zM296.01 344.06h2.37v2.38h-2.37zM247.25 346.39h2.37v2.38h-2.37zM249.57 346.39h2.37v2.38h-2.37zM254.22 346.39h2.37v2.38h-2.37zM210.1 348.72h2.37v2.38h-2.37zM293.69 351.05h2.37v2.38h-2.37zM298.34 351.05h2.37v2.38h-2.37zM319.23 351.05h2.37v2.38h-2.37zM282.08 358.05h2.37v2.38h-2.37zM214.74 360.38h2.37v2.38h-2.37zM240.29 360.38h2.37v2.38h-2.37zM270.47 360.38h2.37v2.38h-2.37zM314.59 360.38h2.37v2.38h-2.37zM302.98 362.71h2.37v2.38h-2.37zM214.74 367.38h2.37v2.38h-2.37zM228.68 367.38h2.37v2.38h-2.37zM316.91 367.38h2.37v2.38h-2.37zM323.88 367.38h2.37v2.38h-2.37zM279.76 372.04h2.37v2.38h-2.37zM249.57 374.37h2.37v2.38h-2.37zM214.74 376.7h2.37v2.38h-2.37zM251.9 376.7h2.37v2.38h-2.37zM282.08 376.7h2.37v2.38h-2.37zM249.57 379.04h2.37v2.38h-2.37zM242.61 381.37h2.37v2.38h-2.37z"/>
<path fill="#44d454" d="M270.47 325.4h2.37v2.38h-2.37zM258.86 327.73h2.37v2.38h-2.37zM282.08 341.72h2.37v2.38h-2.37zM272.79 344.06h2.37v2.38h-2.37zM240.29 358.05h2.37v2.38h-2.37zM289.05 360.38h2.37v2.38h-2.37zM268.15 369.71h2.37v2.38h-2.37z"/>
<path fill="#54cc50" d="M272.79 325.4h2.37v2.38h-2.37zM219.39 327.73h2.37v2.38h-2.37zM221.71 330.06h2.37v2.38h-2.37zM272.79 330.06h2.37v2.38h-2.37zM289.05 330.06h2.37v2.38h-2.37zM321.56 330.06h2.37v2.38h-2.37zM270.47 334.73h2.37v2.38h-2.37zM261.18 337.06h2.37v2.38h-2.37zM275.12 337.06h2.37v2.38h-2.37zM300.66 337.06h2.37v2.38h-2.37zM249.57 339.39h2.37v2.38h-2.37zM284.4 339.39h2.37v2.38h-2.37zM296.01 339.39h2.37v2.38h-2.37zM305.3 339.39h2.37v2.38h-2.37zM235.64 341.72h2.37v2.38h-2.37zM286.73 341.72h2.37v2.38h-2.37zM289.05 341.72h2.37v2.38h-2.37zM286.73 344.06h2.37v2.38h-2.37zM265.83 346.39h2.37v2.38h-2.37zM286.73 346.39h2.37v2.38h-2.37zM298.34 348.72h2.37v2.38h-2.37zM258.86 351.05h2.37v2.38h-2.37zM235.64 355.72h2.37v2.38h-2.37zM282.08 355.72h2.37v2.38h-2.37zM231 360.38h2.37v2.38h-2.37zM244.93 360.38h2.37v2.38h-2.37zM265.83 360.38h2.37v2.38h-2.37zM277.44 360.38h2.37v2.38h-2.37zM298.34 360.38h2.37v2.38h-2.37zM316.91 360.38h2.37v2.38h-2.37zM321.56 360.38h2.37v2.38h-2.37zM268.15 362.71h2.37v2.38h-2.37zM279.76 362.71h2.37v2.38h-2.37zM298.34 362.71h2.37v2.38h-2.37zM305.3 362.71h2.37v2.38h-2.37zM247.25 365.04h2.37v2.38h-2.37zM284.4 365.04h2.37v2.38h-2.37zM305.3 365.04h2.37v2.38h-2.37zM279.76 367.38h2.37v2.38h-2.37zM300.66 367.38h2.37v2.38h-2.37zM312.27 367.38h2.37v2.38h-2.37zM319.23 367.38h2.37v2.38h-2.37zM309.95 369.71h2.37v2.38h-2.37zM321.56 369.71h2.37v2.38h-2.37zM258.86 372.04h2.37v2.38h-2.37zM291.37 372.04h2.37v2.38h-2.37zM233.32 374.37h2.37v2.38h-2.37zM265.83 374.37h2.37v2.38h-2.37zM268.15 374.37h2.37v2.38h-2.37zM275.12 376.7h2.37v2.38h-2.37zM244.93 379.04h2.37v2.38h-2.37zM265.83 379.04h2.37v2.38h-2.37zM284.4 379.04h2.37v2.38h-2.37zM312.27 379.04h2.37v2.38h-2.37zM289.05 381.37h2.37v2.38h-2.37z"/>
<path fill="#28c86c" d="M275.12 325.4h2.37v2.38h-2.37zM247.25 337.06h2.37v2.38h-2.37zM268.15 344.06h2.37v2.38h-2.37zM309.95 346.39h2.37v2.38h-2.37zM235.64 372.04h2.37v2.38h-2.37zM268.15 376.7h2.37v2.38h-2.37z"/>
<path fill="#2ccc64" d="M277.44 325.4h2.37v2.38h-2.37zM289.05 325.4h2.37v2.38h-2.37zM254.22 330.06h2.37v2.38h-2.37zM270.47 330.06h2.37v2.38h-2.37zM233.32 337.06h2.37v2.38h-2.37zM270.47 344.06h2.37v2.38h-2.37zM305.3 344.06h2.37v2.38h-2.37zM217.07 346.39h2.37v2.38h-2.37zM242.61 346.39h2.37v2.38h-2.37zM258.86 348.72h2.37v2.38h-2.37zM312.27 348.72h2.37v2.38h-2.37zM282.08 360.38h2.37v2.38h-2.37zM235.64 369.71h2.37v2.38h-2.37zM296.01 372.04h2.37v2.38h-2.37zM226.35 374.37h2.37v2.38h-2.37zM254.22 374.37h2.37v2.38h-2.37zM307.62 376.7h2.37v2.38h-2.37zM251.9 379.04h2.37v2.38h-2.37z"/>
<path fill="#24c474" d="M279.76 325.4h2.37v2.38h-2.37zM254.22 362.71h2.37v2.38h-2.37zM256.54 367.38h2.37v2.38h-2.37zM284.4 369.71h2.37v2.38h-2.37zM277.44 372.04h2.37v2.38h-2.37zM237.96 374.37h2.37v2.38h-2.37zM228.68 379.04h2.37v2.38h-2.37zM237.96 379.04h2.37v2.38h-2.37z"/>
<path fill="#40d058" d="M282.08 325.4h2.37v2.38h-2.37zM286.73 325.4h2.37v2.38h-2.37zM302.98 325.4h2.37v2.38h-2.37zM314.59 325.4h2.37v2.38h-2.37zM217.07 327.73h2.37v2.38h-2.37zM265.83 327.73h2.37v2.38h-2.37zM309.95 327.73h2.37v2.38h-2.37zM316.91 327.73h2.37v2.38h-2.37zM279.76 330.06h2.37v2.38h-2.37zM293.69 330.06h2.37v2.38h-2.37zM296.01 330.06h2.37v2.38h-2.37zM323.88 330.06h2.37v2.38h-2.37zM305.3 332.4h2.37v2.38h-2.37zM279.76 334.73h2.37v2.38h-2.37zM251.9 337.06h2.37v2.38h-2.37zM268.15 337.06h2.37v2.38h-2.37zM293.69 339.39h2.37v2.38h-2.37zM314.59 339.39h2.37v2.38h-2.37zM254.22 341.72h2.37v2.38h-2.37zM258.86 341.72h2.37v2.38h-2.37zM312.27 341.72h2.37v2.38h-2.37zM219.39 344.06h2.37v2.38h-2.37zM242.61 344.06h2.37v2.38h-2.37zM247.25 344.06h2.37v2.38h-2.37zM291.37 344.06h2.37v2.38h-2.37zM277.44 348.72h2.37v2.38h-2.37zM323.88 348.72h2.37v2.38h-2.37zM221.71 351.05h2.37v2.38h-2.37zM228.68 351.05h2.37v2.38h-2.37zM254.22 351.05h2.37v2.38h-2.37zM233.32 353.38h2.37v2.38h-2.37zM277.44 353.38h2.37v2.38h-2.37zM309.95 353.38h2.37v2.38h-2.37zM214.74 355.72h2.37v2.38h-2.37zM228.68 355.72h2.37v2.38h-2.37zM263.51 355.72h2.37v2.38h-2.37zM268.15 355.72h2.37v2.38h-2.37zM302.98 355.72h2.37v2.38h-2.37zM228.68 358.05h2.37v2.38h-2.37zM219.39 360.38h2.37v2.38h-2.37zM247.25 360.38h2.37v2.38h-2.37zM300.66 360.38h2.37v2.38h-2.37zM247.25 362.71h2.37v2.38h-2.37zM277.44 362.71h2.37v2.38h-2.37zM300.66 362.71h2.37v2.38h-2.37zM224.03 365.04h2.37v2.38h-2.37zM261.18 365.04h2.37v2.38h-2.37zM263.51 365.04h2.37v2.38h-2.37zM270.47 365.04h2.37v2.38h-2.37zM300.66 365.04h2.37v2.38h-2.37zM240.29 367.38h2.37v2.38h-2.37zM293.69 367.38h2.37v2.38h-2.37zM305.3 367.38h2.37v2.38h-2.37zM254.22 369.71h2.37v2.38h-2.37zM270.47 369.71h2.37v2.38h-2.37zM282.08 369.71h2.37v2.38h-2.37zM296.01 369.71h2.37v2.38h-2.37zM210.1 372.04h2.37v2.38h-2.37zM231 372.04h2.37v2.38h-2.37zM240.29 372.04h2.37v2.38h-2.37zM268.15 372.04h2.37v2.38h-2.37zM217.07 374.37h2.37v2.38h-2.37zM293.69 374.37h2.37v2.38h-2.37zM256.54 376.7h2.37v2.38h-2.37zM219.39 379.04h2.37v2.38h-2.37zM256.54 379.04h2.37v2.38h-2.37zM221.71 381.37h2.37v2.38h-2.37zM233.32 381.37h2.37v2.38h-2.37z"/>
<path fill="#28c474" d="M284.4 325.4h2.37v2.38h-2.37zM233.32 332.4h2.37v2.38h-2.37zM251.9 332.4h2.37v2.38h-2.37zM312.27 334.73h2.37v2.38h-2.37zM319.23 339.39h2.37v2.38h-2.37zM284.4 341.72h2.37v2.38h-2.37zM275.12 351.05h2.37v2.38h-2.37zM300.66 358.05h2.37v2.38h-2.37zM314.59 358.05h2.37v2.38h-2.37zM261.18 360.38h2.37v2.38h-2.37zM212.42 367.38h2.37v2.38h-2.37zM217.07 369.71h2.37v2.38h-2.37zM228.68 372.04h2.37v2.38h-2.37zM314.59 376.7h2.37v2.38h-2.37zM309.95 379.04h2.37v2.38h-2.37z"/>
<path fill="#20a494" d="M291.37 325.4h2.37v2.38h-2.37zM235.64 327.73h2.37v2.38h-2.37zM251.9 327.73h2.37v2.38h-2.37zM263.51 327.73h2.37v2.38h-2.37zM293.69 327.73h2.37v2.38h-2.37zM214.74 330.06h2.37v2.38h-2.37zM224.03 330.06h2.37v2.38h-2.37zM235.64 330.06h2.37v2.38h-2.37zM242.61 334.73h2.37v2.38h-2.37zM286.73 334.73h2.37v2.38h-2.37zM289.05 334.73h2.37v2.38h-2.37zM296.01 337.06h2.37v2.38h-2.37zM231 339.39h2.37v2.38h-2.37zM240.29 339.39h2.37v2.38h-2.37zM300.66 339.39h2.37v2.38h-2.37zM210.1 344.06h2.37v2.38h-2.37zM314.59 344.06h2.37v2.38h-2.37zM314.59 346.39h2.37v2.38h-2.37zM312.27 351.05h2.37v2.38h-2.37zM237.96 353.38h2.37v2.38h-2.37zM268.15 353.38h2.37v2.38h-2.37zM293.69 353.38h2.37v2.38h-2.37zM256.54 355.72h2.37v2.38h-2.37zM284.4 355.72h2.37v2.38h-2.37zM265.83 358.05h2.37v2.38h-2.37zM233.32 360.38h2.37v2.38h-2.37zM237.96 360.38h2.37v2.38h-2.37zM212.42 362.71h2.37v2.38h-2.37zM224.03 362.71h2.37v2.38h-2.37zM214.74 365.04h2.37v2.38h-2.37zM298.34 367.38h2.37v2.38h-2.37zM307.62 369.71h2.37v2.38h-2.37zM247.25 372.04h2.37v2.38h-2.37zM242.61 374.37h2.37v2.38h-2.37zM279.76 376.7h2.37v2.38h-2.37zM296.01 376.7h2.37v2.38h-2.37zM321.56 376.7h2.37v2.38h-2.37zM258.86 379.04h2.37v2.38h-2.37zM293.69 379.04h2.37v2.38h-2.37zM314.59 379.04h2.37v2.38h-2.37z"/>
<path fill="#1ca098" d="M298.34 325.4h2.37v2.38h-2.37zM217.07 332.4h2.37v2.38h-2.37zM226.35 332.4h2.37v2.38h-2.37zM314.59 332.4h2.37v2.38h-2.37zM319.23 332.4h2.37v2.38h-2.37zM323.88 332.4h2.37v2.38h-2.37zM293.69 337.06h2.37v2.38h-2.37zM240.29 341.72h2.37v2.38h-2.37zM279.76 341.72h2.37v2.38h-2.37zM296.01 341.72h2.37v2.38h-2.37zM302.98 341.72h2.37v2.38h-2.37zM256.54 344.06h2.37v2.38h-2.37zM212.42 346.39h2.37v2.38h-2.37zM224.03 346.39h2.37v2.38h-2.37zM293.69 346.39h2.37v2.38h-2.37zM224.03 348.72h2.37v2.38h-2.37zM219.39 351.05h2.37v2.38h-2.37zM226.35 351.05h2.37v2.38h-2.37zM272.79 351.05h2.37v2.38h-2.37zM258.86 353.38h2.37v2.38h-2.37zM263.51 353.38h2.37v2.38h-2.37zM210.1 355.72h2.37v2.38h-2.37zM249.57 355.72h2.37v2.38h-2.37zM279.76 355.72h2.37v2.38h-2.37zM214.74 358.05h2.37v2.38h-2.37zM235.64 358.05h2.37v2.38h-2.37zM249.57 358.05h2.37v2.38h-2.37zM256.54 358.05h2.37v2.38h-2.37zM291.37 358.05h2.37v2.38h-2.37zM291.37 360.38h2.37v2.38h-2.37zM265.83 365.04h2.37v2.38h-2.37zM284.4 367.38h2.37v2.38h-2.37zM291.37 367.38h2.37v2.38h-2.37zM277.44 369.71h2.37v2.38h-2.37zM307.62 372.04h2.37v2.38h-2.37zM312.27 372.04h2.37v2.38h-2.37zM261.18 374.37h2.37v2.38h-2.37zM277.44 374.37h2.37v2.38h-2.37zM242.61 376.7h2.37v2.38h-2.37z"/>
<path fill="#2c6ccc" d="M307.62 325.4h2.37v2.38h-2.37zM323.88 327.73h2.37v2.38h-2.37zM247.25 334.73h2.37v2.38h-2.37zM319.23 337.06h2.37v2.38h-2.37zM228.68 341.72h2.37v2.38h-2.37zM270.47 351.05h2.37v2.38h-2.37zM314.59 351.05h2.37v2.38h-2.37zM321.56 358.05h2.37v2.38h-2.37zM316.91 369.71h2.37v2.38h-2.37zM263.51 374.37h2.37v2.38h-2.37zM296.01 374.37h2.37v2.38h-2.37zM247.25 376.7h2.37v2.38h-2.37z"/>
<path fill="#2868cc" d="M309.95 325.4h2.37v2.38h-2.37zM305.3 327.73h2.37v2.38h-2.37zM296.01 332.4h2.37v2.38h-2.37zM212.42 360.38h2.37v2.38h-2.37zM249.57 367.38h2.37v2.38h-2.37zM275.12 367.38h2.37v2.38h-2.37zM272.79 381.37h2.37v2.38h-2.37z"/>
<path fill="#30d464" d="M312.27 325.4h2.37v2.38h-2.37zM233.32 330.06h2.37v2.38h-2.37zM240.29 332.4h2.37v2.38h-2.37zM312.27 332.4h2.37v2.38h-2.37zM235.64 334.73h2.37v2.38h-2.37zM282.08 334.73h2.37v2.38h-2.37zM279.76 339.39h2.37v2.38h-2.37zM251.9 344.06h2.37v2.38h-2.37zM235.64 346.39h2.37v2.38h-2.37zM277.44 346.39h2.37v2.38h-2.37zM226.35 348.72h2.37v2.38h-2.37zM249.57 353.38h2.37v2.38h-2.37zM254.22 358.05h2.37v2.38h-2.37zM272.79 358.05h2.37v2.38h-2.37zM279.76 358.05h2.37v2.38h-2.37zM316.91 358.05h2.37v2.38h-2.37zM321.56 362.71h2.37v2.38h-2.37zM258.86 369.71h2.37v2.38h-2.37zM289.05 372.04h2.37v2.38h-2.37zM272.79 374.37h2.37v2.38h-2.37zM244.93 376.7h2.37v2.38h-2.37zM219.39 381.37h2.37v2.38h-2.37z"/>
<path fill="#2084b4" d="M321.56 325.4h2.37v2.38h-2.37zM235.64 332.4h2.37v2.38h-2.37zM293.69 332.4h2.37v2.38h-2.37zM305.3 346.39h2.37v2.38h-2.37zM268.15 348.72h2.37v2.38h-2.37zM272.79 348.72h2.37v2.38h-2.37zM284.4 351.05h2.37v2.38h-2.37zM309.95 355.72h2.37v2.38h-2.37zM256.54 360.38h2.37v2.38h-2.37zM323.88 362.71h2.37v2.38h-2.37zM212.42 365.04h2.37v2.38h-2.37zM279.76 365.04h2.37v2.38h-2.37zM237.96 369.71h2.37v2.38h-2.37zM258.86 374.37h2.37v2.38h-2.37zM251.9 381.37h2.37v2.38h-2.37z"/>
<path fill="#28cc68" d="M210.1 327.73h2.37v2.38h-2.37zM254.22 327.73h2.37v2.38h-2.37zM217.07 330.06h2.37v2.38h-2.37zM265.83 330.06h2.37v2.38h-2.37zM284.4 330.06h2.37v2.38h-2.37zM219.39 332.4h2.37v2.38h-2.37zM244.93 332.4h2.37v2.38h-2.37zM254.22 334.73h2.37v2.38h-2.37zM263.51 334.73h2.37v2.38h-2.37zM249.57 337.06h2.37v2.38h-2.37zM235.64 339.39h2.37v2.38h-2.37zM270.47 339.39h2.37v2.38h-2.37zM298.34 339.39h2.37v2.38h-2.37zM265.83 344.06h2.37v2.38h-2.37zM251.9 348.72h2.37v2.38h-2.37zM254.22 348.72h2.37v2.38h-2.37zM289.05 348.72h2.37v2.38h-2.37zM219.39 353.38h2.37v2.38h-2.37zM270.47 353.38h2.37v2.38h-2.37zM312.27 353.38h2.37v2.38h-2.37zM217.07 355.72h2.37v2.38h-2.37zM289.05 355.72h2.37v2.38h-2.37zM221.71 358.05h2.37v2.38h-2.37zM224.03 360.38h2.37v2.38h-2.37zM293.69 360.38h2.37v2.38h-2.37zM275.12 362.71h2.37v2.38h-2.37zM312.27 362.71h2.37v2.38h-2.37zM226.35 365.04h2.37v2.38h-2.37zM302.98 365.04h2.37v2.38h-2.37zM309.95 365.04h2.37v2.38h-2.37zM254.22 367.38h2.37v2.38h-2.37zM261.18 367.38h2.37v2.38h-2.37zM251.9 369.71h2.37v2.38h-2.37zM309.95 372.04h2.37v2.38h-2.37zM226.35 376.7h2.37v2.38h-2.37zM240.29 376.7h2.37v2.38h-2.37zM312.27 376.7h2.37v2.38h-2.37zM217.07 379.04h2.37v2.38h-2.37zM221.71 379.04h2.37v2.38h-2.37zM254.22 379.04h2.37v2.38h-2.37zM289.05 379.04h2.37v2.38h-2.37zM244.93 381.37h2.37v2.38h-2.37zM258.86 381.37h2.37v2.38h-2.37z"/>
<path fill="#34d860" d="M224.03 327.73h2.37v2.38h-2.37zM261.18 330.06h2.37v2.38h-2.37zM268.15 332.4h2.37v2.38h-2.37zM321.56 332.4h2.37v2.38h-2.37zM277.44 339.39h2.37v2.38h-2.37zM242.61 353.38h2.37v2.38h-2.37zM291.37 365.04h2.37v2.38h-2.37zM265.83 369.71h2.37v2.38h-2.37zM210.1 379.04h2.37v2.38h-2.37zM268.15 379.04h2.37v2.38h-2.37z"/>
<path fill="#50c854" d="M228.68 327.73h2.37v2.38h-2.37zM265.83 332.4h2.37v2.38h-2.37zM307.62 332.4h2.37v2.38h-2.37zM224.03 341.72h2.37v2.38h-2.37zM323.88 341.72h2.37v2.38h-2.37zM284.4 344.06h2.37v2.38h-2.37zM289.05 344.06h2.37v2.38h-2.37zM261.18 346.39h2.37v2.38h-2.37zM214.74 369.71h2.37v2.38h-2.37zM219.39 369.71h2.37v2.38h-2.37z"/>
<path fill="#2ccc68" d="M231 327.73h2.37v2.38h-2.37zM270.47 332.4h2.37v2.38h-2.37zM316.91 332.4h2.37v2.38h-2.37zM249.57 334.73h2.37v2.38h-2.37zM321.56 334.73h2.37v2.38h-2.37zM228.68 339.39h2.37v2.38h-2.37zM268.15 341.72h2.37v2.38h-2.37zM249.57 344.06h2.37v2.38h-2.37zM219.39 346.39h2.37v2.38h-2.37zM261.18 348.72h2.37v2.38h-2.37zM263.51 348.72h2.37v2.38h-2.37zM275.12 348.72h2.37v2.38h-2.37zM321.56 348.72h2.37v2.38h-2.37zM214.74 351.05h2.37v2.38h-2.37zM235.64 351.05h2.37v2.38h-2.37zM305.3 351.05h2.37v2.38h-2.37zM221.71 353.38h2.37v2.38h-2.37zM224.03 353.38h2.37v2.38h-2.37zM242.61 355.72h2.37v2.38h-2.37zM312.27 355.72h2.37v2.38h-2.37zM263.51 358.05h2.37v2.38h-2.37zM305.3 358.05h2.37v2.38h-2.37zM268.15 360.38h2.37v2.38h-2.37zM251.9 362.71h2.37v2.38h-2.37zM263.51 362.71h2.37v2.38h-2.37zM272.79 362.71h2.37v2.38h-2.37zM235.64 365.04h2.37v2.38h-2.37zM240.29 365.04h2.37v2.38h-2.37zM263.51 367.38h2.37v2.38h-2.37zM270.47 367.38h2.37v2.38h-2.37zM249.57 369.71h2.37v2.38h-2.37zM286.73 369.71h2.37v2.38h-2.37zM293.69 372.04h2.37v2.38h-2.37zM228.68 381.37h2.37v2.38h-2.37zM300.66 381.37h2.37v2.38h-2.37zM316.91 381.37h2.37v2.38h-2.37z"/>
<path fill="#1cb87c" d="M244.93 327.73h2.37v2.38h-2.37zM291.37 339.39h2.37v2.38h-2.37zM249.57 341.72h2.37v2.38h-2.37zM316.91 341.72h2.37v2.38h-2.37zM233.32 348.72h2.37v2.38h-2.37z"/>
<path fill="#28c868" d="M256.54 327.73h2.37v2.38h-2.37zM219.39 330.06h2.37v2.38h-2.37zM233.32 339.39h2.37v2.38h-2.37zM316.91 339.39h2.37v2.38h-2.37zM231 341.72h2.37v2.38h-2.37zM258.86 344.06h2.37v2.38h-2.37zM286.73 353.38h2.37v2.38h-2.37zM233.32 355.72h2.37v2.38h-2.37zM298.34 355.72h2.37v2.38h-2.37zM268.15 358.05h2.37v2.38h-2.37zM307.62 358.05h2.37v2.38h-2.37zM231 365.04h2.37v2.38h-2.37zM309.95 367.38h2.37v2.38h-2.37zM291.37 369.71h2.37v2.38h-2.37zM244.93 374.37h2.37v2.38h-2.37zM302.98 374.37h2.37v2.38h-2.37zM233.32 376.7h2.37v2.38h-2.37zM272.79 379.04h2.37v2.38h-2.37zM226.35 381.37h2.37v2.38h-2.37z"/>
<path fill="#24a890" d="M268.15 327.73h2.37v2.38h-2.37zM242.61 330.06h2.37v2.38h-2.37zM244.93 330.06h2.37v2.38h-2.37zM312.27 330.06h2.37v2.38h-2.37zM316.91 334.73h2.37v2.38h-2.37zM210.1 341.72h2.37v2.38h-2.37zM275.12 341.72h2.37v2.38h-2.37zM235.64 353.38h2.37v2.38h-2.37zM316.91 353.38h2.37v2.38h-2.37zM275.12 365.04h2.37v2.38h-2.37zM256.54 374.37h2.37v2.38h-2.37zM275.12 374.37h2.37v2.38h-2.37zM305.3 379.04h2.37v2.38h-2.37zM286.73 381.37h2.37v2.38h-2.37z"/>
<path fill="#44d854" d="M289.05 327.73h2.37v2.38h-2.37zM319.23 330.06h2.37v2.38h-2.37zM300.66 334.73h2.37v2.38h-2.37zM263.51 351.05h2.37v2.38h-2.37zM233.32 365.04h2.37v2.38h-2.37zM316.91 372.04h2.37v2.38h-2.37z"/>
<path fill="#1c80b8" d="M291.37 327.73h2.37v2.38h-2.37zM254.22 337.06h2.37v2.38h-2.37zM226.35 346.39h2.37v2.38h-2.37zM300.66 346.39h2.37v2.38h-2.37zM307.62 346.39h2.37v2.38h-2.37zM219.39 348.72h2.37v2.38h-2.37zM247.25 351.05h2.37v2.38h-2.37zM284.4 353.38h2.37v2.38h-2.37zM219.39 358.05h2.37v2.38h-2.37zM289.05 369.71h2.37v2.38h-2.37zM217.07 372.04h2.37v2.38h-2.37zM235.64 374.37h2.37v2.38h-2.37zM231 376.7h2.37v2.38h-2.37zM293.69 376.7h2.37v2.38h-2.37zM316.91 379.04h2.37v2.38h-2.37z"/>
<path fill="#34d85c" d="M302.98 327.73h2.37v2.38h-2.37zM210.1 330.06h2.37v2.38h-2.37zM221.71 346.39h2.37v2.38h-2.37zM279.76 346.39h2.37v2.38h-2.37zM316.91 351.05h2.37v2.38h-2.37zM268.15 365.04h2.37v2.38h-2.37zM300.66 374.37h2.37v2.38h-2.37zM240.29 379.04h2.37v2.38h-2.37z"/>
<path fill="#5cd848" d="M312.27 327.73h2.37v2.38h-2.37zM298.34 341.72h2.37v2.38h-2.37z"/>
<path fill="#24c478" d="M321.56 327.73h2.37v2.38h-2.37zM270.47 362.71h2.37v2.38h-2.37zM242.61 365.04h2.37v2.38h-2.37zM242.61 369.71h2.37v2.38h-2.37zM282.08 374.37h2.37v2.38h-2.37zM298.34 376.7h2.37v2.38h-2.37z"/>
<path fill="#2864d0" d="M212.42 330.06h2.37v2.38h-2.37zM251.9 341.72h2.37v2.38h-2.37zM231 348.72h2.37v2.38h-2.37zM323.88 353.38h2.37v2.38h-2.37zM323.88 355.72h2.37v2.38h-2.37zM212.42 358.05h2.37v2.38h-2.37zM210.1 362.71h2.37v2.38h-2.37zM254.22 365.04h2.37v2.38h-2.37zM210.1 381.37h2.37v2.38h-2.37z"/>
<path fill="#28c874" d="M237.96 330.06h2.37v2.38h-2.37zM277.44 332.4h2.37v2.38h-2.37zM261.18 339.39h2.37v2.38h-2.37zM210.1 351.05h2.37v2.38h-2.37zM258.86 376.7h2.37v2.38h-2.37z"/>
<path fill="#248cb0" d="M240.29 330.06h2.37v2.38h-2.37zM289.05 358.05h2.37v2.38h-2.37z"/>
<path fill="#1c84b8" d="M249.57 330.06h2.37v2.38h-2.37zM256.54 332.4h2.37v2.38h-2.37zM284.4 332.4h2.37v2.38h-2.37zM291.37 332.4h2.37v2.38h-2.37zM309.95 332.4h2.37v2.38h-2.37zM228.68 337.06h2.37v2.38h-2.37zM302.98 346.39h2.37v2.38h-2.37zM249.57 348.72h2.37v2.38h-2.37zM251.9 351.05h2.37v2.38h-2.37zM302.98 351.05h2.37v2.38h-2.37zM231 353.38h2.37v2.38h-2.37zM293.69 355.72h2.37v2.38h-2.37zM258.86 362.71h2.37v2.38h-2.37zM323.88 374.37h2.37v2.38h-2.37zM228.68 376.7h2.37v2.38h-2.37zM214.74 379.04h2.37v2.38h-2.37z"/>
<path fill="#2868d0" d="M263.51 330.06h2.37v2.38h-2.37zM217.07 339.39h2.37v2.38h-2.37zM321.56 379.04h2.37v2.38h-2.37z"/>
<path fill="#4cc058" d="M277.44 330.06h2.37v2.38h-2.37zM284.4 381.37h2.37v2.38h-2.37z"/>
<path fill="#2460d4" d="M305.3 330.06h2.37v2.38h-2.37zM212.42 353.38h2.37v2.38h-2.37z"/>
<path fill="#2088b4" d="M214.74 332.4h2.37v2.38h-2.37zM277.44 334.73h2.37v2.38h-2.37zM228.68 344.06h2.37v2.38h-2.37zM235.64 344.06h2.37v2.38h-2.37zM256.54 348.72h2.37v2.38h-2.37zM286.73 351.05h2.37v2.38h-2.37zM296.01 351.05h2.37v2.38h-2.37zM323.88 351.05h2.37v2.38h-2.37zM247.25 353.38h2.37v2.38h-2.37zM247.25 355.72h2.37v2.38h-2.37zM217.07 358.05h2.37v2.38h-2.37zM226.35 358.05h2.37v2.38h-2.37zM258.86 358.05h2.37v2.38h-2.37zM296.01 358.05h2.37v2.38h-2.37zM316.91 362.71h2.37v2.38h-2.37zM237.96 372.04h2.37v2.38h-2.37zM251.9 372.04h2.37v2.38h-2.37zM305.3 372.04h2.37v2.38h-2.37zM291.37 374.37h2.37v2.38h-2.37zM219.39 376.7h2.37v2.38h-2.37zM319.23 376.7h2.37v2.38h-2.37zM217.07 381.37h2.37v2.38h-2.37zM268.15 381.37h2.37v2.38h-2.37z"/>
<path fill="#50c454" d="M231 332.4h2.37v2.38h-2.37zM282.08 351.05h2.37v2.38h-2.37zM319.23 358.05h2.37v2.38h-2.37zM217.07 362.71h2.37v2.38h-2.37zM314.59 362.71h2.37v2.38h-2.37zM302.98 369.71h2.37v2.38h-2.37zM277.44 376.7h2.37v2.38h-2.37z"/>
<path fill="#40d458" d="M242.61 332.4h2.37v2.38h-2.37zM314.59 334.73h2.37v2.38h-2.37zM270.47 337.06h2.37v2.38h-2.37zM282.08 339.39h2.37v2.38h-2.37zM319.23 341.72h2.37v2.38h-2.37zM286.73 348.72h2.37v2.38h-2.37zM275.12 353.38h2.37v2.38h-2.37zM298.34 353.38h2.37v2.38h-2.37zM314.59 355.72h2.37v2.38h-2.37zM237.96 358.05h2.37v2.38h-2.37zM309.95 358.05h2.37v2.38h-2.37zM289.05 362.71h2.37v2.38h-2.37zM314.59 365.04h2.37v2.38h-2.37zM233.32 367.38h2.37v2.38h-2.37zM231 369.71h2.37v2.38h-2.37zM305.3 369.71h2.37v2.38h-2.37zM300.66 372.04h2.37v2.38h-2.37zM221.71 374.37h2.37v2.38h-2.37zM279.76 379.04h2.37v2.38h-2.37zM291.37 379.04h2.37v2.38h-2.37zM300.66 379.04h2.37v2.38h-2.37z"/>
<path fill="#20c078" d="M247.25 332.4h2.37v2.38h-2.37zM319.23 344.06h2.37v2.38h-2.37zM251.9 346.39h2.37v2.38h-2.37zM305.3 355.72h2.37v2.38h-2.37zM277.44 367.38h2.37v2.38h-2.37zM286.73 376.7h2.37v2.38h-2.37z"/>
<path fill="#306cc8" d="M212.42 334.73h2.37v2.38h-2.37zM212.42 355.72h2.37v2.38h-2.37zM300.66 376.7h2.37v2.38h-2.37z"/>
<path fill="#30d860" d="M233.32 334.73h2.37v2.38h-2.37zM219.39 339.39h2.37v2.38h-2.37zM254.22 339.39h2.37v2.38h-2.37zM286.73 362.71h2.37v2.38h-2.37zM319.23 372.04h2.37v2.38h-2.37zM219.39 374.37h2.37v2.38h-2.37z"/>
<path fill="#24c46c" d="M240.29 334.73h2.37v2.38h-2.37zM277.44 351.05h2.37v2.38h-2.37zM240.29 369.71h2.37v2.38h-2.37z"/>
<path fill="#38c860" d="M275.12 334.73h2.37v2.38h-2.37zM219.39 337.06h2.37v2.38h-2.37zM312.27 337.06h2.37v2.38h-2.37zM289.05 346.39h2.37v2.38h-2.37zM293.69 348.72h2.37v2.38h-2.37zM247.25 358.05h2.37v2.38h-2.37zM305.3 360.38h2.37v2.38h-2.37zM214.74 362.71h2.37v2.38h-2.37zM221.71 362.71h2.37v2.38h-2.37zM235.64 362.71h2.37v2.38h-2.37zM298.34 365.04h2.37v2.38h-2.37zM256.54 369.71h2.37v2.38h-2.37zM247.25 374.37h2.37v2.38h-2.37z"/>
<path fill="#34dc5c" d="M212.42 337.06h2.37v2.38h-2.37zM316.91 344.06h2.37v2.38h-2.37zM270.47 346.39h2.37v2.38h-2.37zM242.61 367.38h2.37v2.38h-2.37zM323.88 372.04h2.37v2.38h-2.37z"/>
<path fill="#58cc4c" d="M217.07 337.06h2.37v2.38h-2.37zM298.34 337.06h2.37v2.38h-2.37zM307.62 341.72h2.37v2.38h-2.37zM233.32 346.39h2.37v2.38h-2.37zM279.76 348.72h2.37v2.38h-2.37zM237.96 351.05h2.37v2.38h-2.37zM244.93 353.38h2.37v2.38h-2.37zM272.79 353.38h2.37v2.38h-2.37zM296.01 355.72h2.37v2.38h-2.37zM210.1 358.05h2.37v2.38h-2.37zM226.35 360.38h2.37v2.38h-2.37zM217.07 365.04h2.37v2.38h-2.37zM282.08 367.38h2.37v2.38h-2.37zM224.03 372.04h2.37v2.38h-2.37zM298.34 374.37h2.37v2.38h-2.37zM323.88 376.7h2.37v2.38h-2.37zM231 379.04h2.37v2.38h-2.37zM256.54 381.37h2.37v2.38h-2.37z"/>
<path fill="#58d44c" d="M231 337.06h2.37v2.38h-2.37zM242.61 379.04h2.37v2.38h-2.37z"/>
<path fill="#189c9c" d="M235.64 337.06h2.37v2.38h-2.37zM302.98 379.04h2.37v2.38h-2.37zM309.95 381.37h2.37v2.38h-2.37zM323.88 381.37h2.37v2.38h-2.37z"/>
<path fill="#48d850" d="M256.54 337.06h2.37v2.38h-2.37z"/>
<path fill="#20b87c" d="M265.83 337.06h2.37v2.38h-2.37zM244.93 351.05h2.37v2.38h-2.37zM298.34 369.71h2.37v2.38h-2.37zM284.4 372.04h2.37v2.38h-2.37z"/>
<path fill="#3070c8" d="M284.4 337.06h2.37v2.38h-2.37zM275.12 358.05h2.37v2.38h-2.37zM284.4 358.05h2.37v2.38h-2.37zM261.18 372.04h2.37v2.38h-2.37zM296.01 379.04h2.37v2.38h-2.37z"/>
<path fill="#1880bc" d="M289.05 337.06h2.37v2.38h-2.37zM240.29 346.39h2.37v2.38h-2.37zM210.1 360.38h2.37v2.38h-2.37z"/>
<path fill="#2460d0" d="M221.71 339.39h2.37v2.38h-2.37z"/>
<path fill="#38c460" d="M302.98 344.06h2.37v2.38h-2.37z"/>
<path fill="#4cc458" d="M284.4 346.39h2.37v2.38h-2.37z"/>
<path fill="#2c6cc8" d="M212.42 348.72h2.37v2.38h-2.37zM228.68 348.72h2.37v2.38h-2.37zM212.42 351.05h2.37v2.38h-2.37zM224.03 358.05h2.37v2.38h-2.37z"/>
<path fill="#3cc85c" d="M242.61 348.72h2.37v2.38h-2.37zM307.62 362.71h2.37v2.38h-2.37z"/>
<path fill="#187cbc" d="M231 355.72h2.37v2.38h-2.37zM258.86 367.38h2.37v2.38h-2.37z"/>
<path fill="#1498a0" d="M321.56 355.72h2.37v2.38h-2.37z"/>
<path fill="#1cb880" d="M228.68 360.38h2.37v2.38h-2.37zM210.1 365.04h2.37v2.38h-2.37zM235.64 376.7h2.37v2.38h-2.37z"/>
<path fill="#1cb480" d="M231 367.38h2.37v2.38h-2.37z"/>
<path fill="#18989c" d="M289.05 367.38h2.37v2.38h-2.37z"/>
<path fill="#24ac90" d="M247.25 369.71h2.37v2.38h-2.37z"/>
<path fill="#48dc50" d="M305.3 374.37h2.37v2.38h-2.37z"/>
<path fill="#24c86c" d="M275.12 381.37h2.37v2.38h-2.37z"/>
<path fill="#60d844" d="M277.44 381.37h2.37v2.38h-2.37z"/>
</g>
<g shape-rendering="crispEdges">
<rect x="210.1" y="325.4" width="2.37" height="1.5" fill="#786478"/>
<rect x="212.42" y="325.4" width="2.37" height="1.5" fill="#967337"/>
<rect x="214.74" y="325.4" width="2.37" height="1.5" fill="#967337"/>
<rect x="217.07" y="325.4" width="2.37" height="1.5" fill="#a55f3c"/>
<rect x="219.39" y="325.4" width="2.37" height="1.5" fill="#5f69a0"/>
<rect x="221.71" y="325.4" width="2.37" height="1.5" fill="#786478"/>
<rect x="224.03" y="325.4" width="2.37" height="1.5" fill="#5f69a0"/>
<rect x="226.35" y="325.4" width="2.37" height="1.5" fill="#5f69a0"/>
<rect x="228.68" y="325.4" width="2.37" height="1.5" fill="#5f69a0"/>
<rect x="231" y="325.4" width="2.37" height="1.5" fill="#8c8246"/>
<rect x="233.32" y="325.4" width="2.37" height="1.5" fill="#786478"/>
<rect x="235.64" y="325.4" width="2.37" height="1.5" fill="#6e558c"/>
<rect x="237.96" y="325.4" width="2.37" height="1.5" fill="#a55f3c"/>
<rect x="240.29" y="325.4" width="2.37" height="1.5" fill="#786478"/>
<rect x="242.61" y="325.4" width="2.37" height="1.5" fill="#8c8246"/>
<rect x="244.93" y="325.4" width="2.37" height="1.5" fill="#3caa6e"/>
<rect x="247.25" y="325.4" width="2.37" height="1.5" fill="#5f69a0"/>
<rect x="249.57" y="325.4" width="2.37" height="1.5" fill="#786478"/>
<rect x="251.9" y="325.4" width="2.37" height="1.5" fill="#786478"/>
<rect x="254.22" y="325.4" width="2.37" height="1.5" fill="#3caa6e"/>
<rect x="256.54" y="325.4" width="2.37" height="1.5" fill="#6e558c"/>
<rect x="258.86" y="325.4" width="2.37" height="1.5" fill="#967337"/>
<rect x="261.18" y="325.4" width="2.37" height="1.5" fill="#a55f3c"/>
<rect x="263.51" y="325.4" width="2.37" height="1.5" fill="#5f69a0"/>
<rect x="265.83" y="325.4" width="2.37" height="1.5" fill="#5f69a0"/>
<rect x="268.15" y="325.4" width="2.37" height="1.5" fill="#3caa6e"/>
<rect x="270.47" y="325.4" width="2.37" height="1.5" fill="#786478"/>
<rect x="272.79" y="325.4" width="2.37" height="1.5" fill="#6e558c"/>
<rect x="275.12" y="325.4" width="2.37" height="1.5" fill="#8c8246"/>
<rect x="277.44" y="325.4" width="2.37" height="1.5" fill="#967337"/>
<rect x="279.76" y="325.4" width="2.37" height="1.5" fill="#786478"/>
<rect x="282.08" y="325.4" width="2.37" height="1.5" fill="#967337"/>
<rect x="284.4" y="325.4" width="2.37" height="1.5" fill="#8c8246"/>
<rect x="286.73" y="325.4" width="2.37" height="1.5" fill="#786478"/>
<rect x="289.05" y="325.4" width="2.37" height="1.5" fill="#786478"/>
<rect x="291.37" y="325.4" width="2.37" height="1.5" fill="#967337"/>
<rect x="293.69" y="325.4" width="2.37" height="1.5" fill="#5f69a0"/>
<rect x="296.01" y="325.4" width="2.37" height="1.5" fill="#6e558c"/>
<rect x="298.34" y="325.4" width="2.37" height="1.5" fill="#5f69a0"/>
<rect x="300.66" y="325.4" width="2.37" height="1.5" fill="#5f69a0"/>
<rect x="302.98" y="325.4" width="2.37" height="1.5" fill="#8c8246"/>
<rect x="305.3" y="325.4" width="2.37" height="1.5" fill="#3caa6e"/>
<rect x="307.62" y="325.4" width="2.37" height="1.5" fill="#786478"/>
<rect x="309.95" y="325.4" width="2.37" height="1.5" fill="#967337"/>
<rect x="312.27" y="325.4" width="2.37" height="1.5" fill="#6e558c"/>
<rect x="314.59" y="325.4" width="2.37" height="1.5" fill="#786478"/>
<rect x="316.91" y="325.4" width="2.37" height="1.5" fill="#3caa6e"/>
<rect x="319.23" y="325.4" width="2.37" height="1.5" fill="#8c8246"/>
<rect x="321.56" y="325.4" width="2.37" height="1.5" fill="#967337"/>
<rect x="323.88" y="325.4" width="2.37" height="1.5" fill="#786478"/>
</g>
<text x="265.65" y="393.02" font-size="7" text-anchor="middle" transform="rotate(0.03 265.65 393.02)">x−direction (20 m)</text>
<text x="197.8" y="364.6" font-size="7" text-anchor="middle" transform="rotate(-90 197.8 364.6)">y-direction</text>
<text x="205.3" y="364.6" font-size="7" text-anchor="middle" transform="rotate(-90 205.3 364.6)">(20 m)</text>
<defs><linearGradient id="gh" x1="0" y1="0" x2="0" y2="1"><stop offset="0" stop-color="#8c4114"/><stop offset="0.07" stop-color="#b42d1e"/><stop offset="0.16" stop-color="#d7232d"/><stop offset="0.26" stop-color="#cd1e5f"/><stop offset="0.34" stop-color="#7d3c9b"/><stop offset="0.44" stop-color="#4b50be"/><stop offset="0.55" stop-color="#2864c8"/><stop offset="0.66" stop-color="#198caa"/><stop offset="0.78" stop-color="#19aa7d"/><stop offset="0.9" stop-color="#3cbe50"/><stop offset="1" stop-color="#7dc328"/></linearGradient></defs>
<rect x="332.8" y="334.1" width="8.1" height="61.1" fill="url(#gh)"/>
<text x="342.2" y="337.77" font-size="5.2" text-anchor="start" transform="rotate(0.03 342.2 337.77)" stroke-width="0.08">600</text>
<text x="342.2" y="344.06" font-size="5.2" text-anchor="start" transform="rotate(0.03 342.2 344.06)" stroke-width="0.08">533</text>
<text x="342.2" y="350.35" font-size="5.2" text-anchor="start" transform="rotate(0.03 342.2 350.35)" stroke-width="0.08">467</text>
<text x="342.2" y="356.64" font-size="5.2" text-anchor="start" transform="rotate(0.03 342.2 356.64)" stroke-width="0.08">400</text>
<text x="342.2" y="362.93" font-size="5.2" text-anchor="start" transform="rotate(0.03 342.2 362.93)" stroke-width="0.08">333</text>
<text x="342.2" y="369.22" font-size="5.2" text-anchor="start" transform="rotate(0.03 342.2 369.22)" stroke-width="0.08">267</text>
<text x="342.2" y="375.51" font-size="5.2" text-anchor="start" transform="rotate(0.03 342.2 375.51)" stroke-width="0.08">200</text>
<text x="342.2" y="381.79" font-size="5.2" text-anchor="start" transform="rotate(0.03 342.2 381.79)" stroke-width="0.08">133</text>
<text x="342.2" y="388.08" font-size="5.2" text-anchor="start" transform="rotate(0.03 342.2 388.08)" stroke-width="0.08">67</text>
<text x="342.2" y="394.37" font-size="5.2" text-anchor="start" transform="rotate(0.03 342.2 394.37)" stroke-width="0.08">0</text>
<text x="333.4" y="324.16" font-size="6" text-anchor="start" transform="rotate(0.03 333.4 324.16)" stroke-width="0.08"><tspan font-style="italic">nRMSE</tspan></text>
<text x="333.4" y="330.76" font-size="6" text-anchor="start" transform="rotate(0.03 333.4 330.76)" stroke-width="0.08">(%)</text>
<rect x="214.5" y="408.8" width="4.4" height="21.4" fill="#ababab"/>
<rect x="219.9" y="404.9" width="4.4" height="25.3" fill="#ababab"/>
<rect x="225.3" y="414.2" width="4.4" height="16" fill="#ababab"/>
<rect x="230.7" y="422.6" width="4.4" height="7.6" fill="#ababab"/>
<rect x="236.1" y="424.5" width="4.4" height="5.7" fill="#ababab"/>
<rect x="241.5" y="427" width="4.4" height="3.2" fill="#ababab"/>
<rect x="246.9" y="429.2" width="4.4" height="1" fill="#ababab"/>
<rect x="252.3" y="429.8" width="4.4" height="0.4" fill="#ababab"/>
<rect x="257.7" y="430" width="4.4" height="0.2" fill="#ababab"/>
<rect x="209" y="402.2" width="117.1" height="28.9" fill="none" stroke="#111" stroke-width="0.7"/>
<line x1="223.6" y1="402.2" x2="223.6" y2="431.1" stroke="#1a1a1a" stroke-width="1.3"/>
<line x1="214.4" y1="431.1" x2="214.4" y2="433.1" stroke="#222" stroke-width="0.6"/>
<text x="214.4" y="440.02" font-size="7" text-anchor="middle" transform="rotate(0.03 214.4 440.02)">0</text>
<line x1="251" y1="431.1" x2="251" y2="433.1" stroke="#222" stroke-width="0.6"/>
<text x="251" y="440.02" font-size="7" text-anchor="middle" transform="rotate(0.03 251 440.02)">200</text>
<line x1="287.5" y1="431.1" x2="287.5" y2="433.1" stroke="#222" stroke-width="0.6"/>
<text x="287.5" y="440.02" font-size="7" text-anchor="middle" transform="rotate(0.03 287.5 440.02)">400</text>
<line x1="323.9" y1="431.1" x2="323.9" y2="433.1" stroke="#222" stroke-width="0.6"/>
<text x="323.9" y="440.02" font-size="7" text-anchor="middle" transform="rotate(0.03 323.9 440.02)">600</text>
<line x1="207" y1="430.2" x2="209" y2="430.2" stroke="#222" stroke-width="0.6"/>
<text x="204.6" y="430.2" font-size="7" text-anchor="middle" transform="rotate(-90 204.6 430.2)">0</text>
<line x1="207" y1="423.4" x2="209" y2="423.4" stroke="#222" stroke-width="0.6"/>
<text x="204.6" y="423.4" font-size="7" text-anchor="middle" transform="rotate(-90 204.6 423.4)">100</text>
<line x1="207" y1="416.5" x2="209" y2="416.5" stroke="#222" stroke-width="0.6"/>
<line x1="207" y1="409.5" x2="209" y2="409.5" stroke="#222" stroke-width="0.6"/>
<text x="204.6" y="409.5" font-size="7" text-anchor="middle" transform="rotate(-90 204.6 409.5)">300</text>
<line x1="207" y1="402.8" x2="209" y2="402.8" stroke="#222" stroke-width="0.6"/>
<text x="274.6" y="449.91" font-size="6.7" text-anchor="middle" transform="rotate(0.03 274.6 449.91)"><tspan font-style="italic">nRMSE</tspan> (%)</text>
<text x="197.4" y="414" font-size="6.7" text-anchor="middle" transform="rotate(-90 197.4 414)">Frequency</text>
<!-- panel i -->
<text x="388.1" y="314.9" font-size="10" text-anchor="start" transform="rotate(0.03 388.1 314.9)">(i)</text>
<g shape-rendering="crispEdges">
<path fill="#a8ba3c" d="M403.2 326.4h2.36v2.35h-2.36z"/>
<path fill="#96ae36" d="M405.51 326.4h2.36v2.35h-2.36zM474.81 367.8h2.36v2.35h-2.36zM472.5 370.1h2.36v2.35h-2.36zM495.6 372.4h2.36v2.35h-2.36z"/>
<path fill="#a29c30" d="M407.82 326.4h2.36v2.35h-2.36zM423.99 363.2h2.36v2.35h-2.36z"/>
<path fill="#ba8a2a" d="M410.13 326.4h2.36v2.35h-2.36zM511.77 326.4h2.36v2.35h-2.36zM479.43 328.7h2.36v2.35h-2.36zM486.36 328.7h2.36v2.35h-2.36zM444.78 331h2.36v2.35h-2.36zM440.16 335.6h2.36v2.35h-2.36zM500.22 340.2h2.36v2.35h-2.36zM463.26 342.5h2.36v2.35h-2.36zM467.88 342.5h2.36v2.35h-2.36zM497.91 342.5h2.36v2.35h-2.36zM428.61 347.1h2.36v2.35h-2.36zM465.57 349.4h2.36v2.35h-2.36zM516.39 349.4h2.36v2.35h-2.36zM405.51 354h2.36v2.35h-2.36zM507.15 354h2.36v2.35h-2.36zM447.09 356.3h2.36v2.35h-2.36zM472.5 356.3h2.36v2.35h-2.36zM488.67 356.3h2.36v2.35h-2.36zM447.09 358.6h2.36v2.35h-2.36zM490.98 358.6h2.36v2.35h-2.36zM465.57 360.9h2.36v2.35h-2.36zM507.15 360.9h2.36v2.35h-2.36zM428.61 365.5h2.36v2.35h-2.36zM479.43 365.5h2.36v2.35h-2.36zM514.08 370.1h2.36v2.35h-2.36zM472.5 372.4h2.36v2.35h-2.36zM495.6 374.7h2.36v2.35h-2.36zM454.02 377h2.36v2.35h-2.36zM405.51 379.3h2.36v2.35h-2.36zM414.75 379.3h2.36v2.35h-2.36zM433.23 379.3h2.36v2.35h-2.36z"/>
<path fill="#9c9c30" d="M412.44 326.4h2.36v2.35h-2.36zM479.43 326.4h2.36v2.35h-2.36zM511.77 351.7h2.36v2.35h-2.36zM426.3 379.3h2.36v2.35h-2.36z"/>
<path fill="#788a2a" d="M414.75 326.4h2.36v2.35h-2.36zM484.05 326.4h2.36v2.35h-2.36zM451.71 328.7h2.36v2.35h-2.36zM460.95 328.7h2.36v2.35h-2.36zM495.6 328.7h2.36v2.35h-2.36zM449.4 331h2.36v2.35h-2.36zM511.77 331h2.36v2.35h-2.36zM433.23 335.6h2.36v2.35h-2.36zM514.08 335.6h2.36v2.35h-2.36zM407.82 340.2h2.36v2.35h-2.36zM419.37 340.2h2.36v2.35h-2.36zM514.08 340.2h2.36v2.35h-2.36zM493.29 342.5h2.36v2.35h-2.36zM516.39 342.5h2.36v2.35h-2.36zM465.57 344.8h2.36v2.35h-2.36zM514.08 347.1h2.36v2.35h-2.36zM417.06 349.4h2.36v2.35h-2.36zM456.33 349.4h2.36v2.35h-2.36zM433.23 351.7h2.36v2.35h-2.36zM507.15 351.7h2.36v2.35h-2.36zM426.3 356.3h2.36v2.35h-2.36zM442.47 358.6h2.36v2.35h-2.36zM403.2 360.9h2.36v2.35h-2.36zM437.85 360.9h2.36v2.35h-2.36zM493.29 360.9h2.36v2.35h-2.36zM504.84 360.9h2.36v2.35h-2.36zM410.13 365.5h2.36v2.35h-2.36zM412.44 365.5h2.36v2.35h-2.36zM484.05 365.5h2.36v2.35h-2.36zM465.57 367.8h2.36v2.35h-2.36zM435.54 370.1h2.36v2.35h-2.36zM484.05 370.1h2.36v2.35h-2.36zM502.53 370.1h2.36v2.35h-2.36zM412.44 372.4h2.36v2.35h-2.36zM467.88 372.4h2.36v2.35h-2.36zM470.19 374.7h2.36v2.35h-2.36zM500.22 374.7h2.36v2.35h-2.36zM511.77 374.7h2.36v2.35h-2.36zM430.92 377h2.36v2.35h-2.36zM481.74 377h2.36v2.35h-2.36zM423.99 379.3h2.36v2.35h-2.36zM428.61 379.3h2.36v2.35h-2.36zM435.54 379.3h2.36v2.35h-2.36zM463.26 379.3h2.36v2.35h-2.36zM511.77 379.3h2.36v2.35h-2.36zM460.95 381.6h2.36v2.35h-2.36zM479.43 381.6h2.36v2.35h-2.36zM493.29 381.6h2.36v2.35h-2.36zM500.22 381.6h2.36v2.35h-2.36zM516.39 381.6h2.36v2.35h-2.36z"/>
<path fill="#90c03c" d="M417.06 326.4h2.36v2.35h-2.36zM442.47 326.4h2.36v2.35h-2.36zM500.22 326.4h2.36v2.35h-2.36zM502.53 328.7h2.36v2.35h-2.36zM442.47 331h2.36v2.35h-2.36zM417.06 333.3h2.36v2.35h-2.36zM426.3 333.3h2.36v2.35h-2.36zM440.16 333.3h2.36v2.35h-2.36zM497.91 333.3h2.36v2.35h-2.36zM500.22 333.3h2.36v2.35h-2.36zM451.71 337.9h2.36v2.35h-2.36zM500.22 337.9h2.36v2.35h-2.36zM504.84 337.9h2.36v2.35h-2.36zM516.39 337.9h2.36v2.35h-2.36zM490.98 340.2h2.36v2.35h-2.36zM451.71 342.5h2.36v2.35h-2.36zM454.02 342.5h2.36v2.35h-2.36zM495.6 342.5h2.36v2.35h-2.36zM470.19 344.8h2.36v2.35h-2.36zM463.26 347.1h2.36v2.35h-2.36zM467.88 347.1h2.36v2.35h-2.36zM437.85 349.4h2.36v2.35h-2.36zM488.67 349.4h2.36v2.35h-2.36zM486.36 354h2.36v2.35h-2.36zM484.05 356.3h2.36v2.35h-2.36zM407.82 358.6h2.36v2.35h-2.36zM414.75 358.6h2.36v2.35h-2.36zM419.37 358.6h2.36v2.35h-2.36zM421.68 358.6h2.36v2.35h-2.36zM497.91 360.9h2.36v2.35h-2.36zM500.22 360.9h2.36v2.35h-2.36zM514.08 360.9h2.36v2.35h-2.36zM417.06 363.2h2.36v2.35h-2.36zM486.36 363.2h2.36v2.35h-2.36zM417.06 365.5h2.36v2.35h-2.36zM419.37 365.5h2.36v2.35h-2.36zM486.36 365.5h2.36v2.35h-2.36zM463.26 367.8h2.36v2.35h-2.36zM484.05 367.8h2.36v2.35h-2.36zM490.98 367.8h2.36v2.35h-2.36zM509.46 370.1h2.36v2.35h-2.36zM511.77 370.1h2.36v2.35h-2.36zM423.99 372.4h2.36v2.35h-2.36zM456.33 372.4h2.36v2.35h-2.36zM470.19 372.4h2.36v2.35h-2.36zM479.43 372.4h2.36v2.35h-2.36zM481.74 372.4h2.36v2.35h-2.36zM490.98 372.4h2.36v2.35h-2.36zM449.4 374.7h2.36v2.35h-2.36zM484.05 374.7h2.36v2.35h-2.36zM486.36 374.7h2.36v2.35h-2.36zM516.39 374.7h2.36v2.35h-2.36zM433.23 377h2.36v2.35h-2.36zM504.84 377h2.36v2.35h-2.36zM509.46 377h2.36v2.35h-2.36zM490.98 379.3h2.36v2.35h-2.36zM493.29 379.3h2.36v2.35h-2.36zM495.6 379.3h2.36v2.35h-2.36zM507.15 379.3h2.36v2.35h-2.36z"/>
<path fill="#8aba3c" d="M419.37 326.4h2.36v2.35h-2.36zM502.53 326.4h2.36v2.35h-2.36zM514.08 326.4h2.36v2.35h-2.36zM417.06 328.7h2.36v2.35h-2.36zM514.08 328.7h2.36v2.35h-2.36zM497.91 331h2.36v2.35h-2.36zM451.71 335.6h2.36v2.35h-2.36zM493.29 335.6h2.36v2.35h-2.36zM504.84 335.6h2.36v2.35h-2.36zM421.68 337.9h2.36v2.35h-2.36zM454.02 337.9h2.36v2.35h-2.36zM490.98 337.9h2.36v2.35h-2.36zM419.37 342.5h2.36v2.35h-2.36zM488.67 342.5h2.36v2.35h-2.36zM509.46 342.5h2.36v2.35h-2.36zM433.23 344.8h2.36v2.35h-2.36zM484.05 344.8h2.36v2.35h-2.36zM495.6 347.1h2.36v2.35h-2.36zM412.44 349.4h2.36v2.35h-2.36zM486.36 349.4h2.36v2.35h-2.36zM502.53 349.4h2.36v2.35h-2.36zM412.44 351.7h2.36v2.35h-2.36zM419.37 351.7h2.36v2.35h-2.36zM421.68 354h2.36v2.35h-2.36zM414.75 356.3h2.36v2.35h-2.36zM419.37 356.3h2.36v2.35h-2.36zM417.06 358.6h2.36v2.35h-2.36zM458.64 360.9h2.36v2.35h-2.36zM472.5 360.9h2.36v2.35h-2.36zM490.98 360.9h2.36v2.35h-2.36zM511.77 360.9h2.36v2.35h-2.36zM421.68 363.2h2.36v2.35h-2.36zM440.16 363.2h2.36v2.35h-2.36zM456.33 363.2h2.36v2.35h-2.36zM474.81 365.5h2.36v2.35h-2.36zM504.84 365.5h2.36v2.35h-2.36zM426.3 367.8h2.36v2.35h-2.36zM449.4 367.8h2.36v2.35h-2.36zM447.09 370.1h2.36v2.35h-2.36zM458.64 370.1h2.36v2.35h-2.36zM465.57 370.1h2.36v2.35h-2.36zM479.43 370.1h2.36v2.35h-2.36zM458.64 374.7h2.36v2.35h-2.36zM437.85 379.3h2.36v2.35h-2.36zM507.15 381.6h2.36v2.35h-2.36zM514.08 381.6h2.36v2.35h-2.36z"/>
<path fill="#7eb436" d="M421.68 326.4h2.36v2.35h-2.36zM423.99 328.7h2.36v2.35h-2.36zM426.3 328.7h2.36v2.35h-2.36zM423.99 331h2.36v2.35h-2.36zM428.61 333.3h2.36v2.35h-2.36zM442.47 333.3h2.36v2.35h-2.36zM447.09 335.6h2.36v2.35h-2.36zM490.98 335.6h2.36v2.35h-2.36zM417.06 337.9h2.36v2.35h-2.36zM497.91 337.9h2.36v2.35h-2.36zM421.68 340.2h2.36v2.35h-2.36zM447.09 340.2h2.36v2.35h-2.36zM454.02 340.2h2.36v2.35h-2.36zM421.68 344.8h2.36v2.35h-2.36zM479.43 344.8h2.36v2.35h-2.36zM488.67 344.8h2.36v2.35h-2.36zM430.92 347.1h2.36v2.35h-2.36zM456.33 347.1h2.36v2.35h-2.36zM414.75 349.4h2.36v2.35h-2.36zM458.64 349.4h2.36v2.35h-2.36zM493.29 349.4h2.36v2.35h-2.36zM484.05 354h2.36v2.35h-2.36zM460.95 358.6h2.36v2.35h-2.36zM440.16 360.9h2.36v2.35h-2.36zM456.33 360.9h2.36v2.35h-2.36zM472.5 363.2h2.36v2.35h-2.36zM474.81 363.2h2.36v2.35h-2.36zM479.43 363.2h2.36v2.35h-2.36zM514.08 363.2h2.36v2.35h-2.36zM460.95 367.8h2.36v2.35h-2.36zM470.19 367.8h2.36v2.35h-2.36zM451.71 370.1h2.36v2.35h-2.36zM456.33 370.1h2.36v2.35h-2.36zM463.26 374.7h2.36v2.35h-2.36zM465.57 374.7h2.36v2.35h-2.36zM490.98 377h2.36v2.35h-2.36zM514.08 379.3h2.36v2.35h-2.36z"/>
<path fill="#90c63c" d="M423.99 326.4h2.36v2.35h-2.36zM419.37 328.7h2.36v2.35h-2.36zM428.61 331h2.36v2.35h-2.36zM495.6 337.9h2.36v2.35h-2.36zM507.15 337.9h2.36v2.35h-2.36zM493.29 340.2h2.36v2.35h-2.36zM509.46 340.2h2.36v2.35h-2.36zM490.98 342.5h2.36v2.35h-2.36zM511.77 342.5h2.36v2.35h-2.36zM414.75 344.8h2.36v2.35h-2.36zM458.64 347.1h2.36v2.35h-2.36zM460.95 347.1h2.36v2.35h-2.36zM435.54 349.4h2.36v2.35h-2.36zM417.06 354h2.36v2.35h-2.36zM460.95 354h2.36v2.35h-2.36zM407.82 356.3h2.36v2.35h-2.36zM419.37 363.2h2.36v2.35h-2.36zM442.47 363.2h2.36v2.35h-2.36zM488.67 363.2h2.36v2.35h-2.36zM472.5 365.5h2.36v2.35h-2.36zM490.98 365.5h2.36v2.35h-2.36zM423.99 367.8h2.36v2.35h-2.36zM488.67 367.8h2.36v2.35h-2.36zM486.36 370.1h2.36v2.35h-2.36zM493.29 372.4h2.36v2.35h-2.36zM509.46 372.4h2.36v2.35h-2.36zM507.15 374.7h2.36v2.35h-2.36zM502.53 377h2.36v2.35h-2.36z"/>
<path fill="#84ba36" d="M426.3 326.4h2.36v2.35h-2.36zM428.61 326.4h2.36v2.35h-2.36zM440.16 326.4h2.36v2.35h-2.36zM511.77 328.7h2.36v2.35h-2.36zM516.39 328.7h2.36v2.35h-2.36zM419.37 331h2.36v2.35h-2.36zM516.39 331h2.36v2.35h-2.36zM514.08 333.3h2.36v2.35h-2.36zM447.09 337.9h2.36v2.35h-2.36zM488.67 337.9h2.36v2.35h-2.36zM449.4 340.2h2.36v2.35h-2.36zM504.84 340.2h2.36v2.35h-2.36zM516.39 340.2h2.36v2.35h-2.36zM502.53 342.5h2.36v2.35h-2.36zM507.15 342.5h2.36v2.35h-2.36zM458.64 344.8h2.36v2.35h-2.36zM490.98 344.8h2.36v2.35h-2.36zM414.75 347.1h2.36v2.35h-2.36zM421.68 347.1h2.36v2.35h-2.36zM433.23 347.1h2.36v2.35h-2.36zM493.29 347.1h2.36v2.35h-2.36zM467.88 349.4h2.36v2.35h-2.36zM481.74 349.4h2.36v2.35h-2.36zM407.82 351.7h2.36v2.35h-2.36zM410.13 354h2.36v2.35h-2.36zM414.75 354h2.36v2.35h-2.36zM456.33 356.3h2.36v2.35h-2.36zM481.74 356.3h2.36v2.35h-2.36zM458.64 358.6h2.36v2.35h-2.36zM417.06 360.9h2.36v2.35h-2.36zM442.47 360.9h2.36v2.35h-2.36zM481.74 363.2h2.36v2.35h-2.36zM504.84 363.2h2.36v2.35h-2.36zM507.15 363.2h2.36v2.35h-2.36zM421.68 365.5h2.36v2.35h-2.36zM444.78 365.5h2.36v2.35h-2.36zM488.67 365.5h2.36v2.35h-2.36zM502.53 365.5h2.36v2.35h-2.36zM507.15 365.5h2.36v2.35h-2.36zM511.77 365.5h2.36v2.35h-2.36zM447.09 367.8h2.36v2.35h-2.36zM481.74 367.8h2.36v2.35h-2.36zM493.29 367.8h2.36v2.35h-2.36zM428.61 370.1h2.36v2.35h-2.36zM460.95 372.4h2.36v2.35h-2.36zM509.46 374.7h2.36v2.35h-2.36zM435.54 377h2.36v2.35h-2.36zM511.77 377h2.36v2.35h-2.36zM500.22 379.3h2.36v2.35h-2.36zM435.54 381.6h2.36v2.35h-2.36zM497.91 381.6h2.36v2.35h-2.36zM511.77 381.6h2.36v2.35h-2.36z"/>
<path fill="#66ae36" d="M430.92 326.4h2.36v2.35h-2.36z"/>
<path fill="#6cb436" d="M433.23 326.4h2.36v2.35h-2.36zM470.19 335.6h2.36v2.35h-2.36zM479.43 337.9h2.36v2.35h-2.36zM454.02 358.6h2.36v2.35h-2.36z"/>
<path fill="#78c63c" d="M435.54 326.4h2.36v2.35h-2.36zM465.57 335.6h2.36v2.35h-2.36zM477.12 344.8h2.36v2.35h-2.36z"/>
<path fill="#72c03c" d="M437.85 326.4h2.36v2.35h-2.36zM433.23 333.3h2.36v2.35h-2.36zM465.57 342.5h2.36v2.35h-2.36z"/>
<path fill="#8ac03c" d="M444.78 326.4h2.36v2.35h-2.36zM502.53 331h2.36v2.35h-2.36zM421.68 333.3h2.36v2.35h-2.36zM423.99 333.3h2.36v2.35h-2.36zM444.78 333.3h2.36v2.35h-2.36zM488.67 340.2h2.36v2.35h-2.36zM514.08 342.5h2.36v2.35h-2.36zM407.82 344.8h2.36v2.35h-2.36zM419.37 344.8h2.36v2.35h-2.36zM417.06 347.1h2.36v2.35h-2.36zM419.37 347.1h2.36v2.35h-2.36zM479.43 347.1h2.36v2.35h-2.36zM502.53 347.1h2.36v2.35h-2.36zM419.37 349.4h2.36v2.35h-2.36zM433.23 349.4h2.36v2.35h-2.36zM410.13 351.7h2.36v2.35h-2.36zM479.43 351.7h2.36v2.35h-2.36zM419.37 354h2.36v2.35h-2.36zM460.95 356.3h2.36v2.35h-2.36zM410.13 358.6h2.36v2.35h-2.36zM412.44 358.6h2.36v2.35h-2.36zM481.74 358.6h2.36v2.35h-2.36zM444.78 360.9h2.36v2.35h-2.36zM477.12 360.9h2.36v2.35h-2.36zM502.53 360.9h2.36v2.35h-2.36zM516.39 360.9h2.36v2.35h-2.36zM444.78 363.2h2.36v2.35h-2.36zM460.95 363.2h2.36v2.35h-2.36zM484.05 363.2h2.36v2.35h-2.36zM495.6 363.2h2.36v2.35h-2.36zM502.53 363.2h2.36v2.35h-2.36zM511.77 363.2h2.36v2.35h-2.36zM495.6 365.5h2.36v2.35h-2.36zM500.22 365.5h2.36v2.35h-2.36zM479.43 367.8h2.36v2.35h-2.36zM509.46 367.8h2.36v2.35h-2.36zM511.77 367.8h2.36v2.35h-2.36zM449.4 370.1h2.36v2.35h-2.36zM467.88 370.1h2.36v2.35h-2.36zM481.74 370.1h2.36v2.35h-2.36zM490.98 370.1h2.36v2.35h-2.36zM507.15 370.1h2.36v2.35h-2.36zM516.39 370.1h2.36v2.35h-2.36zM451.71 372.4h2.36v2.35h-2.36zM454.02 372.4h2.36v2.35h-2.36zM428.61 374.7h2.36v2.35h-2.36zM447.09 374.7h2.36v2.35h-2.36zM481.74 374.7h2.36v2.35h-2.36zM504.84 374.7h2.36v2.35h-2.36zM493.29 377h2.36v2.35h-2.36zM500.22 377h2.36v2.35h-2.36zM509.46 379.3h2.36v2.35h-2.36z"/>
<path fill="#b4ae36" d="M447.09 326.4h2.36v2.35h-2.36zM449.4 328.7h2.36v2.35h-2.36zM410.13 331h2.36v2.35h-2.36zM493.29 333.3h2.36v2.35h-2.36zM509.46 344.8h2.36v2.35h-2.36zM504.84 347.1h2.36v2.35h-2.36zM509.46 349.4h2.36v2.35h-2.36zM467.88 351.7h2.36v2.35h-2.36zM504.84 356.3h2.36v2.35h-2.36zM516.39 356.3h2.36v2.35h-2.36zM403.2 358.6h2.36v2.35h-2.36zM470.19 358.6h2.36v2.35h-2.36zM435.54 367.8h2.36v2.35h-2.36zM440.16 367.8h2.36v2.35h-2.36zM410.13 370.1h2.36v2.35h-2.36zM430.92 372.4h2.36v2.35h-2.36z"/>
<path fill="#a8a830" d="M449.4 326.4h2.36v2.35h-2.36zM454.02 326.4h2.36v2.35h-2.36zM412.44 328.7h2.36v2.35h-2.36zM447.09 328.7h2.36v2.35h-2.36zM470.19 328.7h2.36v2.35h-2.36zM472.5 328.7h2.36v2.35h-2.36zM474.81 328.7h2.36v2.35h-2.36zM477.12 328.7h2.36v2.35h-2.36zM481.74 328.7h2.36v2.35h-2.36zM493.29 328.7h2.36v2.35h-2.36zM467.88 331h2.36v2.35h-2.36zM479.43 331h2.36v2.35h-2.36zM412.44 333.3h2.36v2.35h-2.36zM456.33 333.3h2.36v2.35h-2.36zM463.26 333.3h2.36v2.35h-2.36zM481.74 333.3h2.36v2.35h-2.36zM511.77 344.8h2.36v2.35h-2.36zM514.08 344.8h2.36v2.35h-2.36zM507.15 347.1h2.36v2.35h-2.36zM511.77 347.1h2.36v2.35h-2.36zM467.88 354h2.36v2.35h-2.36zM470.19 354h2.36v2.35h-2.36zM504.84 354h2.36v2.35h-2.36zM511.77 354h2.36v2.35h-2.36zM514.08 354h2.36v2.35h-2.36zM509.46 356.3h2.36v2.35h-2.36zM514.08 358.6h2.36v2.35h-2.36zM426.3 363.2h2.36v2.35h-2.36zM433.23 363.2h2.36v2.35h-2.36zM423.99 365.5h2.36v2.35h-2.36zM435.54 365.5h2.36v2.35h-2.36zM403.2 367.8h2.36v2.35h-2.36zM405.51 367.8h2.36v2.35h-2.36zM417.06 367.8h2.36v2.35h-2.36zM433.23 367.8h2.36v2.35h-2.36zM437.85 372.4h2.36v2.35h-2.36zM405.51 374.7h2.36v2.35h-2.36zM426.3 377h2.36v2.35h-2.36zM449.4 377h2.36v2.35h-2.36zM486.36 377h2.36v2.35h-2.36zM442.47 379.3h2.36v2.35h-2.36zM449.4 379.3h2.36v2.35h-2.36zM451.71 379.3h2.36v2.35h-2.36zM477.12 379.3h2.36v2.35h-2.36zM481.74 379.3h2.36v2.35h-2.36zM484.05 379.3h2.36v2.35h-2.36zM407.82 381.6h2.36v2.35h-2.36zM414.75 381.6h2.36v2.35h-2.36zM423.99 381.6h2.36v2.35h-2.36zM481.74 381.6h2.36v2.35h-2.36z"/>
<path fill="#a2a830" d="M451.71 326.4h2.36v2.35h-2.36zM481.74 326.4h2.36v2.35h-2.36zM488.67 331h2.36v2.35h-2.36zM504.84 358.6h2.36v2.35h-2.36zM516.39 358.6h2.36v2.35h-2.36zM405.51 360.9h2.36v2.35h-2.36zM428.61 360.9h2.36v2.35h-2.36zM405.51 370.1h2.36v2.35h-2.36zM423.99 377h2.36v2.35h-2.36zM447.09 379.3h2.36v2.35h-2.36zM486.36 381.6h2.36v2.35h-2.36z"/>
<path fill="#a8ae36" d="M456.33 326.4h2.36v2.35h-2.36zM465.57 326.4h2.36v2.35h-2.36zM472.5 326.4h2.36v2.35h-2.36zM456.33 328.7h2.36v2.35h-2.36zM458.64 333.3h2.36v2.35h-2.36zM467.88 333.3h2.36v2.35h-2.36zM516.39 347.1h2.36v2.35h-2.36zM405.51 351.7h2.36v2.35h-2.36zM514.08 356.3h2.36v2.35h-2.36zM423.99 360.9h2.36v2.35h-2.36zM430.92 370.1h2.36v2.35h-2.36zM442.47 374.7h2.36v2.35h-2.36z"/>
<path fill="#c0c03c" d="M458.64 326.4h2.36v2.35h-2.36zM442.47 372.4h2.36v2.35h-2.36z"/>
<path fill="#a8a836" d="M460.95 326.4h2.36v2.35h-2.36zM463.26 326.4h2.36v2.35h-2.36zM490.98 328.7h2.36v2.35h-2.36zM456.33 331h2.36v2.35h-2.36zM493.29 331h2.36v2.35h-2.36zM460.95 333.3h2.36v2.35h-2.36zM479.43 333.3h2.36v2.35h-2.36zM511.77 358.6h2.36v2.35h-2.36zM437.85 370.1h2.36v2.35h-2.36zM405.51 372.4h2.36v2.35h-2.36zM444.78 372.4h2.36v2.35h-2.36zM437.85 374.7h2.36v2.35h-2.36zM444.78 374.7h2.36v2.35h-2.36zM472.5 379.3h2.36v2.35h-2.36z"/>
<path fill="#aeae36" d="M467.88 326.4h2.36v2.35h-2.36zM470.19 326.4h2.36v2.35h-2.36zM490.98 326.4h2.36v2.35h-2.36zM454.02 328.7h2.36v2.35h-2.36zM454.02 331h2.36v2.35h-2.36zM458.64 331h2.36v2.35h-2.36zM454.02 333.3h2.36v2.35h-2.36zM470.19 333.3h2.36v2.35h-2.36zM484.05 333.3h2.36v2.35h-2.36zM511.77 349.4h2.36v2.35h-2.36zM514.08 349.4h2.36v2.35h-2.36zM463.26 356.3h2.36v2.35h-2.36zM511.77 356.3h2.36v2.35h-2.36zM435.54 360.9h2.36v2.35h-2.36zM403.2 363.2h2.36v2.35h-2.36zM430.92 365.5h2.36v2.35h-2.36zM444.78 367.8h2.36v2.35h-2.36zM403.2 370.1h2.36v2.35h-2.36zM407.82 370.1h2.36v2.35h-2.36zM442.47 370.1h2.36v2.35h-2.36zM444.78 370.1h2.36v2.35h-2.36zM417.06 372.4h2.36v2.35h-2.36zM407.82 374.7h2.36v2.35h-2.36zM412.44 374.7h2.36v2.35h-2.36zM417.06 374.7h2.36v2.35h-2.36zM430.92 374.7h2.36v2.35h-2.36zM407.82 377h2.36v2.35h-2.36zM447.09 377h2.36v2.35h-2.36zM472.5 377h2.36v2.35h-2.36zM407.82 379.3h2.36v2.35h-2.36zM410.13 381.6h2.36v2.35h-2.36zM440.16 381.6h2.36v2.35h-2.36zM451.71 381.6h2.36v2.35h-2.36z"/>
<path fill="#96a230" d="M474.81 326.4h2.36v2.35h-2.36z"/>
<path fill="#a8a230" d="M477.12 326.4h2.36v2.35h-2.36zM474.81 331h2.36v2.35h-2.36zM509.46 347.1h2.36v2.35h-2.36zM507.15 349.4h2.36v2.35h-2.36zM509.46 351.7h2.36v2.35h-2.36zM405.51 363.2h2.36v2.35h-2.36zM417.06 370.1h2.36v2.35h-2.36zM407.82 372.4h2.36v2.35h-2.36zM435.54 372.4h2.36v2.35h-2.36z"/>
<path fill="#9c9c2a" d="M486.36 326.4h2.36v2.35h-2.36zM414.75 331h2.36v2.35h-2.36zM460.95 331h2.36v2.35h-2.36zM486.36 333.3h2.36v2.35h-2.36zM470.19 351.7h2.36v2.35h-2.36zM403.2 354h2.36v2.35h-2.36zM403.2 356.3h2.36v2.35h-2.36zM428.61 363.2h2.36v2.35h-2.36zM412.44 367.8h2.36v2.35h-2.36zM419.37 367.8h2.36v2.35h-2.36zM414.75 377h2.36v2.35h-2.36zM428.61 377h2.36v2.35h-2.36zM444.78 377h2.36v2.35h-2.36zM412.44 379.3h2.36v2.35h-2.36z"/>
<path fill="#b4b436" d="M488.67 326.4h2.36v2.35h-2.36zM467.88 328.7h2.36v2.35h-2.36zM488.67 328.7h2.36v2.35h-2.36zM412.44 331h2.36v2.35h-2.36zM488.67 333.3h2.36v2.35h-2.36zM490.98 333.3h2.36v2.35h-2.36zM504.84 349.4h2.36v2.35h-2.36zM504.84 351.7h2.36v2.35h-2.36zM463.26 354h2.36v2.35h-2.36zM426.3 360.9h2.36v2.35h-2.36zM410.13 367.8h2.36v2.35h-2.36zM414.75 372.4h2.36v2.35h-2.36zM412.44 377h2.36v2.35h-2.36zM479.43 377h2.36v2.35h-2.36z"/>
<path fill="#4884a8" d="M493.29 326.4h2.36v2.35h-2.36zM474.81 333.3h2.36v2.35h-2.36zM500.22 344.8h2.36v2.35h-2.36zM426.3 351.7h2.36v2.35h-2.36zM447.09 351.7h2.36v2.35h-2.36zM458.64 351.7h2.36v2.35h-2.36zM449.4 354h2.36v2.35h-2.36zM456.33 354h2.36v2.35h-2.36zM481.74 354h2.36v2.35h-2.36zM493.29 354h2.36v2.35h-2.36zM486.36 356.3h2.36v2.35h-2.36zM509.46 358.6h2.36v2.35h-2.36zM426.3 370.1h2.36v2.35h-2.36zM470.19 370.1h2.36v2.35h-2.36zM410.13 377h2.36v2.35h-2.36z"/>
<path fill="#96c642" d="M495.6 326.4h2.36v2.35h-2.36zM497.91 328.7h2.36v2.35h-2.36zM440.16 331h2.36v2.35h-2.36zM511.77 337.9h2.36v2.35h-2.36zM417.06 342.5h2.36v2.35h-2.36zM500.22 342.5h2.36v2.35h-2.36zM435.54 344.8h2.36v2.35h-2.36zM456.33 344.8h2.36v2.35h-2.36zM497.91 344.8h2.36v2.35h-2.36zM412.44 347.1h2.36v2.35h-2.36zM486.36 347.1h2.36v2.35h-2.36zM484.05 358.6h2.36v2.35h-2.36zM460.95 360.9h2.36v2.35h-2.36zM479.43 360.9h2.36v2.35h-2.36zM442.47 365.5h2.36v2.35h-2.36zM486.36 367.8h2.36v2.35h-2.36zM423.99 370.1h2.36v2.35h-2.36zM486.36 372.4h2.36v2.35h-2.36zM437.85 377h2.36v2.35h-2.36z"/>
<path fill="#84b436" d="M497.91 326.4h2.36v2.35h-2.36zM421.68 328.7h2.36v2.35h-2.36zM426.3 331h2.36v2.35h-2.36zM511.77 333.3h2.36v2.35h-2.36zM507.15 335.6h2.36v2.35h-2.36zM516.39 335.6h2.36v2.35h-2.36zM449.4 337.9h2.36v2.35h-2.36zM509.46 337.9h2.36v2.35h-2.36zM417.06 340.2h2.36v2.35h-2.36zM495.6 340.2h2.36v2.35h-2.36zM447.09 342.5h2.36v2.35h-2.36zM410.13 344.8h2.36v2.35h-2.36zM417.06 344.8h2.36v2.35h-2.36zM407.82 347.1h2.36v2.35h-2.36zM410.13 347.1h2.36v2.35h-2.36zM437.85 347.1h2.36v2.35h-2.36zM465.57 347.1h2.36v2.35h-2.36zM490.98 347.1h2.36v2.35h-2.36zM495.6 349.4h2.36v2.35h-2.36zM500.22 349.4h2.36v2.35h-2.36zM481.74 351.7h2.36v2.35h-2.36zM488.67 360.9h2.36v2.35h-2.36zM509.46 363.2h2.36v2.35h-2.36zM440.16 365.5h2.36v2.35h-2.36zM477.12 365.5h2.36v2.35h-2.36zM509.46 365.5h2.36v2.35h-2.36zM458.64 367.8h2.36v2.35h-2.36zM507.15 367.8h2.36v2.35h-2.36zM447.09 372.4h2.36v2.35h-2.36zM467.88 374.7h2.36v2.35h-2.36zM488.67 379.3h2.36v2.35h-2.36zM430.92 381.6h2.36v2.35h-2.36zM433.23 381.6h2.36v2.35h-2.36zM495.6 381.6h2.36v2.35h-2.36zM504.84 381.6h2.36v2.35h-2.36z"/>
<path fill="#90d248" d="M504.84 326.4h2.36v2.35h-2.36zM433.23 331h2.36v2.35h-2.36zM472.5 358.6h2.36v2.35h-2.36z"/>
<path fill="#7ec03c" d="M507.15 326.4h2.36v2.35h-2.36zM435.54 333.3h2.36v2.35h-2.36zM484.05 335.6h2.36v2.35h-2.36zM486.36 335.6h2.36v2.35h-2.36zM481.74 337.9h2.36v2.35h-2.36zM423.99 342.5h2.36v2.35h-2.36zM477.12 349.4h2.36v2.35h-2.36zM449.4 351.7h2.36v2.35h-2.36zM472.5 351.7h2.36v2.35h-2.36zM477.12 351.7h2.36v2.35h-2.36zM477.12 358.6h2.36v2.35h-2.36zM447.09 363.2h2.36v2.35h-2.36z"/>
<path fill="#72ba3c" d="M509.46 326.4h2.36v2.35h-2.36zM437.85 328.7h2.36v2.35h-2.36zM430.92 331h2.36v2.35h-2.36zM504.84 331h2.36v2.35h-2.36zM467.88 335.6h2.36v2.35h-2.36zM486.36 337.9h2.36v2.35h-2.36zM484.05 340.2h2.36v2.35h-2.36zM454.02 351.7h2.36v2.35h-2.36zM454.02 356.3h2.36v2.35h-2.36zM449.4 360.9h2.36v2.35h-2.36z"/>
<path fill="#84c03c" d="M516.39 326.4h2.36v2.35h-2.36zM507.15 328.7h2.36v2.35h-2.36zM458.64 363.2h2.36v2.35h-2.36zM481.74 365.5h2.36v2.35h-2.36zM514.08 367.8h2.36v2.35h-2.36zM511.77 372.4h2.36v2.35h-2.36zM451.71 374.7h2.36v2.35h-2.36zM497.91 377h2.36v2.35h-2.36zM509.46 381.6h2.36v2.35h-2.36z"/>
<path fill="#96b436" d="M403.2 328.7h2.36v2.35h-2.36zM414.75 360.9h2.36v2.35h-2.36zM414.75 363.2h2.36v2.35h-2.36zM474.81 372.4h2.36v2.35h-2.36z"/>
<path fill="#8aa830" d="M405.51 328.7h2.36v2.35h-2.36zM405.51 331h2.36v2.35h-2.36zM403.2 333.3h2.36v2.35h-2.36zM495.6 367.8h2.36v2.35h-2.36zM497.91 372.4h2.36v2.35h-2.36z"/>
<path fill="#a2a230" d="M407.82 328.7h2.36v2.35h-2.36zM477.12 331h2.36v2.35h-2.36zM486.36 331h2.36v2.35h-2.36zM407.82 333.3h2.36v2.35h-2.36zM449.4 333.3h2.36v2.35h-2.36zM465.57 333.3h2.36v2.35h-2.36zM507.15 344.8h2.36v2.35h-2.36zM516.39 344.8h2.36v2.35h-2.36zM403.2 351.7h2.36v2.35h-2.36zM405.51 356.3h2.36v2.35h-2.36zM465.57 356.3h2.36v2.35h-2.36zM470.19 356.3h2.36v2.35h-2.36zM463.26 358.6h2.36v2.35h-2.36zM465.57 358.6h2.36v2.35h-2.36zM430.92 360.9h2.36v2.35h-2.36zM437.85 363.2h2.36v2.35h-2.36zM433.23 365.5h2.36v2.35h-2.36zM414.75 367.8h2.36v2.35h-2.36zM414.75 370.1h2.36v2.35h-2.36zM433.23 370.1h2.36v2.35h-2.36zM440.16 370.1h2.36v2.35h-2.36zM410.13 372.4h2.36v2.35h-2.36zM419.37 372.4h2.36v2.35h-2.36zM403.2 374.7h2.36v2.35h-2.36zM421.68 374.7h2.36v2.35h-2.36zM435.54 374.7h2.36v2.35h-2.36zM440.16 377h2.36v2.35h-2.36zM442.47 377h2.36v2.35h-2.36zM474.81 377h2.36v2.35h-2.36zM477.12 377h2.36v2.35h-2.36zM440.16 379.3h2.36v2.35h-2.36zM454.02 379.3h2.36v2.35h-2.36zM479.43 379.3h2.36v2.35h-2.36zM486.36 379.3h2.36v2.35h-2.36zM412.44 381.6h2.36v2.35h-2.36zM444.78 381.6h2.36v2.35h-2.36zM447.09 381.6h2.36v2.35h-2.36zM484.05 381.6h2.36v2.35h-2.36z"/>
<path fill="#909c2a" d="M410.13 328.7h2.36v2.35h-2.36z"/>
<path fill="#969c2a" d="M414.75 328.7h2.36v2.35h-2.36zM447.09 331h2.36v2.35h-2.36zM472.5 333.3h2.36v2.35h-2.36zM504.84 344.8h2.36v2.35h-2.36zM419.37 370.1h2.36v2.35h-2.36zM405.51 381.6h2.36v2.35h-2.36z"/>
<path fill="#72a830" d="M428.61 328.7h2.36v2.35h-2.36z"/>
<path fill="#8ad242" d="M430.92 328.7h2.36v2.35h-2.36zM470.19 342.5h2.36v2.35h-2.36z"/>
<path fill="#72b436" d="M433.23 328.7h2.36v2.35h-2.36zM507.15 331h2.36v2.35h-2.36zM428.61 340.2h2.36v2.35h-2.36zM467.88 340.2h2.36v2.35h-2.36zM479.43 342.5h2.36v2.35h-2.36zM481.74 342.5h2.36v2.35h-2.36z"/>
<path fill="#6cba36" d="M435.54 328.7h2.36v2.35h-2.36zM454.02 365.5h2.36v2.35h-2.36z"/>
<path fill="#90ba3c" d="M440.16 328.7h2.36v2.35h-2.36zM419.37 333.3h2.36v2.35h-2.36zM460.95 344.8h2.36v2.35h-2.36zM463.26 349.4h2.36v2.35h-2.36zM421.68 351.7h2.36v2.35h-2.36zM407.82 354h2.36v2.35h-2.36zM479.43 354h2.36v2.35h-2.36zM493.29 374.7h2.36v2.35h-2.36z"/>
<path fill="#78ae36" d="M442.47 328.7h2.36v2.35h-2.36zM500.22 331h2.36v2.35h-2.36zM495.6 335.6h2.36v2.35h-2.36zM511.77 340.2h2.36v2.35h-2.36zM500.22 347.1h2.36v2.35h-2.36zM456.33 351.7h2.36v2.35h-2.36zM479.43 356.3h2.36v2.35h-2.36zM497.91 365.5h2.36v2.35h-2.36zM504.84 379.3h2.36v2.35h-2.36z"/>
<path fill="#84ba3c" d="M444.78 328.7h2.36v2.35h-2.36zM488.67 335.6h2.36v2.35h-2.36zM451.71 340.2h2.36v2.35h-2.36zM507.15 340.2h2.36v2.35h-2.36zM449.4 342.5h2.36v2.35h-2.36zM495.6 344.8h2.36v2.35h-2.36zM460.95 349.4h2.36v2.35h-2.36zM490.98 349.4h2.36v2.35h-2.36zM497.91 349.4h2.36v2.35h-2.36zM414.75 351.7h2.36v2.35h-2.36zM421.68 356.3h2.36v2.35h-2.36zM474.81 360.9h2.36v2.35h-2.36zM493.29 363.2h2.36v2.35h-2.36zM493.29 365.5h2.36v2.35h-2.36zM516.39 367.8h2.36v2.35h-2.36zM454.02 370.1h2.36v2.35h-2.36zM423.99 374.7h2.36v2.35h-2.36zM426.3 374.7h2.36v2.35h-2.36z"/>
<path fill="#5aae6c" d="M458.64 328.7h2.36v2.35h-2.36zM481.74 331h2.36v2.35h-2.36zM477.12 333.3h2.36v2.35h-2.36zM419.37 335.6h2.36v2.35h-2.36zM442.47 335.6h2.36v2.35h-2.36zM460.95 337.9h2.36v2.35h-2.36zM430.92 344.8h2.36v2.35h-2.36zM451.71 354h2.36v2.35h-2.36zM412.44 356.3h2.36v2.35h-2.36zM405.51 358.6h2.36v2.35h-2.36zM428.61 358.6h2.36v2.35h-2.36zM407.82 363.2h2.36v2.35h-2.36zM467.88 365.5h2.36v2.35h-2.36zM451.71 367.8h2.36v2.35h-2.36zM456.33 367.8h2.36v2.35h-2.36zM467.88 367.8h2.36v2.35h-2.36zM433.23 372.4h2.36v2.35h-2.36zM484.05 372.4h2.36v2.35h-2.36zM456.33 377h2.36v2.35h-2.36zM484.05 377h2.36v2.35h-2.36zM430.92 379.3h2.36v2.35h-2.36z"/>
<path fill="#baae36" d="M463.26 328.7h2.36v2.35h-2.36z"/>
<path fill="#9c962a" d="M465.57 328.7h2.36v2.35h-2.36z"/>
<path fill="#a29c2a" d="M484.05 328.7h2.36v2.35h-2.36zM484.05 331h2.36v2.35h-2.36zM454.02 381.6h2.36v2.35h-2.36zM474.81 381.6h2.36v2.35h-2.36z"/>
<path fill="#7eae36" d="M500.22 328.7h2.36v2.35h-2.36zM497.91 340.2h2.36v2.35h-2.36zM504.84 342.5h2.36v2.35h-2.36zM437.85 344.8h2.36v2.35h-2.36zM497.91 347.1h2.36v2.35h-2.36zM410.13 349.4h2.36v2.35h-2.36zM490.98 363.2h2.36v2.35h-2.36zM456.33 365.5h2.36v2.35h-2.36zM504.84 367.8h2.36v2.35h-2.36zM507.15 377h2.36v2.35h-2.36zM502.53 381.6h2.36v2.35h-2.36z"/>
<path fill="#78c03c" d="M504.84 328.7h2.36v2.35h-2.36zM437.85 331h2.36v2.35h-2.36zM423.99 335.6h2.36v2.35h-2.36zM456.33 335.6h2.36v2.35h-2.36zM458.64 335.6h2.36v2.35h-2.36zM463.26 335.6h2.36v2.35h-2.36zM426.3 337.9h2.36v2.35h-2.36zM428.61 337.9h2.36v2.35h-2.36zM463.26 337.9h2.36v2.35h-2.36zM467.88 337.9h2.36v2.35h-2.36zM463.26 340.2h2.36v2.35h-2.36zM481.74 340.2h2.36v2.35h-2.36zM426.3 342.5h2.36v2.35h-2.36zM472.5 354h2.36v2.35h-2.36zM477.12 354h2.36v2.35h-2.36zM474.81 356.3h2.36v2.35h-2.36zM477.12 356.3h2.36v2.35h-2.36zM454.02 363.2h2.36v2.35h-2.36z"/>
<path fill="#7ec642" d="M509.46 328.7h2.36v2.35h-2.36zM437.85 333.3h2.36v2.35h-2.36zM428.61 335.6h2.36v2.35h-2.36zM423.99 337.9h2.36v2.35h-2.36zM484.05 337.9h2.36v2.35h-2.36zM479.43 340.2h2.36v2.35h-2.36zM456.33 342.5h2.36v2.35h-2.36zM460.95 342.5h2.36v2.35h-2.36zM472.5 347.1h2.36v2.35h-2.36zM474.81 347.1h2.36v2.35h-2.36zM477.12 347.1h2.36v2.35h-2.36zM474.81 351.7h2.36v2.35h-2.36zM451.71 356.3h2.36v2.35h-2.36zM449.4 363.2h2.36v2.35h-2.36z"/>
<path fill="#9cb436" d="M403.2 331h2.36v2.35h-2.36zM407.82 360.9h2.36v2.35h-2.36zM414.75 365.5h2.36v2.35h-2.36zM474.81 370.1h2.36v2.35h-2.36zM500.22 372.4h2.36v2.35h-2.36z"/>
<path fill="#9ca230" d="M407.82 331h2.36v2.35h-2.36zM410.13 333.3h2.36v2.35h-2.36zM447.09 333.3h2.36v2.35h-2.36zM516.39 351.7h2.36v2.35h-2.36zM509.46 354h2.36v2.35h-2.36zM405.51 365.5h2.36v2.35h-2.36zM437.85 365.5h2.36v2.35h-2.36zM403.2 377h2.36v2.35h-2.36z"/>
<path fill="#96c63c" d="M417.06 331h2.36v2.35h-2.36zM493.29 344.8h2.36v2.35h-2.36zM479.43 358.6h2.36v2.35h-2.36zM460.95 365.5h2.36v2.35h-2.36zM514.08 365.5h2.36v2.35h-2.36zM516.39 365.5h2.36v2.35h-2.36zM460.95 374.7h2.36v2.35h-2.36zM490.98 374.7h2.36v2.35h-2.36zM514.08 374.7h2.36v2.35h-2.36zM495.6 377h2.36v2.35h-2.36zM497.91 379.3h2.36v2.35h-2.36z"/>
<path fill="#78b436" d="M421.68 331h2.36v2.35h-2.36zM481.74 335.6h2.36v2.35h-2.36zM463.26 344.8h2.36v2.35h-2.36zM484.05 360.9h2.36v2.35h-2.36zM437.85 381.6h2.36v2.35h-2.36z"/>
<path fill="#84cc42" d="M435.54 331h2.36v2.35h-2.36zM509.46 331h2.36v2.35h-2.36zM486.36 340.2h2.36v2.35h-2.36zM451.71 351.7h2.36v2.35h-2.36zM447.09 354h2.36v2.35h-2.36zM454.02 354h2.36v2.35h-2.36zM474.81 354h2.36v2.35h-2.36zM451.71 358.6h2.36v2.35h-2.36zM449.4 365.5h2.36v2.35h-2.36z"/>
<path fill="#bab436" d="M451.71 331h2.36v2.35h-2.36zM490.98 331h2.36v2.35h-2.36zM467.88 356.3h2.36v2.35h-2.36zM435.54 363.2h2.36v2.35h-2.36zM403.2 365.5h2.36v2.35h-2.36zM403.2 381.6h2.36v2.35h-2.36zM428.61 381.6h2.36v2.35h-2.36z"/>
<path fill="#baba3c" d="M463.26 331h2.36v2.35h-2.36zM465.57 351.7h2.36v2.35h-2.36zM507.15 358.6h2.36v2.35h-2.36zM421.68 367.8h2.36v2.35h-2.36zM405.51 377h2.36v2.35h-2.36zM426.3 381.6h2.36v2.35h-2.36z"/>
<path fill="#9ca830" d="M465.57 331h2.36v2.35h-2.36zM451.71 377h2.36v2.35h-2.36z"/>
<path fill="#909024" d="M470.19 331h2.36v2.35h-2.36zM465.57 354h2.36v2.35h-2.36z"/>
<path fill="#aea830" d="M472.5 331h2.36v2.35h-2.36zM414.75 333.3h2.36v2.35h-2.36zM507.15 356.3h2.36v2.35h-2.36zM433.23 360.9h2.36v2.35h-2.36zM430.92 363.2h2.36v2.35h-2.36zM437.85 367.8h2.36v2.35h-2.36zM419.37 374.7h2.36v2.35h-2.36zM433.23 374.7h2.36v2.35h-2.36zM444.78 379.3h2.36v2.35h-2.36zM474.81 379.3h2.36v2.35h-2.36z"/>
<path fill="#7eba36" d="M495.6 331h2.36v2.35h-2.36zM421.68 335.6h2.36v2.35h-2.36zM500.22 335.6h2.36v2.35h-2.36zM419.37 337.9h2.36v2.35h-2.36zM407.82 349.4h2.36v2.35h-2.36zM470.19 349.4h2.36v2.35h-2.36zM514.08 377h2.36v2.35h-2.36zM502.53 379.3h2.36v2.35h-2.36z"/>
<path fill="#72ae30" d="M514.08 331h2.36v2.35h-2.36zM419.37 360.9h2.36v2.35h-2.36zM488.67 372.4h2.36v2.35h-2.36z"/>
<path fill="#9cba3c" d="M405.51 333.3h2.36v2.35h-2.36zM407.82 365.5h2.36v2.35h-2.36z"/>
<path fill="#84c642" d="M430.92 333.3h2.36v2.35h-2.36zM504.84 333.3h2.36v2.35h-2.36zM479.43 335.6h2.36v2.35h-2.36zM456.33 337.9h2.36v2.35h-2.36zM458.64 337.9h2.36v2.35h-2.36zM423.99 340.2h2.36v2.35h-2.36zM486.36 342.5h2.36v2.35h-2.36zM472.5 344.8h2.36v2.35h-2.36zM474.81 344.8h2.36v2.35h-2.36zM474.81 358.6h2.36v2.35h-2.36zM454.02 360.9h2.36v2.35h-2.36z"/>
<path fill="#90962a" d="M451.71 333.3h2.36v2.35h-2.36zM514.08 351.7h2.36v2.35h-2.36zM516.39 354h2.36v2.35h-2.36zM403.2 379.3h2.36v2.35h-2.36zM472.5 381.6h2.36v2.35h-2.36z"/>
<path fill="#84ae36" d="M495.6 333.3h2.36v2.35h-2.36zM465.57 372.4h2.36v2.35h-2.36z"/>
<path fill="#78a830" d="M502.53 333.3h2.36v2.35h-2.36zM460.95 370.1h2.36v2.35h-2.36zM479.43 374.7h2.36v2.35h-2.36z"/>
<path fill="#72ba36" d="M507.15 333.3h2.36v2.35h-2.36z"/>
<path fill="#8ac642" d="M509.46 333.3h2.36v2.35h-2.36z"/>
<path fill="#8aba36" d="M516.39 333.3h2.36v2.35h-2.36zM511.77 335.6h2.36v2.35h-2.36zM421.68 342.5h2.36v2.35h-2.36zM481.74 344.8h2.36v2.35h-2.36zM481.74 347.1h2.36v2.35h-2.36zM460.95 351.7h2.36v2.35h-2.36zM412.44 354h2.36v2.35h-2.36zM458.64 354h2.36v2.35h-2.36zM417.06 356.3h2.36v2.35h-2.36zM458.64 356.3h2.36v2.35h-2.36zM421.68 360.9h2.36v2.35h-2.36zM477.12 363.2h2.36v2.35h-2.36zM500.22 363.2h2.36v2.35h-2.36zM516.39 363.2h2.36v2.35h-2.36zM504.84 370.1h2.36v2.35h-2.36zM428.61 372.4h2.36v2.35h-2.36zM504.84 372.4h2.36v2.35h-2.36zM516.39 372.4h2.36v2.35h-2.36zM454.02 374.7h2.36v2.35h-2.36zM488.67 374.7h2.36v2.35h-2.36zM488.67 377h2.36v2.35h-2.36zM516.39 379.3h2.36v2.35h-2.36z"/>
<path fill="#66c042" d="M403.2 335.6h2.36v2.35h-2.36zM477.12 337.9h2.36v2.35h-2.36zM447.09 344.8h2.36v2.35h-2.36zM497.91 354h2.36v2.35h-2.36z"/>
<path fill="#90de4e" d="M405.51 335.6h2.36v2.35h-2.36z"/>
<path fill="#60d248" d="M407.82 335.6h2.36v2.35h-2.36zM412.44 337.9h2.36v2.35h-2.36zM440.16 337.9h2.36v2.35h-2.36zM442.47 337.9h2.36v2.35h-2.36zM444.78 337.9h2.36v2.35h-2.36zM430.92 342.5h2.36v2.35h-2.36zM444.78 356.3h2.36v2.35h-2.36zM463.26 363.2h2.36v2.35h-2.36z"/>
<path fill="#66d24e" d="M410.13 335.6h2.36v2.35h-2.36zM435.54 335.6h2.36v2.35h-2.36z"/>
<path fill="#54c648" d="M412.44 335.6h2.36v2.35h-2.36zM442.47 344.8h2.36v2.35h-2.36zM444.78 344.8h2.36v2.35h-2.36z"/>
<path fill="#60cc48" d="M414.75 335.6h2.36v2.35h-2.36zM444.78 340.2h2.36v2.35h-2.36zM426.3 358.6h2.36v2.35h-2.36zM465.57 363.2h2.36v2.35h-2.36z"/>
<path fill="#9ccc42" d="M417.06 335.6h2.36v2.35h-2.36zM497.91 335.6h2.36v2.35h-2.36zM493.29 337.9h2.36v2.35h-2.36zM502.53 337.9h2.36v2.35h-2.36zM484.05 351.7h2.36v2.35h-2.36zM509.46 360.9h2.36v2.35h-2.36zM488.67 370.1h2.36v2.35h-2.36zM449.4 372.4h2.36v2.35h-2.36z"/>
<path fill="#7ec63c" d="M426.3 335.6h2.36v2.35h-2.36zM465.57 340.2h2.36v2.35h-2.36z"/>
<path fill="#5ad84e" d="M430.92 335.6h2.36v2.35h-2.36z"/>
<path fill="#5ad248" d="M437.85 335.6h2.36v2.35h-2.36zM410.13 337.9h2.36v2.35h-2.36zM442.47 351.7h2.36v2.35h-2.36zM444.78 354h2.36v2.35h-2.36zM423.99 356.3h2.36v2.35h-2.36z"/>
<path fill="#72e454" d="M444.78 335.6h2.36v2.35h-2.36z"/>
<path fill="#7eae30" d="M449.4 335.6h2.36v2.35h-2.36zM516.39 377h2.36v2.35h-2.36z"/>
<path fill="#8ab436" d="M454.02 335.6h2.36v2.35h-2.36zM470.19 347.1h2.36v2.35h-2.36zM488.67 347.1h2.36v2.35h-2.36zM417.06 351.7h2.36v2.35h-2.36zM428.61 367.8h2.36v2.35h-2.36zM507.15 372.4h2.36v2.35h-2.36z"/>
<path fill="#78ba3c" d="M460.95 335.6h2.36v2.35h-2.36zM460.95 340.2h2.36v2.35h-2.36zM449.4 356.3h2.36v2.35h-2.36zM451.71 360.9h2.36v2.35h-2.36zM447.09 365.5h2.36v2.35h-2.36z"/>
<path fill="#72c642" d="M472.5 335.6h2.36v2.35h-2.36zM474.81 340.2h2.36v2.35h-2.36zM405.51 347.1h2.36v2.35h-2.36zM428.61 349.4h2.36v2.35h-2.36zM437.85 351.7h2.36v2.35h-2.36zM435.54 358.6h2.36v2.35h-2.36z"/>
<path fill="#78cc42" d="M474.81 335.6h2.36v2.35h-2.36z"/>
<path fill="#60ba3c" d="M477.12 335.6h2.36v2.35h-2.36zM423.99 349.4h2.36v2.35h-2.36zM495.6 356.3h2.36v2.35h-2.36zM502.53 356.3h2.36v2.35h-2.36zM500.22 358.6h2.36v2.35h-2.36z"/>
<path fill="#96c03c" d="M502.53 335.6h2.36v2.35h-2.36zM486.36 351.7h2.36v2.35h-2.36zM410.13 356.3h2.36v2.35h-2.36zM426.3 372.4h2.36v2.35h-2.36z"/>
<path fill="#96cc42" d="M509.46 335.6h2.36v2.35h-2.36zM435.54 347.1h2.36v2.35h-2.36zM484.05 347.1h2.36v2.35h-2.36zM497.91 363.2h2.36v2.35h-2.36zM458.64 365.5h2.36v2.35h-2.36zM514.08 372.4h2.36v2.35h-2.36zM490.98 381.6h2.36v2.35h-2.36z"/>
<path fill="#6cc03c" d="M403.2 337.9h2.36v2.35h-2.36zM454.02 344.8h2.36v2.35h-2.36z"/>
<path fill="#7ed248" d="M405.51 337.9h2.36v2.35h-2.36zM477.12 342.5h2.36v2.35h-2.36z"/>
<path fill="#4ecc48" d="M407.82 337.9h2.36v2.35h-2.36z"/>
<path fill="#66d84e" d="M414.75 337.9h2.36v2.35h-2.36zM437.85 342.5h2.36v2.35h-2.36zM442.47 347.1h2.36v2.35h-2.36zM423.99 351.7h2.36v2.35h-2.36zM470.19 365.5h2.36v2.35h-2.36z"/>
<path fill="#5acc48" d="M430.92 337.9h2.36v2.35h-2.36zM440.16 340.2h2.36v2.35h-2.36zM410.13 342.5h2.36v2.35h-2.36zM440.16 344.8h2.36v2.35h-2.36zM440.16 349.4h2.36v2.35h-2.36zM440.16 351.7h2.36v2.35h-2.36zM440.16 354h2.36v2.35h-2.36zM428.61 356.3h2.36v2.35h-2.36zM442.47 356.3h2.36v2.35h-2.36zM444.78 358.6h2.36v2.35h-2.36zM463.26 360.9h2.36v2.35h-2.36zM467.88 360.9h2.36v2.35h-2.36zM463.26 365.5h2.36v2.35h-2.36z"/>
<path fill="#66de4e" d="M433.23 337.9h2.36v2.35h-2.36zM414.75 340.2h2.36v2.35h-2.36z"/>
<path fill="#4ec642" d="M435.54 337.9h2.36v2.35h-2.36zM442.47 340.2h2.36v2.35h-2.36zM444.78 349.4h2.36v2.35h-2.36zM428.61 351.7h2.36v2.35h-2.36zM440.16 358.6h2.36v2.35h-2.36zM470.19 360.9h2.36v2.35h-2.36z"/>
<path fill="#72de54" d="M437.85 337.9h2.36v2.35h-2.36z"/>
<path fill="#8acc42" d="M465.57 337.9h2.36v2.35h-2.36zM470.19 337.9h2.36v2.35h-2.36zM426.3 340.2h2.36v2.35h-2.36zM428.61 342.5h2.36v2.35h-2.36zM472.5 349.4h2.36v2.35h-2.36zM474.81 349.4h2.36v2.35h-2.36zM449.4 358.6h2.36v2.35h-2.36zM451.71 363.2h2.36v2.35h-2.36z"/>
<path fill="#6cc642" d="M472.5 337.9h2.36v2.35h-2.36zM405.51 342.5h2.36v2.35h-2.36zM423.99 344.8h2.36v2.35h-2.36zM428.61 344.8h2.36v2.35h-2.36zM426.3 347.1h2.36v2.35h-2.36zM451.71 347.1h2.36v2.35h-2.36zM430.92 351.7h2.36v2.35h-2.36zM435.54 351.7h2.36v2.35h-2.36zM435.54 354h2.36v2.35h-2.36zM495.6 354h2.36v2.35h-2.36zM502.53 354h2.36v2.35h-2.36zM500.22 356.3h2.36v2.35h-2.36zM433.23 358.6h2.36v2.35h-2.36z"/>
<path fill="#66c03c" d="M474.81 337.9h2.36v2.35h-2.36zM405.51 340.2h2.36v2.35h-2.36zM497.91 358.6h2.36v2.35h-2.36z"/>
<path fill="#9cc642" d="M514.08 337.9h2.36v2.35h-2.36zM502.53 344.8h2.36v2.35h-2.36zM495.6 360.9h2.36v2.35h-2.36z"/>
<path fill="#6cc042" d="M403.2 340.2h2.36v2.35h-2.36zM426.3 344.8h2.36v2.35h-2.36zM449.4 344.8h2.36v2.35h-2.36zM403.2 347.1h2.36v2.35h-2.36zM449.4 347.1h2.36v2.35h-2.36zM435.54 356.3h2.36v2.35h-2.36z"/>
<path fill="#5ad24e" d="M410.13 340.2h2.36v2.35h-2.36zM423.99 354h2.36v2.35h-2.36z"/>
<path fill="#54cc48" d="M412.44 340.2h2.36v2.35h-2.36zM407.82 342.5h2.36v2.35h-2.36zM414.75 342.5h2.36v2.35h-2.36zM435.54 342.5h2.36v2.35h-2.36zM442.47 342.5h2.36v2.35h-2.36zM440.16 347.1h2.36v2.35h-2.36zM442.47 349.4h2.36v2.35h-2.36zM444.78 351.7h2.36v2.35h-2.36zM442.47 354h2.36v2.35h-2.36zM470.19 363.2h2.36v2.35h-2.36z"/>
<path fill="#54c642" d="M430.92 340.2h2.36v2.35h-2.36zM444.78 342.5h2.36v2.35h-2.36zM467.88 363.2h2.36v2.35h-2.36zM465.57 365.5h2.36v2.35h-2.36z"/>
<path fill="#60d24e" d="M433.23 340.2h2.36v2.35h-2.36z"/>
<path fill="#6cd84e" d="M435.54 340.2h2.36v2.35h-2.36zM437.85 340.2h2.36v2.35h-2.36z"/>
<path fill="#7ecc42" d="M456.33 340.2h2.36v2.35h-2.36z"/>
<path fill="#66b436" d="M458.64 340.2h2.36v2.35h-2.36z"/>
<path fill="#8ad248" d="M470.19 340.2h2.36v2.35h-2.36zM447.09 360.9h2.36v2.35h-2.36z"/>
<path fill="#60c03c" d="M472.5 340.2h2.36v2.35h-2.36zM497.91 356.3h2.36v2.35h-2.36z"/>
<path fill="#7ed848" d="M477.12 340.2h2.36v2.35h-2.36z"/>
<path fill="#78ae30" d="M502.53 340.2h2.36v2.35h-2.36zM467.88 344.8h2.36v2.35h-2.36zM486.36 344.8h2.36v2.35h-2.36zM421.68 349.4h2.36v2.35h-2.36zM456.33 358.6h2.36v2.35h-2.36zM486.36 360.9h2.36v2.35h-2.36z"/>
<path fill="#6ccc42" d="M403.2 342.5h2.36v2.35h-2.36zM437.85 356.3h2.36v2.35h-2.36z"/>
<path fill="#6cde4e" d="M412.44 342.5h2.36v2.35h-2.36zM433.23 342.5h2.36v2.35h-2.36zM428.61 354h2.36v2.35h-2.36z"/>
<path fill="#48c042" d="M440.16 342.5h2.36v2.35h-2.36z"/>
<path fill="#90d242" d="M458.64 342.5h2.36v2.35h-2.36z"/>
<path fill="#72cc48" d="M472.5 342.5h2.36v2.35h-2.36zM449.4 349.4h2.36v2.35h-2.36zM502.53 351.7h2.36v2.35h-2.36z"/>
<path fill="#60b43c" d="M474.81 342.5h2.36v2.35h-2.36z"/>
<path fill="#78c642" d="M484.05 342.5h2.36v2.35h-2.36z"/>
<path fill="#84d848" d="M403.2 344.8h2.36v2.35h-2.36zM495.6 351.7h2.36v2.35h-2.36zM430.92 354h2.36v2.35h-2.36z"/>
<path fill="#72cc42" d="M405.51 344.8h2.36v2.35h-2.36zM423.99 347.1h2.36v2.35h-2.36zM447.09 347.1h2.36v2.35h-2.36zM403.2 349.4h2.36v2.35h-2.36zM447.09 349.4h2.36v2.35h-2.36zM454.02 349.4h2.36v2.35h-2.36zM430.92 356.3h2.36v2.35h-2.36z"/>
<path fill="#a2d242" d="M412.44 344.8h2.36v2.35h-2.36zM463.26 370.1h2.36v2.35h-2.36z"/>
<path fill="#78cc48" d="M451.71 344.8h2.36v2.35h-2.36zM497.91 351.7h2.36v2.35h-2.36zM502.53 358.6h2.36v2.35h-2.36z"/>
<path fill="#60d84e" d="M444.78 347.1h2.36v2.35h-2.36z"/>
<path fill="#84d84e" d="M454.02 347.1h2.36v2.35h-2.36z"/>
<path fill="#78d248" d="M405.51 349.4h2.36v2.35h-2.36zM437.85 354h2.36v2.35h-2.36zM500.22 354h2.36v2.35h-2.36zM433.23 356.3h2.36v2.35h-2.36zM437.85 358.6h2.36v2.35h-2.36z"/>
<path fill="#60c042" d="M426.3 349.4h2.36v2.35h-2.36z"/>
<path fill="#7eba3c" d="M430.92 349.4h2.36v2.35h-2.36zM481.74 360.9h2.36v2.35h-2.36zM451.71 365.5h2.36v2.35h-2.36z"/>
<path fill="#7ecc48" d="M451.71 349.4h2.36v2.35h-2.36z"/>
<path fill="#a2cc42" d="M479.43 349.4h2.36v2.35h-2.36zM484.05 349.4h2.36v2.35h-2.36zM493.29 370.1h2.36v2.35h-2.36z"/>
<path fill="#8a962a" d="M463.26 351.7h2.36v2.35h-2.36z"/>
<path fill="#d8a836" d="M488.67 351.7h2.36v2.35h-2.36z"/>
<path fill="#d8a236" d="M490.98 351.7h2.36v2.35h-2.36zM490.98 354h2.36v2.35h-2.36z"/>
<path fill="#cc9c30" d="M493.29 351.7h2.36v2.35h-2.36zM460.95 379.3h2.36v2.35h-2.36zM456.33 381.6h2.36v2.35h-2.36zM465.57 381.6h2.36v2.35h-2.36zM467.88 381.6h2.36v2.35h-2.36z"/>
<path fill="#72d248" d="M500.22 351.7h2.36v2.35h-2.36z"/>
<path fill="#48c642" d="M426.3 354h2.36v2.35h-2.36z"/>
<path fill="#78d848" d="M433.23 354h2.36v2.35h-2.36z"/>
<path fill="#ba902a" d="M488.67 354h2.36v2.35h-2.36zM458.64 377h2.36v2.35h-2.36zM458.64 379.3h2.36v2.35h-2.36zM470.19 379.3h2.36v2.35h-2.36z"/>
<path fill="#4ec648" d="M440.16 356.3h2.36v2.35h-2.36zM423.99 358.6h2.36v2.35h-2.36z"/>
<path fill="#c09630" d="M490.98 356.3h2.36v2.35h-2.36z"/>
<path fill="#c0962a" d="M493.29 356.3h2.36v2.35h-2.36zM488.67 358.6h2.36v2.35h-2.36zM493.29 358.6h2.36v2.35h-2.36zM417.06 377h2.36v2.35h-2.36zM465.57 377h2.36v2.35h-2.36zM465.57 379.3h2.36v2.35h-2.36zM419.37 381.6h2.36v2.35h-2.36zM458.64 381.6h2.36v2.35h-2.36z"/>
<path fill="#5ab436" d="M430.92 358.6h2.36v2.35h-2.36z"/>
<path fill="#c6c03c" d="M467.88 358.6h2.36v2.35h-2.36zM426.3 365.5h2.36v2.35h-2.36z"/>
<path fill="#9cd242" d="M486.36 358.6h2.36v2.35h-2.36z"/>
<path fill="#5ab43c" d="M495.6 358.6h2.36v2.35h-2.36z"/>
<path fill="#a8c03c" d="M410.13 360.9h2.36v2.35h-2.36z"/>
<path fill="#90a830" d="M412.44 360.9h2.36v2.35h-2.36zM497.91 367.8h2.36v2.35h-2.36zM500.22 367.8h2.36v2.35h-2.36z"/>
<path fill="#9cb43c" d="M410.13 363.2h2.36v2.35h-2.36zM472.5 374.7h2.36v2.35h-2.36z"/>
<path fill="#84a230" d="M412.44 363.2h2.36v2.35h-2.36zM472.5 367.8h2.36v2.35h-2.36z"/>
<path fill="#b4b43c" d="M407.82 367.8h2.36v2.35h-2.36z"/>
<path fill="#96962a" d="M430.92 367.8h2.36v2.35h-2.36zM414.75 374.7h2.36v2.35h-2.36z"/>
<path fill="#aea836" d="M442.47 367.8h2.36v2.35h-2.36zM412.44 370.1h2.36v2.35h-2.36zM403.2 372.4h2.36v2.35h-2.36zM421.68 372.4h2.36v2.35h-2.36zM410.13 374.7h2.36v2.35h-2.36zM440.16 374.7h2.36v2.35h-2.36zM410.13 379.3h2.36v2.35h-2.36zM477.12 381.6h2.36v2.35h-2.36z"/>
<path fill="#a2d248" d="M454.02 367.8h2.36v2.35h-2.36zM456.33 374.7h2.36v2.35h-2.36z"/>
<path fill="#90ae36" d="M477.12 367.8h2.36v2.35h-2.36zM497.91 370.1h2.36v2.35h-2.36zM502.53 372.4h2.36v2.35h-2.36zM502.53 374.7h2.36v2.35h-2.36z"/>
<path fill="#a2b43c" d="M502.53 367.8h2.36v2.35h-2.36z"/>
<path fill="#bab43c" d="M421.68 370.1h2.36v2.35h-2.36z"/>
<path fill="#a2ba3c" d="M477.12 370.1h2.36v2.35h-2.36zM495.6 370.1h2.36v2.35h-2.36zM477.12 372.4h2.36v2.35h-2.36z"/>
<path fill="#8aa230" d="M500.22 370.1h2.36v2.35h-2.36z"/>
<path fill="#aeb436" d="M440.16 372.4h2.36v2.35h-2.36z"/>
<path fill="#90c642" d="M458.64 372.4h2.36v2.35h-2.36zM488.67 381.6h2.36v2.35h-2.36z"/>
<path fill="#a8d242" d="M463.26 372.4h2.36v2.35h-2.36z"/>
<path fill="#aec642" d="M474.81 374.7h2.36v2.35h-2.36z"/>
<path fill="#84a830" d="M477.12 374.7h2.36v2.35h-2.36z"/>
<path fill="#aec03c" d="M497.91 374.7h2.36v2.35h-2.36z"/>
<path fill="#c0902a" d="M419.37 377h2.36v2.35h-2.36zM419.37 379.3h2.36v2.35h-2.36zM421.68 381.6h2.36v2.35h-2.36zM463.26 381.6h2.36v2.35h-2.36z"/>
<path fill="#d29c30" d="M421.68 377h2.36v2.35h-2.36z"/>
<path fill="#c09c30" d="M460.95 377h2.36v2.35h-2.36z"/>
<path fill="#d2a236" d="M463.26 377h2.36v2.35h-2.36z"/>
<path fill="#c69630" d="M467.88 377h2.36v2.35h-2.36zM417.06 381.6h2.36v2.35h-2.36z"/>
<path fill="#c6902a" d="M470.19 377h2.36v2.35h-2.36z"/>
<path fill="#b48a24" d="M417.06 379.3h2.36v2.35h-2.36zM421.68 379.3h2.36v2.35h-2.36zM467.88 379.3h2.36v2.35h-2.36z"/>
<path fill="#c69c30" d="M456.33 379.3h2.36v2.35h-2.36z"/>
<path fill="#c0ba3c" d="M442.47 381.6h2.36v2.35h-2.36zM449.4 381.6h2.36v2.35h-2.36z"/>
<path fill="#b48424" d="M470.19 381.6h2.36v2.35h-2.36z"/>
</g>
<text x="459.45" y="393.12" font-size="7" text-anchor="middle" transform="rotate(0.03 459.45 393.12)">x−direction (20 m)</text>
<text x="390.6" y="364.7" font-size="7" text-anchor="middle" transform="rotate(-90 390.6 364.7)">y-direction</text>
<text x="398.5" y="364.7" font-size="7" text-anchor="middle" transform="rotate(-90 398.5 364.7)">(20 m)</text>
<rect x="523.6" y="331" width="8.8" height="6.64" fill="#2846d2"/>
<rect x="523.6" y="337.54" width="8.8" height="6.64" fill="#2864c8"/>
<rect x="523.6" y="344.08" width="8.8" height="6.64" fill="#1e82aa"/>
<rect x="523.6" y="350.62" width="8.8" height="6.64" fill="#28968c"/>
<rect x="523.6" y="357.16" width="8.8" height="6.64" fill="#3caa6e"/>
<rect x="523.6" y="363.7" width="8.8" height="6.64" fill="#78b43c"/>
<rect x="523.6" y="370.24" width="8.8" height="6.64" fill="#a0a528"/>
<rect x="523.6" y="376.78" width="8.8" height="6.64" fill="#be8c1e"/>
<rect x="523.6" y="383.32" width="8.8" height="6.64" fill="#c85a14"/>
<rect x="523.6" y="389.86" width="8.8" height="6.64" fill="#824614"/>
<text x="534.2" y="334.87" font-size="5.2" text-anchor="start" transform="rotate(0.03 534.2 334.87)" stroke-width="0.08">3.2</text>
<text x="534.2" y="341.59" font-size="5.2" text-anchor="start" transform="rotate(0.03 534.2 341.59)" stroke-width="0.08">2.7</text>
<text x="534.2" y="348.32" font-size="5.2" text-anchor="start" transform="rotate(0.03 534.2 348.32)" stroke-width="0.08">2.2</text>
<text x="534.2" y="355.04" font-size="5.2" text-anchor="start" transform="rotate(0.03 534.2 355.04)" stroke-width="0.08">1.7</text>
<text x="534.2" y="361.76" font-size="5.2" text-anchor="start" transform="rotate(0.03 534.2 361.76)" stroke-width="0.08">1.2</text>
<text x="534.2" y="368.48" font-size="5.2" text-anchor="start" transform="rotate(0.03 534.2 368.48)" stroke-width="0.08">0.8</text>
<text x="534.2" y="375.21" font-size="5.2" text-anchor="start" transform="rotate(0.03 534.2 375.21)" stroke-width="0.08">0.3</text>
<text x="534.2" y="381.93" font-size="5.2" text-anchor="start" transform="rotate(0.03 534.2 381.93)" stroke-width="0.08">−0.2</text>
<text x="534.2" y="388.65" font-size="5.2" text-anchor="start" transform="rotate(0.03 534.2 388.65)" stroke-width="0.08">−0.7</text>
<text x="534.2" y="395.37" font-size="5.2" text-anchor="start" transform="rotate(0.03 534.2 395.37)" stroke-width="0.08">−1.2</text>
<text x="522.5" y="328.06" font-size="6" text-anchor="start" transform="rotate(0.03 522.5 328.06)" stroke-width="0.08">slope <tspan font-style="italic">s</tspan></text>
<rect x="435.5" y="429.5" width="4.2" height="0.8" fill="#ababab"/>
<rect x="440.9" y="427.5" width="4.2" height="2.8" fill="#ababab"/>
<rect x="446.3" y="419.3" width="4.3" height="11" fill="#ababab"/>
<rect x="451.6" y="410.3" width="4.3" height="20" fill="#ababab"/>
<rect x="457" y="404.8" width="4.2" height="25.5" fill="#ababab"/>
<rect x="462.3" y="405.9" width="4.3" height="24.4" fill="#ababab"/>
<rect x="467.6" y="413.2" width="4.3" height="17.1" fill="#ababab"/>
<rect x="473" y="421.9" width="4.3" height="8.4" fill="#ababab"/>
<rect x="478.3" y="426.6" width="4.3" height="3.7" fill="#ababab"/>
<rect x="483.7" y="429.2" width="4.2" height="1.1" fill="#ababab"/>
<rect x="489" y="430" width="4.2" height="0.3" fill="#ababab"/>
<rect x="403.8" y="402.6" width="115.4" height="28.5" fill="none" stroke="#111" stroke-width="0.7"/>
<line x1="461.4" y1="402.6" x2="461.4" y2="431.1" stroke="#1a1a1a" stroke-width="1.3"/>
<line x1="421.5" y1="431.1" x2="421.5" y2="433.1" stroke="#222" stroke-width="0.6"/>
<text x="421.5" y="440.52" font-size="7" text-anchor="middle" transform="rotate(0.03 421.5 440.52)">−1</text>
<line x1="446.6" y1="431.1" x2="446.6" y2="433.1" stroke="#222" stroke-width="0.6"/>
<text x="446.6" y="440.52" font-size="7" text-anchor="middle" transform="rotate(0.03 446.6 440.52)">0</text>
<line x1="473.2" y1="431.1" x2="473.2" y2="433.1" stroke="#222" stroke-width="0.6"/>
<text x="473.2" y="440.52" font-size="7" text-anchor="middle" transform="rotate(0.03 473.2 440.52)">1</text>
<line x1="499.8" y1="431.1" x2="499.8" y2="433.1" stroke="#222" stroke-width="0.6"/>
<text x="499.8" y="440.52" font-size="7" text-anchor="middle" transform="rotate(0.03 499.8 440.52)">2</text>
<line x1="401.8" y1="430.2" x2="403.8" y2="430.2" stroke="#222" stroke-width="0.6"/>
<text x="398.6" y="430.2" font-size="7" text-anchor="middle" transform="rotate(-90 398.6 430.2)">0</text>
<line x1="401.8" y1="415.7" x2="403.8" y2="415.7" stroke="#222" stroke-width="0.6"/>
<line x1="401.8" y1="405.5" x2="403.8" y2="405.5" stroke="#222" stroke-width="0.6"/>
<text x="398.6" y="417.8" font-size="7" text-anchor="middle" transform="rotate(-90 398.6 417.8)">150</text>
<text x="398.6" y="405.6" font-size="7" text-anchor="middle" transform="rotate(-90 398.6 405.6)">250</text>
<text x="465.8" y="449.91" font-size="6.7" text-anchor="middle" transform="rotate(0.03 465.8 449.91)">slope <tspan font-style="italic">s</tspan></text>
<text x="388" y="412.4" font-size="6.7" text-anchor="middle" transform="rotate(-90 388 412.4)">Frequency</text>
</svg></body></html>
